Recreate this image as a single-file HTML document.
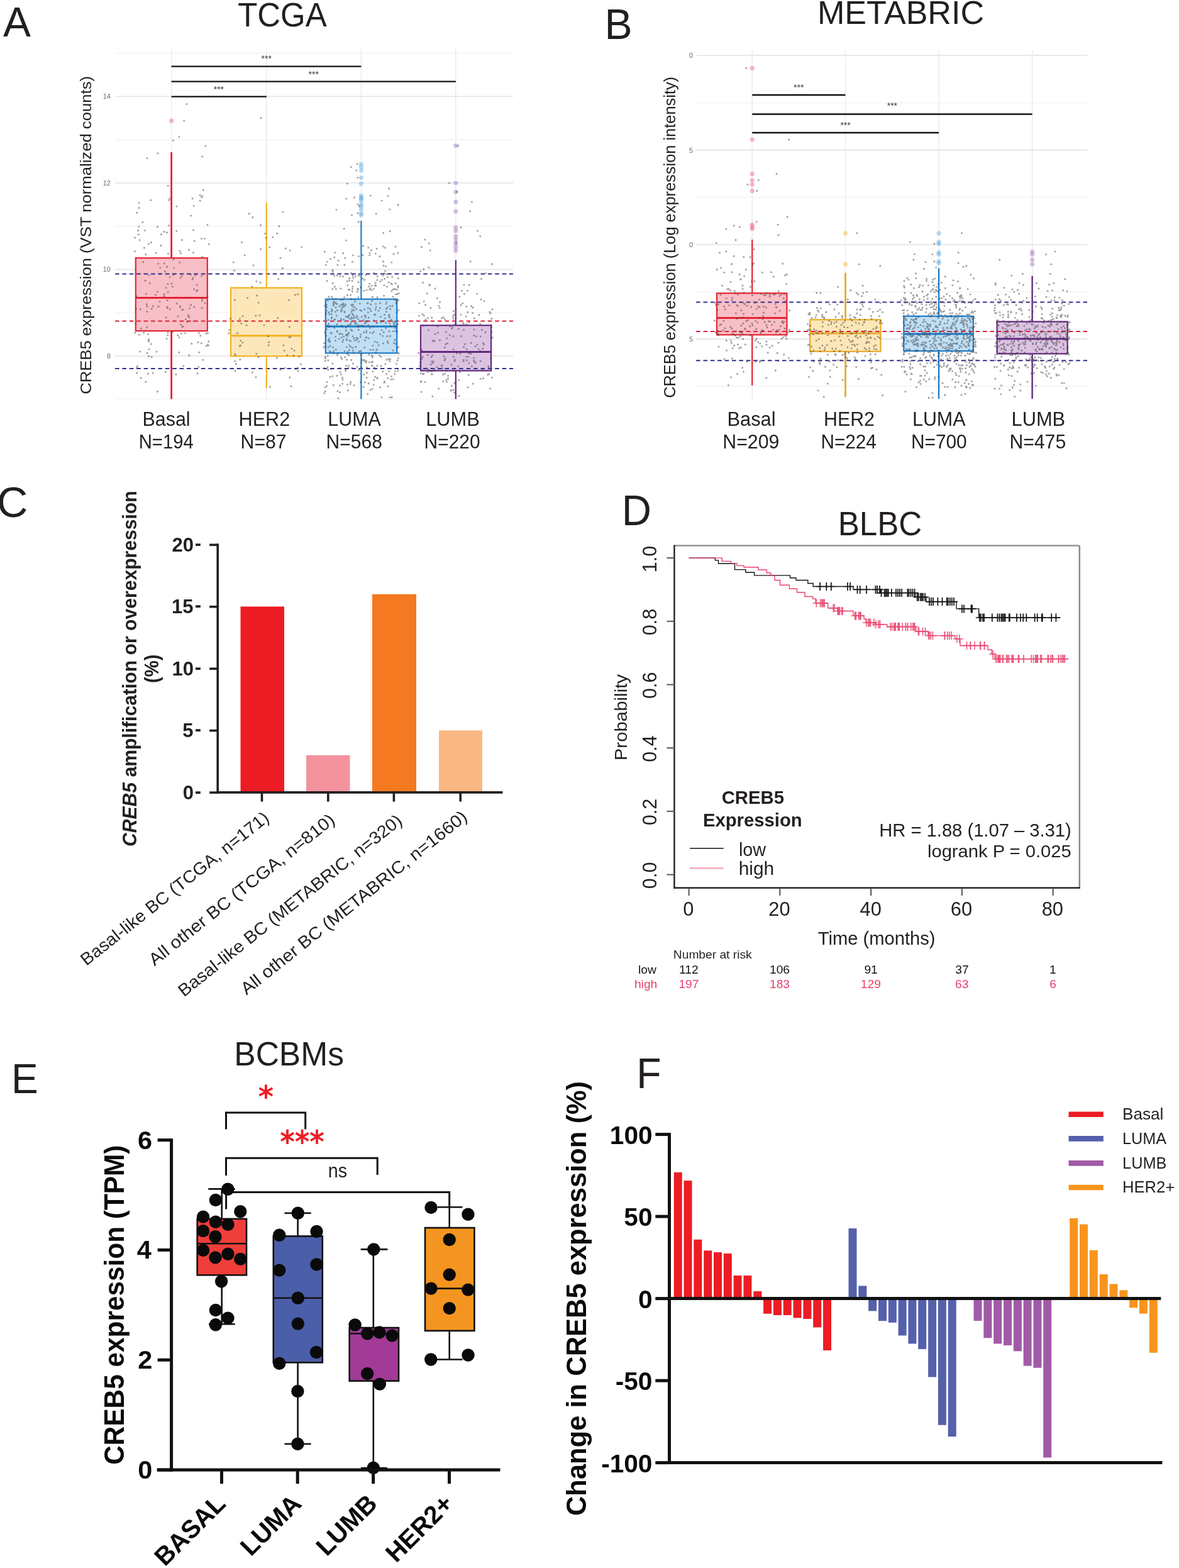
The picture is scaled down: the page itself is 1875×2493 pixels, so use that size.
<!DOCTYPE html>
<html><head><meta charset="utf-8"><title>CREB5 figure</title>
<style>html,body{margin:0;padding:0;background:#fff;}svg{display:block;}</style></head>
<body><svg width="1875" height="2493" viewBox="0 0 1875 2493" font-family='"Liberation Sans", Arial, Helvetica, sans-serif'>
<rect width="1875" height="2493" fill="#fff"/>
<line x1="183" y1="634.5" x2="816" y2="634.5" stroke="#f1f1f1" stroke-width="1.2" />
<line x1="183" y1="497.1" x2="816" y2="497.1" stroke="#f1f1f1" stroke-width="1.2" />
<line x1="183" y1="359.6" x2="816" y2="359.6" stroke="#f1f1f1" stroke-width="1.2" />
<line x1="183" y1="222.1" x2="816" y2="222.1" stroke="#f1f1f1" stroke-width="1.2" />
<line x1="183" y1="84.6" x2="816" y2="84.6" stroke="#f1f1f1" stroke-width="1.2" />
<line x1="183" y1="565.8" x2="816" y2="565.8" stroke="#e6e6e6" stroke-width="1.8" />
<line x1="183" y1="428.3" x2="816" y2="428.3" stroke="#e6e6e6" stroke-width="1.8" />
<line x1="183" y1="290.8" x2="816" y2="290.8" stroke="#e6e6e6" stroke-width="1.8" />
<line x1="183" y1="153.3" x2="816" y2="153.3" stroke="#e6e6e6" stroke-width="1.8" />
<line x1="272.6" y1="77" x2="272.6" y2="634.5" stroke="#e9e9ee" stroke-width="1.3" />
<line x1="423.8" y1="77" x2="423.8" y2="634.5" stroke="#e9e9ee" stroke-width="1.3" />
<line x1="574.4" y1="77" x2="574.4" y2="634.5" stroke="#e9e9ee" stroke-width="1.3" />
<line x1="724.8" y1="77" x2="724.8" y2="634.5" stroke="#e9e9ee" stroke-width="1.3" />
<text x="176" y="569.8" font-size="11" fill="#6d6d6d" text-anchor="end" >8</text>
<text x="176" y="432.3" font-size="11" fill="#6d6d6d" text-anchor="end" >10</text>
<text x="176" y="294.8" font-size="11" fill="#6d6d6d" text-anchor="end" >12</text>
<text x="176" y="157.3" font-size="11" fill="#6d6d6d" text-anchor="end" >14</text>
<rect x="215.8" y="410.2" width="114" height="115.9" fill="#f8bfc6" fill-opacity="1"/>
<rect x="367" y="457.6" width="113" height="108.7" fill="#fde7b8" fill-opacity="1"/>
<rect x="517.8" y="475.6" width="113.4" height="85.8" fill="#bfdff6" fill-opacity="1"/>
<rect x="669" y="517.3" width="112" height="72.1" fill="#dcc3e2" fill-opacity="1"/>
<line x1="183" y1="435.6" x2="816" y2="435.6" stroke="#2e3192" stroke-width="2" stroke-dasharray="6.6 4.8"/>
<line x1="183" y1="586" x2="816" y2="586" stroke="#2e3192" stroke-width="2" stroke-dasharray="6.6 4.8"/>
<line x1="183" y1="510.4" x2="816" y2="510.4" stroke="#e0203a" stroke-width="2" stroke-dasharray="6.6 4.8"/>
<line x1="272.6" y1="242" x2="272.6" y2="410.2" stroke="#e52431" stroke-width="2.8" />
<line x1="272.6" y1="526.1" x2="272.6" y2="634.5" stroke="#e52431" stroke-width="2.8" />
<line x1="423.8" y1="322" x2="423.8" y2="457.6" stroke="#f4b11d" stroke-width="2.2" />
<line x1="423.8" y1="566.3" x2="423.8" y2="617" stroke="#f4b11d" stroke-width="2.2" />
<line x1="574.4" y1="351" x2="574.4" y2="475.6" stroke="#1c7cc9" stroke-width="2.2" />
<line x1="574.4" y1="561.4" x2="574.4" y2="634.5" stroke="#1c7cc9" stroke-width="2.2" />
<line x1="724.8" y1="413.7" x2="724.8" y2="517.3" stroke="#62297f" stroke-width="2.2" />
<line x1="724.8" y1="589.4" x2="724.8" y2="634.5" stroke="#62297f" stroke-width="2.2" />
<rect x="215.8" y="410.2" width="114" height="115.9" fill="none" stroke="#e52431" stroke-width="2.2"/>
<line x1="215.8" y1="473.6" x2="329.8" y2="473.6" stroke="#e52431" stroke-width="3" />
<rect x="367" y="457.6" width="113" height="108.7" fill="none" stroke="#f4b11d" stroke-width="2.2"/>
<line x1="367" y1="533.7" x2="480" y2="533.7" stroke="#f4b11d" stroke-width="3" />
<rect x="517.8" y="475.6" width="113.4" height="85.8" fill="none" stroke="#1c7cc9" stroke-width="2.2"/>
<line x1="517.8" y1="519" x2="631.2" y2="519" stroke="#1c7cc9" stroke-width="3" />
<rect x="669" y="517.3" width="112" height="72.1" fill="none" stroke="#62297f" stroke-width="2.2"/>
<line x1="669" y1="559.4" x2="781" y2="559.4" stroke="#62297f" stroke-width="3" />
<circle cx="272.6" cy="192.2" r="3.6" fill="#f0607a" fill-opacity="0.45"/>
<circle cx="574.4" cy="261" r="3.6" fill="#5aaee8" fill-opacity="0.45"/>
<circle cx="574.4" cy="265.5" r="3.6" fill="#5aaee8" fill-opacity="0.45"/>
<circle cx="574.4" cy="271" r="3.6" fill="#5aaee8" fill-opacity="0.45"/>
<circle cx="574.4" cy="282.5" r="3.6" fill="#5aaee8" fill-opacity="0.45"/>
<circle cx="574.4" cy="292" r="3.6" fill="#5aaee8" fill-opacity="0.45"/>
<circle cx="574.4" cy="311" r="3.6" fill="#5aaee8" fill-opacity="0.45"/>
<circle cx="574.4" cy="314" r="3.6" fill="#5aaee8" fill-opacity="0.45"/>
<circle cx="574.4" cy="316" r="3.6" fill="#5aaee8" fill-opacity="0.45"/>
<circle cx="574.4" cy="319" r="3.6" fill="#5aaee8" fill-opacity="0.45"/>
<circle cx="574.4" cy="325" r="3.6" fill="#5aaee8" fill-opacity="0.45"/>
<circle cx="574.4" cy="328" r="3.6" fill="#5aaee8" fill-opacity="0.45"/>
<circle cx="574.4" cy="333" r="3.6" fill="#5aaee8" fill-opacity="0.45"/>
<circle cx="574.4" cy="339" r="3.6" fill="#5aaee8" fill-opacity="0.45"/>
<circle cx="574.4" cy="342" r="3.6" fill="#5aaee8" fill-opacity="0.45"/>
<circle cx="724.8" cy="231.6" r="3.6" fill="#a070b8" fill-opacity="0.45"/>
<circle cx="724.8" cy="291" r="3.6" fill="#a070b8" fill-opacity="0.45"/>
<circle cx="724.8" cy="305" r="3.6" fill="#a070b8" fill-opacity="0.45"/>
<circle cx="724.8" cy="321" r="3.6" fill="#a070b8" fill-opacity="0.45"/>
<circle cx="724.8" cy="336" r="3.6" fill="#a070b8" fill-opacity="0.45"/>
<circle cx="724.8" cy="361.6" r="3.6" fill="#a070b8" fill-opacity="0.45"/>
<circle cx="724.8" cy="367" r="3.6" fill="#a070b8" fill-opacity="0.45"/>
<circle cx="724.8" cy="375.7" r="3.6" fill="#a070b8" fill-opacity="0.45"/>
<circle cx="724.8" cy="381" r="3.6" fill="#a070b8" fill-opacity="0.45"/>
<circle cx="724.8" cy="387" r="3.6" fill="#a070b8" fill-opacity="0.45"/>
<circle cx="724.8" cy="392.6" r="3.6" fill="#a070b8" fill-opacity="0.45"/>
<circle cx="724.8" cy="398.3" r="3.6" fill="#a070b8" fill-opacity="0.45"/>
<path d="M267.2 357.2h2.6v2.6h-2.6zM281.8 501.7h2.6v2.6h-2.6zM306.5 509.5h2.6v2.6h-2.6zM247.7 557.8h2.6v2.6h-2.6zM216.3 591.7h2.6v2.6h-2.6zM327.1 548.8h2.6v2.6h-2.6zM213.1 398.5h2.6v2.6h-2.6zM218.4 365.3h2.6v2.6h-2.6zM264.2 422.8h2.6v2.6h-2.6zM273.6 526.2h2.6v2.6h-2.6zM266.2 401.9h2.6v2.6h-2.6zM331 386.9h2.6v2.6h-2.6zM249.1 621.3h2.6v2.6h-2.6zM246 467.4h2.6v2.6h-2.6zM312.9 592.3h2.6v2.6h-2.6zM326.3 529h2.6v2.6h-2.6zM320.5 473.8h2.6v2.6h-2.6zM328.9 469.8h2.6v2.6h-2.6zM304.7 443h2.6v2.6h-2.6zM221.8 490.5h2.6v2.6h-2.6zM225.5 352.1h2.6v2.6h-2.6zM232.6 494.3h2.6v2.6h-2.6zM265 488.5h2.6v2.6h-2.6zM288.5 518.3h2.6v2.6h-2.6zM261.8 589.9h2.6v2.6h-2.6zM307.7 486.6h2.6v2.6h-2.6zM317.5 532.4h2.6v2.6h-2.6zM288.3 491.3h2.6v2.6h-2.6zM330 547.9h2.6v2.6h-2.6zM250.8 486.1h2.6v2.6h-2.6zM220.1 530.9h2.6v2.6h-2.6zM283.5 559.1h2.6v2.6h-2.6zM265.7 527.5h2.6v2.6h-2.6zM315.3 558.9h2.6v2.6h-2.6zM229.8 444.9h2.6v2.6h-2.6zM234.1 592.8h2.6v2.6h-2.6zM324.1 377.9h2.6v2.6h-2.6zM283.7 535.1h2.6v2.6h-2.6zM239.9 489.7h2.6v2.6h-2.6zM242.1 485.6h2.6v2.6h-2.6zM232.4 519.2h2.6v2.6h-2.6zM219.6 359h2.6v2.6h-2.6zM285 485.8h2.6v2.6h-2.6zM321.4 571h2.6v2.6h-2.6zM264.8 476.4h2.6v2.6h-2.6zM232.5 485.9h2.6v2.6h-2.6zM254.8 389.1h2.6v2.6h-2.6zM329 546.8h2.6v2.6h-2.6zM228.1 392.8h2.6v2.6h-2.6zM320.5 247.7h2.6v2.6h-2.6zM269.2 490.4h2.6v2.6h-2.6zM249.6 242.5h2.6v2.6h-2.6zM299.7 503.1h2.6v2.6h-2.6zM299.8 472.1h2.6v2.6h-2.6zM253.5 424.4h2.6v2.6h-2.6zM319.4 312.4h2.6v2.6h-2.6zM314.9 528.1h2.6v2.6h-2.6zM286.3 401.6h2.6v2.6h-2.6zM220.9 380.5h2.6v2.6h-2.6zM330.5 541.6h2.6v2.6h-2.6zM299.5 563.8h2.6v2.6h-2.6zM264.2 368.3h2.6v2.6h-2.6zM214.9 489.5h2.6v2.6h-2.6zM269 438.9h2.6v2.6h-2.6zM285 487.2h2.6v2.6h-2.6zM242 591.9h2.6v2.6h-2.6zM235.6 538h2.6v2.6h-2.6zM320 477h2.6v2.6h-2.6zM250.5 417.9h2.6v2.6h-2.6zM235.1 386.6h2.6v2.6h-2.6zM316.9 317.9h2.6v2.6h-2.6zM281.3 531.6h2.6v2.6h-2.6zM311.8 451.7h2.6v2.6h-2.6zM296.6 510.8h2.6v2.6h-2.6zM265.4 531.9h2.6v2.6h-2.6zM237 448.9h2.6v2.6h-2.6zM249.1 359.3h2.6v2.6h-2.6zM329.1 528.4h2.6v2.6h-2.6zM216.3 583.3h2.6v2.6h-2.6zM279.8 481.3h2.6v2.6h-2.6zM265.9 294h2.6v2.6h-2.6zM239.8 566.3h2.6v2.6h-2.6zM264.9 487.6h2.6v2.6h-2.6zM289.9 491h2.6v2.6h-2.6zM235.2 541.6h2.6v2.6h-2.6zM232.7 250.5h2.6v2.6h-2.6zM232.8 560.1h2.6v2.6h-2.6zM252.8 478.2h2.6v2.6h-2.6zM302 435.3h2.6v2.6h-2.6zM306.3 364.5h2.6v2.6h-2.6zM298 499.9h2.6v2.6h-2.6zM265.7 450h2.6v2.6h-2.6zM279.6 327h2.6v2.6h-2.6zM306.9 326h2.6v2.6h-2.6zM235.9 553.9h2.6v2.6h-2.6zM309.5 436.3h2.6v2.6h-2.6zM319.3 378.2h2.6v2.6h-2.6zM328.6 356.2h2.6v2.6h-2.6zM320.5 310.5h2.6v2.6h-2.6zM253.1 434h2.6v2.6h-2.6zM303.5 545.1h2.6v2.6h-2.6zM214.7 514h2.6v2.6h-2.6zM232 482.6h2.6v2.6h-2.6zM305.8 440.4h2.6v2.6h-2.6zM298.1 500.3h2.6v2.6h-2.6zM294 506.4h2.6v2.6h-2.6zM221.6 557.7h2.6v2.6h-2.6zM274.5 435.7h2.6v2.6h-2.6zM274 434.4h2.6v2.6h-2.6zM278.5 594.1h2.6v2.6h-2.6zM319.4 437.5h2.6v2.6h-2.6zM313.4 542.9h2.6v2.6h-2.6zM235.4 565.3h2.6v2.6h-2.6zM271.7 449.7h2.6v2.6h-2.6zM273.2 454.7h2.6v2.6h-2.6zM307.4 458.6h2.6v2.6h-2.6zM219.2 371.5h2.6v2.6h-2.6zM261 430.3h2.6v2.6h-2.6zM226.5 415.3h2.6v2.6h-2.6zM268.5 314.2h2.6v2.6h-2.6zM234.3 530.2h2.6v2.6h-2.6zM304.8 314.3h2.6v2.6h-2.6zM238.6 316.9h2.6v2.6h-2.6zM285.7 440.4h2.6v2.6h-2.6zM299 395.8h2.6v2.6h-2.6zM235 539h2.6v2.6h-2.6zM263.7 537.2h2.6v2.6h-2.6zM230.5 403.3h2.6v2.6h-2.6zM287.1 528.9h2.6v2.6h-2.6zM284.7 397.9h2.6v2.6h-2.6zM239.2 384.1h2.6v2.6h-2.6zM249.2 462.4h2.6v2.6h-2.6zM322 301.1h2.6v2.6h-2.6zM227.4 527.7h2.6v2.6h-2.6zM311.2 461.6h2.6v2.6h-2.6zM306.1 400.2h2.6v2.6h-2.6zM213.4 527.8h2.6v2.6h-2.6zM293.2 528.5h2.6v2.6h-2.6zM302.3 341.7h2.6v2.6h-2.6zM219.8 329.3h2.6v2.6h-2.6zM215.8 469.8h2.6v2.6h-2.6zM228.9 365.2h2.6v2.6h-2.6zM235.8 436.2h2.6v2.6h-2.6zM222.7 599.6h2.6v2.6h-2.6zM325.5 230.9h2.6v2.6h-2.6zM267.3 316.9h2.6v2.6h-2.6zM262.9 503.6h2.6v2.6h-2.6zM312.6 459.9h2.6v2.6h-2.6zM265.8 463.2h2.6v2.6h-2.6zM231.1 465.9h2.6v2.6h-2.6zM213.2 376.7h2.6v2.6h-2.6zM314.6 581.9h2.6v2.6h-2.6zM259.8 367.1h2.6v2.6h-2.6zM307.9 382h2.6v2.6h-2.6zM320.7 407.1h2.6v2.6h-2.6zM260 466.6h2.6v2.6h-2.6zM316.9 309.3h2.6v2.6h-2.6zM260 417.7h2.6v2.6h-2.6zM219.8 321.4h2.6v2.6h-2.6zM287.9 380.3h2.6v2.6h-2.6zM239.2 545.7h2.6v2.6h-2.6zM290.5 580.7h2.6v2.6h-2.6zM275.3 424.9h2.6v2.6h-2.6zM295.5 164.2h2.6v2.6h-2.6zM300 488.9h2.6v2.6h-2.6zM259.5 469.8h2.6v2.6h-2.6zM223.1 521.1h2.6v2.6h-2.6zM320 488.3h2.6v2.6h-2.6zM279.5 365.9h2.6v2.6h-2.6zM287.9 437.7h2.6v2.6h-2.6zM302.4 483.6h2.6v2.6h-2.6zM230.5 605.8h2.6v2.6h-2.6zM284.6 416h2.6v2.6h-2.6zM324.7 480.7h2.6v2.6h-2.6zM255.2 371.3h2.6v2.6h-2.6zM289.9 517.8h2.6v2.6h-2.6zM246.8 401h2.6v2.6h-2.6zM216.4 336.9h2.6v2.6h-2.6zM319 544.6h2.6v2.6h-2.6zM217.3 580.9h2.6v2.6h-2.6zM262.8 456.4h2.6v2.6h-2.6zM274.1 221.9h2.6v2.6h-2.6zM298 501.7h2.6v2.6h-2.6zM283.7 216.5h2.6v2.6h-2.6zM286.2 515h2.6v2.6h-2.6zM274.7 411.3h2.6v2.6h-2.6zM264.4 486.7h2.6v2.6h-2.6zM291.4 190.9h2.6v2.6h-2.6zM412.8 447.8h2.6v2.6h-2.6zM426.2 542.8h2.6v2.6h-2.6zM376.2 528.3h2.6v2.6h-2.6zM405.6 598.5h2.6v2.6h-2.6zM444.7 409h2.6v2.6h-2.6zM452.9 393.8h2.6v2.6h-2.6zM392.4 472.5h2.6v2.6h-2.6zM395 338.6h2.6v2.6h-2.6zM427.5 391.8h2.6v2.6h-2.6zM372.9 563h2.6v2.6h-2.6zM407.3 468.6h2.6v2.6h-2.6zM387.8 404.7h2.6v2.6h-2.6zM371.4 428.8h2.6v2.6h-2.6zM459.6 598.8h2.6v2.6h-2.6zM413.4 394.8h2.6v2.6h-2.6zM459.7 397h2.6v2.6h-2.6zM401.5 420.7h2.6v2.6h-2.6zM452 584h2.6v2.6h-2.6zM374.1 577.3h2.6v2.6h-2.6zM371.9 475.5h2.6v2.6h-2.6zM444.7 586.4h2.6v2.6h-2.6zM455.6 563.4h2.6v2.6h-2.6zM372.3 562.1h2.6v2.6h-2.6zM449.5 547.8h2.6v2.6h-2.6zM405.4 500.7h2.6v2.6h-2.6zM406.5 446h2.6v2.6h-2.6zM472.7 588.6h2.6v2.6h-2.6zM472.1 583.5h2.6v2.6h-2.6zM400.6 344.3h2.6v2.6h-2.6zM474.7 565.5h2.6v2.6h-2.6zM406.4 561.2h2.6v2.6h-2.6zM410 480h2.6v2.6h-2.6zM458.1 475.9h2.6v2.6h-2.6zM462.9 553.1h2.6v2.6h-2.6zM468.2 467.5h2.6v2.6h-2.6zM365.2 505.4h2.6v2.6h-2.6zM478.5 391.7h2.6v2.6h-2.6zM459 518.5h2.6v2.6h-2.6zM372.6 588.3h2.6v2.6h-2.6zM450.9 556.2h2.6v2.6h-2.6zM379.8 548.8h2.6v2.6h-2.6zM440.4 504.3h2.6v2.6h-2.6zM425.1 533.4h2.6v2.6h-2.6zM409.8 566.5h2.6v2.6h-2.6zM421.7 377h2.6v2.6h-2.6zM411.8 500.2h2.6v2.6h-2.6zM442.5 358.3h2.6v2.6h-2.6zM469.1 585.4h2.6v2.6h-2.6zM439.3 369.8h2.6v2.6h-2.6zM413.1 356.8h2.6v2.6h-2.6zM380 505.9h2.6v2.6h-2.6zM382.6 513.3h2.6v2.6h-2.6zM413.5 186.6h2.6v2.6h-2.6zM399.5 454.5h2.6v2.6h-2.6zM370 415.7h2.6v2.6h-2.6zM432.6 376h2.6v2.6h-2.6zM384.6 543.5h2.6v2.6h-2.6zM390.7 515.8h2.6v2.6h-2.6zM384.7 501.4h2.6v2.6h-2.6zM383.2 384h2.6v2.6h-2.6zM460.6 534.4h2.6v2.6h-2.6zM393.8 435h2.6v2.6h-2.6zM428.2 613.8h2.6v2.6h-2.6zM420.4 369.9h2.6v2.6h-2.6zM458.7 535.2h2.6v2.6h-2.6zM425.8 547.6h2.6v2.6h-2.6zM441.4 442.5h2.6v2.6h-2.6zM363.8 523.4h2.6v2.6h-2.6zM448.1 425.3h2.6v2.6h-2.6zM381.4 540.4h2.6v2.6h-2.6zM466.8 555.9h2.6v2.6h-2.6zM438.9 567.9h2.6v2.6h-2.6zM380.6 570.4h2.6v2.6h-2.6zM362.7 528.6h2.6v2.6h-2.6zM372.4 573h2.6v2.6h-2.6zM448.5 335.7h2.6v2.6h-2.6zM477.2 577.7h2.6v2.6h-2.6zM465.4 564.1h2.6v2.6h-2.6zM472.5 466.6h2.6v2.6h-2.6zM461.7 612.9h2.6v2.6h-2.6zM381.4 548h2.6v2.6h-2.6zM399.9 590.9h2.6v2.6h-2.6zM418.6 515.7h2.6v2.6h-2.6zM556.3 540.9h2.6v2.6h-2.6zM568.5 506h2.6v2.6h-2.6zM612.7 489.6h2.6v2.6h-2.6zM598.3 511.9h2.6v2.6h-2.6zM580.8 509.3h2.6v2.6h-2.6zM609 508.7h2.6v2.6h-2.6zM587 520.1h2.6v2.6h-2.6zM548.9 502h2.6v2.6h-2.6zM560.2 576.8h2.6v2.6h-2.6zM600.9 492.9h2.6v2.6h-2.6zM626.5 474.8h2.6v2.6h-2.6zM612.3 422.4h2.6v2.6h-2.6zM530 478h2.6v2.6h-2.6zM534.7 596.1h2.6v2.6h-2.6zM613.5 570.6h2.6v2.6h-2.6zM532 494.4h2.6v2.6h-2.6zM561.9 502.3h2.6v2.6h-2.6zM590.8 580.1h2.6v2.6h-2.6zM552.9 530h2.6v2.6h-2.6zM515 399h2.6v2.6h-2.6zM607.9 436.7h2.6v2.6h-2.6zM586.1 574.7h2.6v2.6h-2.6zM591.2 573.7h2.6v2.6h-2.6zM558.4 524.3h2.6v2.6h-2.6zM586.5 404.5h2.6v2.6h-2.6zM605.1 511h2.6v2.6h-2.6zM573.1 582.7h2.6v2.6h-2.6zM598.7 471.3h2.6v2.6h-2.6zM613.4 593.2h2.6v2.6h-2.6zM626.5 511.3h2.6v2.6h-2.6zM542.5 487.9h2.6v2.6h-2.6zM596.8 487.1h2.6v2.6h-2.6zM568.7 447.1h2.6v2.6h-2.6zM578.3 551.2h2.6v2.6h-2.6zM580.3 512h2.6v2.6h-2.6zM611.2 505h2.6v2.6h-2.6zM620.7 601.9h2.6v2.6h-2.6zM581.9 599.4h2.6v2.6h-2.6zM522.3 537.3h2.6v2.6h-2.6zM631.5 400.7h2.6v2.6h-2.6zM593.6 603.2h2.6v2.6h-2.6zM558.9 482.7h2.6v2.6h-2.6zM569.3 406.3h2.6v2.6h-2.6zM559.5 454.3h2.6v2.6h-2.6zM544.7 481.7h2.6v2.6h-2.6zM553 500.9h2.6v2.6h-2.6zM530.5 506.5h2.6v2.6h-2.6zM585.1 503.8h2.6v2.6h-2.6zM595.8 452.6h2.6v2.6h-2.6zM603.3 529.9h2.6v2.6h-2.6zM615.7 310.5h2.6v2.6h-2.6zM565.2 535.8h2.6v2.6h-2.6zM576.1 389.8h2.6v2.6h-2.6zM621.6 461.4h2.6v2.6h-2.6zM621.1 508.4h2.6v2.6h-2.6zM584.8 536.7h2.6v2.6h-2.6zM521.5 518.3h2.6v2.6h-2.6zM566.7 462.8h2.6v2.6h-2.6zM596.5 453h2.6v2.6h-2.6zM541.8 516.6h2.6v2.6h-2.6zM521.3 495.3h2.6v2.6h-2.6zM629.1 576.9h2.6v2.6h-2.6zM609.7 452.5h2.6v2.6h-2.6zM602.7 406.3h2.6v2.6h-2.6zM608.2 390.7h2.6v2.6h-2.6zM577.6 461h2.6v2.6h-2.6zM549 519.7h2.6v2.6h-2.6zM520.6 517h2.6v2.6h-2.6zM555.9 609.1h2.6v2.6h-2.6zM518.6 445.3h2.6v2.6h-2.6zM625.2 543.8h2.6v2.6h-2.6zM548.5 588.1h2.6v2.6h-2.6zM620.7 507.3h2.6v2.6h-2.6zM569.8 558h2.6v2.6h-2.6zM618.7 630.7h2.6v2.6h-2.6zM536.1 559.9h2.6v2.6h-2.6zM519.1 516.5h2.6v2.6h-2.6zM621.1 597.2h2.6v2.6h-2.6zM598.7 580.2h2.6v2.6h-2.6zM566.5 581.9h2.6v2.6h-2.6zM539.9 590.4h2.6v2.6h-2.6zM534.8 482.1h2.6v2.6h-2.6zM592.9 610.4h2.6v2.6h-2.6zM619.2 533h2.6v2.6h-2.6zM540.6 457.6h2.6v2.6h-2.6zM546.3 471.4h2.6v2.6h-2.6zM576.8 613.9h2.6v2.6h-2.6zM543.2 599.3h2.6v2.6h-2.6zM523.6 541.6h2.6v2.6h-2.6zM546.6 494h2.6v2.6h-2.6zM535.5 620.7h2.6v2.6h-2.6zM603.2 480.6h2.6v2.6h-2.6zM624.6 402.6h2.6v2.6h-2.6zM590.5 477.2h2.6v2.6h-2.6zM592.1 517.7h2.6v2.6h-2.6zM614.5 533.3h2.6v2.6h-2.6zM575.6 441.8h2.6v2.6h-2.6zM532.9 554.8h2.6v2.6h-2.6zM541.3 505.8h2.6v2.6h-2.6zM608 414.6h2.6v2.6h-2.6zM571.8 557.3h2.6v2.6h-2.6zM517.3 532.6h2.6v2.6h-2.6zM598.9 599.2h2.6v2.6h-2.6zM531.3 400.4h2.6v2.6h-2.6zM565.3 490.3h2.6v2.6h-2.6zM521.8 470.8h2.6v2.6h-2.6zM581.4 535.3h2.6v2.6h-2.6zM530.6 407.9h2.6v2.6h-2.6zM518.2 487.1h2.6v2.6h-2.6zM544.9 482.4h2.6v2.6h-2.6zM523.7 598.2h2.6v2.6h-2.6zM532.3 534.2h2.6v2.6h-2.6zM612.8 482h2.6v2.6h-2.6zM556.8 522.8h2.6v2.6h-2.6zM629.6 495.4h2.6v2.6h-2.6zM631.4 588.1h2.6v2.6h-2.6zM567.7 536.8h2.6v2.6h-2.6zM619.9 517.1h2.6v2.6h-2.6zM560.3 499.5h2.6v2.6h-2.6zM517.2 497.6h2.6v2.6h-2.6zM604.7 580.8h2.6v2.6h-2.6zM579.3 513.1h2.6v2.6h-2.6zM568.5 471.4h2.6v2.6h-2.6zM630.8 572.2h2.6v2.6h-2.6zM517.9 492.5h2.6v2.6h-2.6zM554.3 441.3h2.6v2.6h-2.6zM616.8 569.8h2.6v2.6h-2.6zM560.3 404.7h2.6v2.6h-2.6zM558.8 445.3h2.6v2.6h-2.6zM535.1 526.3h2.6v2.6h-2.6zM532.8 473.7h2.6v2.6h-2.6zM550.1 530.2h2.6v2.6h-2.6zM632.3 559.5h2.6v2.6h-2.6zM559.1 462.5h2.6v2.6h-2.6zM596.1 402h2.6v2.6h-2.6zM544.6 401.3h2.6v2.6h-2.6zM623.9 555.9h2.6v2.6h-2.6zM531.5 506.7h2.6v2.6h-2.6zM556.3 468h2.6v2.6h-2.6zM515.5 527.6h2.6v2.6h-2.6zM559.2 415h2.6v2.6h-2.6zM605.6 630.4h2.6v2.6h-2.6zM519.7 582.6h2.6v2.6h-2.6zM584.5 392.5h2.6v2.6h-2.6zM564 438.2h2.6v2.6h-2.6zM544.3 484.2h2.6v2.6h-2.6zM593 508.2h2.6v2.6h-2.6zM598.6 543.3h2.6v2.6h-2.6zM559.5 551.7h2.6v2.6h-2.6zM554.5 547.7h2.6v2.6h-2.6zM518 483.3h2.6v2.6h-2.6zM610.2 605.3h2.6v2.6h-2.6zM548.9 531.3h2.6v2.6h-2.6zM595.8 448.6h2.6v2.6h-2.6zM627.7 391h2.6v2.6h-2.6zM523.9 548.8h2.6v2.6h-2.6zM560.2 483.1h2.6v2.6h-2.6zM572.8 575.2h2.6v2.6h-2.6zM532.1 540.5h2.6v2.6h-2.6zM592.9 457.9h2.6v2.6h-2.6zM524.3 558.8h2.6v2.6h-2.6zM583 480.9h2.6v2.6h-2.6zM579.5 572.9h2.6v2.6h-2.6zM556.8 513.4h2.6v2.6h-2.6zM561.6 504.5h2.6v2.6h-2.6zM569.4 587h2.6v2.6h-2.6zM543.5 542.4h2.6v2.6h-2.6zM581 575.1h2.6v2.6h-2.6zM593.3 526.2h2.6v2.6h-2.6zM627.7 545.4h2.6v2.6h-2.6zM582.2 582.8h2.6v2.6h-2.6zM587.6 618.7h2.6v2.6h-2.6zM563 478.5h2.6v2.6h-2.6zM558.9 497.9h2.6v2.6h-2.6zM550.1 550.7h2.6v2.6h-2.6zM630.3 525.8h2.6v2.6h-2.6zM594.7 541.9h2.6v2.6h-2.6zM513.2 550.9h2.6v2.6h-2.6zM572.3 455.7h2.6v2.6h-2.6zM578.9 500.2h2.6v2.6h-2.6zM629.4 459.1h2.6v2.6h-2.6zM554.7 459.6h2.6v2.6h-2.6zM596.5 558.9h2.6v2.6h-2.6zM628.8 481.2h2.6v2.6h-2.6zM572 534.4h2.6v2.6h-2.6zM557.4 483.8h2.6v2.6h-2.6zM541.5 493.9h2.6v2.6h-2.6zM552.1 619.6h2.6v2.6h-2.6zM520.7 550.8h2.6v2.6h-2.6zM525.4 585.5h2.6v2.6h-2.6zM605.8 508.9h2.6v2.6h-2.6zM532.6 487.5h2.6v2.6h-2.6zM543.6 602.4h2.6v2.6h-2.6zM608.7 420.9h2.6v2.6h-2.6zM599 438.1h2.6v2.6h-2.6zM553.2 580.2h2.6v2.6h-2.6zM581.2 524.7h2.6v2.6h-2.6zM597.9 394.2h2.6v2.6h-2.6zM528.1 430.8h2.6v2.6h-2.6zM593.4 433h2.6v2.6h-2.6zM626 515.7h2.6v2.6h-2.6zM529.1 557.6h2.6v2.6h-2.6zM560.7 492.1h2.6v2.6h-2.6zM631.8 455.7h2.6v2.6h-2.6zM518.2 612.4h2.6v2.6h-2.6zM600.8 547.6h2.6v2.6h-2.6zM516.3 549.5h2.6v2.6h-2.6zM571.1 516.4h2.6v2.6h-2.6zM613.7 479h2.6v2.6h-2.6zM560.1 556.3h2.6v2.6h-2.6zM559.8 436.8h2.6v2.6h-2.6zM578.6 443.8h2.6v2.6h-2.6zM526 528.7h2.6v2.6h-2.6zM543.3 483.2h2.6v2.6h-2.6zM515.4 485.2h2.6v2.6h-2.6zM530.3 520h2.6v2.6h-2.6zM571 481.4h2.6v2.6h-2.6zM544.3 481.2h2.6v2.6h-2.6zM550.2 539.5h2.6v2.6h-2.6zM535 525h2.6v2.6h-2.6zM617.2 298.6h2.6v2.6h-2.6zM562.8 540.1h2.6v2.6h-2.6zM579.2 539.8h2.6v2.6h-2.6zM587.9 457.2h2.6v2.6h-2.6zM632.4 491.9h2.6v2.6h-2.6zM516.3 568.4h2.6v2.6h-2.6zM527.4 428.3h2.6v2.6h-2.6zM550.3 570.6h2.6v2.6h-2.6zM514.4 544.5h2.6v2.6h-2.6zM610.3 499.2h2.6v2.6h-2.6zM612.4 511.8h2.6v2.6h-2.6zM631.4 453h2.6v2.6h-2.6zM543.2 608.9h2.6v2.6h-2.6zM540.4 529.3h2.6v2.6h-2.6zM557.4 510.2h2.6v2.6h-2.6zM589.7 452.9h2.6v2.6h-2.6zM546.6 419.8h2.6v2.6h-2.6zM553.3 563.5h2.6v2.6h-2.6zM538.5 485.9h2.6v2.6h-2.6zM534.4 514.2h2.6v2.6h-2.6zM530.3 436.9h2.6v2.6h-2.6zM561.5 492.2h2.6v2.6h-2.6zM577.6 571.6h2.6v2.6h-2.6zM551.6 558.3h2.6v2.6h-2.6zM526.1 504.8h2.6v2.6h-2.6zM539.5 584.2h2.6v2.6h-2.6zM597.8 512.3h2.6v2.6h-2.6zM626.8 539.7h2.6v2.6h-2.6zM535.1 562.9h2.6v2.6h-2.6zM589.3 396.6h2.6v2.6h-2.6zM619.6 490.2h2.6v2.6h-2.6zM588.5 482.8h2.6v2.6h-2.6zM613.6 434.4h2.6v2.6h-2.6zM567.5 515.2h2.6v2.6h-2.6zM540.7 483.7h2.6v2.6h-2.6zM581.8 459.9h2.6v2.6h-2.6zM566.7 501.3h2.6v2.6h-2.6zM584.4 516.1h2.6v2.6h-2.6zM632.2 550.5h2.6v2.6h-2.6zM550.7 502.3h2.6v2.6h-2.6zM617.2 501.6h2.6v2.6h-2.6zM631.9 324.3h2.6v2.6h-2.6zM591 470.8h2.6v2.6h-2.6zM612.6 520.3h2.6v2.6h-2.6zM520.9 539.9h2.6v2.6h-2.6zM598.5 444.1h2.6v2.6h-2.6zM577.5 517.2h2.6v2.6h-2.6zM536.6 631.8h2.6v2.6h-2.6zM579.7 500.6h2.6v2.6h-2.6zM572 606.5h2.6v2.6h-2.6zM605.6 523.5h2.6v2.6h-2.6zM621.8 630.3h2.6v2.6h-2.6zM525.1 528.1h2.6v2.6h-2.6zM616.9 447.7h2.6v2.6h-2.6zM559.7 533.5h2.6v2.6h-2.6zM587.1 489.9h2.6v2.6h-2.6zM537.9 537.5h2.6v2.6h-2.6zM618.3 503.3h2.6v2.6h-2.6zM564.8 511.7h2.6v2.6h-2.6zM550.9 446h2.6v2.6h-2.6zM596.5 482h2.6v2.6h-2.6zM528.5 479.9h2.6v2.6h-2.6zM527 492.7h2.6v2.6h-2.6zM586.3 450h2.6v2.6h-2.6zM596.1 491.1h2.6v2.6h-2.6zM556.3 550.1h2.6v2.6h-2.6zM588.8 493.3h2.6v2.6h-2.6zM611.5 577.5h2.6v2.6h-2.6zM626.1 457.9h2.6v2.6h-2.6zM597.5 555.3h2.6v2.6h-2.6zM617.8 525.5h2.6v2.6h-2.6zM615.6 600.1h2.6v2.6h-2.6zM559.6 486.2h2.6v2.6h-2.6zM585.3 454.2h2.6v2.6h-2.6zM546.9 495.5h2.6v2.6h-2.6zM627.6 525h2.6v2.6h-2.6zM542.5 491.3h2.6v2.6h-2.6zM529 611.1h2.6v2.6h-2.6zM554.1 555.6h2.6v2.6h-2.6zM615.1 487.8h2.6v2.6h-2.6zM620.7 449.6h2.6v2.6h-2.6zM556.7 474.1h2.6v2.6h-2.6zM554.4 445h2.6v2.6h-2.6zM627.1 589.2h2.6v2.6h-2.6zM556.5 605.8h2.6v2.6h-2.6zM551 530.6h2.6v2.6h-2.6zM630.3 475.8h2.6v2.6h-2.6zM560.5 440.6h2.6v2.6h-2.6zM632.8 560.9h2.6v2.6h-2.6zM568.6 435.6h2.6v2.6h-2.6zM631.9 441.2h2.6v2.6h-2.6zM557.5 571.1h2.6v2.6h-2.6zM523.1 556.9h2.6v2.6h-2.6zM591 567h2.6v2.6h-2.6zM610.4 441.9h2.6v2.6h-2.6zM606.2 443.7h2.6v2.6h-2.6zM626.4 593.4h2.6v2.6h-2.6zM516 566h2.6v2.6h-2.6zM526.4 470.4h2.6v2.6h-2.6zM549.3 580.4h2.6v2.6h-2.6zM528.7 484.5h2.6v2.6h-2.6zM574.6 516.2h2.6v2.6h-2.6zM562.8 487.3h2.6v2.6h-2.6zM539.2 622.5h2.6v2.6h-2.6zM615.2 439.2h2.6v2.6h-2.6zM615.1 541.7h2.6v2.6h-2.6zM561.9 611.5h2.6v2.6h-2.6zM514.4 623.9h2.6v2.6h-2.6zM611.3 392.6h2.6v2.6h-2.6zM576.8 507.8h2.6v2.6h-2.6zM549.2 381h2.6v2.6h-2.6zM518.6 605.9h2.6v2.6h-2.6zM522.5 498.2h2.6v2.6h-2.6zM552.6 515.6h2.6v2.6h-2.6zM591.6 548.2h2.6v2.6h-2.6zM621.6 416h2.6v2.6h-2.6zM544.1 474.9h2.6v2.6h-2.6zM564.6 550.3h2.6v2.6h-2.6zM567.2 457.7h2.6v2.6h-2.6zM520.5 586.6h2.6v2.6h-2.6zM539.8 437.9h2.6v2.6h-2.6zM557.7 503.6h2.6v2.6h-2.6zM603 488.6h2.6v2.6h-2.6zM514.2 584.2h2.6v2.6h-2.6zM628.4 517.9h2.6v2.6h-2.6zM584.9 608.3h2.6v2.6h-2.6zM583.8 480.7h2.6v2.6h-2.6zM572.8 556.7h2.6v2.6h-2.6zM524.2 410.5h2.6v2.6h-2.6zM545.5 506.8h2.6v2.6h-2.6zM561.4 536.4h2.6v2.6h-2.6zM594.7 452.7h2.6v2.6h-2.6zM551.2 610.2h2.6v2.6h-2.6zM519.9 564.5h2.6v2.6h-2.6zM518.9 414.9h2.6v2.6h-2.6zM589.7 459.9h2.6v2.6h-2.6zM603.4 614.6h2.6v2.6h-2.6zM563.3 511.7h2.6v2.6h-2.6zM631.1 514.4h2.6v2.6h-2.6zM566 539.2h2.6v2.6h-2.6zM558.4 505h2.6v2.6h-2.6zM551.5 452.4h2.6v2.6h-2.6zM521.7 539.5h2.6v2.6h-2.6zM578.9 606.6h2.6v2.6h-2.6zM527.3 597h2.6v2.6h-2.6zM623.8 458.9h2.6v2.6h-2.6zM527.9 449.1h2.6v2.6h-2.6zM569.8 557.4h2.6v2.6h-2.6zM594 583.3h2.6v2.6h-2.6zM572.3 530.8h2.6v2.6h-2.6zM525.7 494.1h2.6v2.6h-2.6zM533.1 458.5h2.6v2.6h-2.6zM532.8 480.6h2.6v2.6h-2.6zM584.1 495.5h2.6v2.6h-2.6zM614.2 454.4h2.6v2.6h-2.6zM583.2 509.7h2.6v2.6h-2.6zM596.8 338.4h2.6v2.6h-2.6zM544.5 539.3h2.6v2.6h-2.6zM520.8 507.4h2.6v2.6h-2.6zM558.4 434.2h2.6v2.6h-2.6zM580.2 503.4h2.6v2.6h-2.6zM622.3 450.7h2.6v2.6h-2.6zM603.5 446.2h2.6v2.6h-2.6zM549.9 537.6h2.6v2.6h-2.6zM581.3 527.4h2.6v2.6h-2.6zM553.1 503.6h2.6v2.6h-2.6zM609.8 607.2h2.6v2.6h-2.6zM577.3 527.1h2.6v2.6h-2.6zM527.6 473.6h2.6v2.6h-2.6zM624 525.5h2.6v2.6h-2.6zM556.8 433h2.6v2.6h-2.6zM616 613.1h2.6v2.6h-2.6zM544.9 486.7h2.6v2.6h-2.6zM543.5 517.8h2.6v2.6h-2.6zM543.4 530.4h2.6v2.6h-2.6zM547.3 566.7h2.6v2.6h-2.6zM574.2 571h2.6v2.6h-2.6zM615.7 543.8h2.6v2.6h-2.6zM578.4 490.6h2.6v2.6h-2.6zM623.4 509.7h2.6v2.6h-2.6zM544.3 438.5h2.6v2.6h-2.6zM541.1 567.1h2.6v2.6h-2.6zM626.3 458.5h2.6v2.6h-2.6zM581 535.4h2.6v2.6h-2.6zM526.3 490.5h2.6v2.6h-2.6zM592 554.9h2.6v2.6h-2.6zM527.5 576.7h2.6v2.6h-2.6zM520.5 571.6h2.6v2.6h-2.6zM521.2 513.8h2.6v2.6h-2.6zM595.3 598.1h2.6v2.6h-2.6zM607.3 532.9h2.6v2.6h-2.6zM535.2 492.1h2.6v2.6h-2.6zM555.6 514.3h2.6v2.6h-2.6zM563.2 475h2.6v2.6h-2.6zM522.5 518h2.6v2.6h-2.6zM580.5 435.8h2.6v2.6h-2.6zM549.1 524.3h2.6v2.6h-2.6zM630.2 466.4h2.6v2.6h-2.6zM624.1 601.7h2.6v2.6h-2.6zM584 488.5h2.6v2.6h-2.6zM586.6 401h2.6v2.6h-2.6zM575.4 404.3h2.6v2.6h-2.6zM516.9 420h2.6v2.6h-2.6zM516 614.5h2.6v2.6h-2.6zM595.7 584.9h2.6v2.6h-2.6zM610 433.6h2.6v2.6h-2.6zM608.4 369h2.6v2.6h-2.6zM554.7 498.9h2.6v2.6h-2.6zM583.4 625h2.6v2.6h-2.6zM553.3 527.8h2.6v2.6h-2.6zM618.9 485.5h2.6v2.6h-2.6zM531.1 454.6h2.6v2.6h-2.6zM553 516.1h2.6v2.6h-2.6zM591.6 589.5h2.6v2.6h-2.6zM618.3 512.7h2.6v2.6h-2.6zM541 594h2.6v2.6h-2.6zM594 499.4h2.6v2.6h-2.6zM577.9 571h2.6v2.6h-2.6zM539.2 611.7h2.6v2.6h-2.6zM631.9 568.3h2.6v2.6h-2.6zM632 476.1h2.6v2.6h-2.6zM529.4 560.5h2.6v2.6h-2.6zM608 544.7h2.6v2.6h-2.6zM547.5 408.8h2.6v2.6h-2.6zM611.3 429.5h2.6v2.6h-2.6zM558.7 491.2h2.6v2.6h-2.6zM618.5 573.2h2.6v2.6h-2.6zM530.1 481.1h2.6v2.6h-2.6zM529.4 483.4h2.6v2.6h-2.6zM619 366.3h2.6v2.6h-2.6zM557.8 494.6h2.6v2.6h-2.6zM545.9 362.3h2.6v2.6h-2.6zM554.8 540.2h2.6v2.6h-2.6zM535 436.7h2.6v2.6h-2.6zM581.2 572.8h2.6v2.6h-2.6zM576.3 571.3h2.6v2.6h-2.6zM522.3 542.2h2.6v2.6h-2.6zM604.4 509h2.6v2.6h-2.6zM552.8 583.8h2.6v2.6h-2.6zM548.4 482.8h2.6v2.6h-2.6zM585.5 562.5h2.6v2.6h-2.6zM568.9 351.3h2.6v2.6h-2.6zM516 572.6h2.6v2.6h-2.6zM533.9 500.7h2.6v2.6h-2.6zM538.5 529.7h2.6v2.6h-2.6zM573 561.6h2.6v2.6h-2.6zM568.9 523.1h2.6v2.6h-2.6zM518.1 522.2h2.6v2.6h-2.6zM587.4 527.7h2.6v2.6h-2.6zM551.2 468.1h2.6v2.6h-2.6zM619.2 569.8h2.6v2.6h-2.6zM568.3 459.3h2.6v2.6h-2.6zM622.7 485.1h2.6v2.6h-2.6zM618.9 533.1h2.6v2.6h-2.6zM533.6 332.2h2.6v2.6h-2.6zM541.3 507.4h2.6v2.6h-2.6zM547.2 485.1h2.6v2.6h-2.6zM595.6 498.8h2.6v2.6h-2.6zM623.8 470.5h2.6v2.6h-2.6zM558.6 583.7h2.6v2.6h-2.6zM582 591.3h2.6v2.6h-2.6zM568.6 518.5h2.6v2.6h-2.6zM590.1 580h2.6v2.6h-2.6zM546.7 557.2h2.6v2.6h-2.6zM541.2 492.4h2.6v2.6h-2.6zM608.9 527h2.6v2.6h-2.6zM564.2 513.6h2.6v2.6h-2.6zM548 586.5h2.6v2.6h-2.6zM573.5 492.8h2.6v2.6h-2.6zM613.2 494.3h2.6v2.6h-2.6zM630.5 552.5h2.6v2.6h-2.6zM598.5 600.6h2.6v2.6h-2.6zM609.3 469h2.6v2.6h-2.6zM542.4 569.3h2.6v2.6h-2.6zM515.8 620.9h2.6v2.6h-2.6zM586.4 458.9h2.6v2.6h-2.6zM625 513.3h2.6v2.6h-2.6zM526.2 503.2h2.6v2.6h-2.6zM617.7 499.2h2.6v2.6h-2.6zM604.1 502.4h2.6v2.6h-2.6zM587.8 555.1h2.6v2.6h-2.6zM617.2 589.2h2.6v2.6h-2.6zM607.3 589.4h2.6v2.6h-2.6zM589.8 574.9h2.6v2.6h-2.6zM559.2 458.1h2.6v2.6h-2.6zM608.6 509.3h2.6v2.6h-2.6zM591.5 528.5h2.6v2.6h-2.6zM551 533h2.6v2.6h-2.6zM535.6 419.9h2.6v2.6h-2.6zM552.8 459h2.6v2.6h-2.6zM622.5 439.2h2.6v2.6h-2.6zM628.6 477.7h2.6v2.6h-2.6zM571.6 491.7h2.6v2.6h-2.6zM577.4 594.2h2.6v2.6h-2.6zM537 412.9h2.6v2.6h-2.6zM542.1 535.2h2.6v2.6h-2.6zM555.7 506.2h2.6v2.6h-2.6zM627 538.9h2.6v2.6h-2.6zM541.3 475.1h2.6v2.6h-2.6zM628.2 466.5h2.6v2.6h-2.6zM604.6 565.9h2.6v2.6h-2.6zM590 564.1h2.6v2.6h-2.6zM632.8 465.3h2.6v2.6h-2.6zM519.9 476.6h2.6v2.6h-2.6zM579.3 510.5h2.6v2.6h-2.6zM551.4 503.2h2.6v2.6h-2.6zM590.8 616.9h2.6v2.6h-2.6zM525.9 498.3h2.6v2.6h-2.6zM627.7 449.3h2.6v2.6h-2.6zM545.4 534h2.6v2.6h-2.6zM565.6 503.6h2.6v2.6h-2.6zM602.4 563.7h2.6v2.6h-2.6zM591.1 565.3h2.6v2.6h-2.6zM528.5 551.1h2.6v2.6h-2.6zM569.9 436.9h2.6v2.6h-2.6zM569.3 542h2.6v2.6h-2.6zM627.5 520.3h2.6v2.6h-2.6zM551 561.1h2.6v2.6h-2.6zM527.5 458.2h2.6v2.6h-2.6zM574.2 502.5h2.6v2.6h-2.6zM561 559.6h2.6v2.6h-2.6zM598.1 554.5h2.6v2.6h-2.6zM566.9 259.7h2.6v2.6h-2.6zM557 264.2h2.6v2.6h-2.6zM565.5 269.7h2.6v2.6h-2.6zM567.5 281.2h2.6v2.6h-2.6zM551 290.7h2.6v2.6h-2.6zM588 309.7h2.6v2.6h-2.6zM562.4 312.7h2.6v2.6h-2.6zM549.5 314.7h2.6v2.6h-2.6zM605.8 317.7h2.6v2.6h-2.6zM567.7 323.7h2.6v2.6h-2.6zM569.9 326.7h2.6v2.6h-2.6zM618.6 331.7h2.6v2.6h-2.6zM567.7 337.7h2.6v2.6h-2.6zM558.2 340.7h2.6v2.6h-2.6zM780.7 526.7h2.6v2.6h-2.6zM752.4 568.1h2.6v2.6h-2.6zM750.4 496.4h2.6v2.6h-2.6zM715.7 619.8h2.6v2.6h-2.6zM690.6 529.8h2.6v2.6h-2.6zM704.5 565.2h2.6v2.6h-2.6zM665.5 481h2.6v2.6h-2.6zM737.1 466.1h2.6v2.6h-2.6zM711.3 596.2h2.6v2.6h-2.6zM670.7 587.5h2.6v2.6h-2.6zM762.1 556.5h2.6v2.6h-2.6zM749 581.2h2.6v2.6h-2.6zM753.1 505h2.6v2.6h-2.6zM730.9 516.3h2.6v2.6h-2.6zM781.9 535.5h2.6v2.6h-2.6zM750.7 608.8h2.6v2.6h-2.6zM696.4 616.7h2.6v2.6h-2.6zM683.5 488.3h2.6v2.6h-2.6zM770.7 526.8h2.6v2.6h-2.6zM713.9 531.4h2.6v2.6h-2.6zM736.2 514h2.6v2.6h-2.6zM731.8 483.8h2.6v2.6h-2.6zM705.8 571.6h2.6v2.6h-2.6zM746.5 559.1h2.6v2.6h-2.6zM762.9 533.4h2.6v2.6h-2.6zM728 521.7h2.6v2.6h-2.6zM742.4 495.1h2.6v2.6h-2.6zM775.5 580.9h2.6v2.6h-2.6zM684.9 589h2.6v2.6h-2.6zM752.2 572h2.6v2.6h-2.6zM722.2 570.8h2.6v2.6h-2.6zM766.6 553.1h2.6v2.6h-2.6zM747.9 544.1h2.6v2.6h-2.6zM689.7 540.4h2.6v2.6h-2.6zM701.1 504.4h2.6v2.6h-2.6zM736.6 451.5h2.6v2.6h-2.6zM690.3 587.2h2.6v2.6h-2.6zM779.2 568.6h2.6v2.6h-2.6zM716.3 619h2.6v2.6h-2.6zM744.7 451.8h2.6v2.6h-2.6zM706.1 593.1h2.6v2.6h-2.6zM768.2 546.3h2.6v2.6h-2.6zM707.2 516.2h2.6v2.6h-2.6zM671 566h2.6v2.6h-2.6zM728.7 628.3h2.6v2.6h-2.6zM781.7 490.4h2.6v2.6h-2.6zM767 544.2h2.6v2.6h-2.6zM684.7 566.3h2.6v2.6h-2.6zM743.5 566h2.6v2.6h-2.6zM698.2 539.6h2.6v2.6h-2.6zM706.2 506.2h2.6v2.6h-2.6zM694.8 528h2.6v2.6h-2.6zM734.5 480.9h2.6v2.6h-2.6zM719.8 554.5h2.6v2.6h-2.6zM700.9 579.7h2.6v2.6h-2.6zM742.6 614.6h2.6v2.6h-2.6zM723.6 490h2.6v2.6h-2.6zM719.7 505.1h2.6v2.6h-2.6zM727.5 581h2.6v2.6h-2.6zM666.2 580.7h2.6v2.6h-2.6zM667.3 430.1h2.6v2.6h-2.6zM686.5 575.9h2.6v2.6h-2.6zM763.8 474.9h2.6v2.6h-2.6zM718.1 519.3h2.6v2.6h-2.6zM729.8 470.5h2.6v2.6h-2.6zM672.4 426.8h2.6v2.6h-2.6zM725.3 560.4h2.6v2.6h-2.6zM672.6 592.8h2.6v2.6h-2.6zM665.1 500.7h2.6v2.6h-2.6zM676.8 584.5h2.6v2.6h-2.6zM776.2 593.6h2.6v2.6h-2.6zM733.4 460.9h2.6v2.6h-2.6zM719.2 587.8h2.6v2.6h-2.6zM717.1 612.1h2.6v2.6h-2.6zM703.9 503.3h2.6v2.6h-2.6zM742.3 461h2.6v2.6h-2.6zM672.2 516.7h2.6v2.6h-2.6zM730.6 561.1h2.6v2.6h-2.6zM739.9 502h2.6v2.6h-2.6zM754.5 549.3h2.6v2.6h-2.6zM667.1 575.1h2.6v2.6h-2.6zM702.1 584.2h2.6v2.6h-2.6zM762.9 601.2h2.6v2.6h-2.6zM775.7 583.4h2.6v2.6h-2.6zM709.4 536.7h2.6v2.6h-2.6zM685.7 573.2h2.6v2.6h-2.6zM779.7 515.5h2.6v2.6h-2.6zM744.4 560.4h2.6v2.6h-2.6zM685.9 594h2.6v2.6h-2.6zM747.6 561.1h2.6v2.6h-2.6zM743.9 594.8h2.6v2.6h-2.6zM722.7 515.5h2.6v2.6h-2.6zM722.5 513.9h2.6v2.6h-2.6zM781.4 418.6h2.6v2.6h-2.6zM703.1 594.5h2.6v2.6h-2.6zM685.1 593.6h2.6v2.6h-2.6zM723.5 605.9h2.6v2.6h-2.6zM686.3 563.8h2.6v2.6h-2.6zM672.9 478h2.6v2.6h-2.6zM719.6 565.8h2.6v2.6h-2.6zM737.9 545.9h2.6v2.6h-2.6zM669.7 555.3h2.6v2.6h-2.6zM681.2 452.5h2.6v2.6h-2.6zM709.2 606h2.6v2.6h-2.6zM669.1 568.6h2.6v2.6h-2.6zM668 592.4h2.6v2.6h-2.6zM697.9 488.5h2.6v2.6h-2.6zM740.3 566h2.6v2.6h-2.6zM683.7 578.3h2.6v2.6h-2.6zM731.7 499h2.6v2.6h-2.6zM710.1 544.7h2.6v2.6h-2.6zM686.7 540.6h2.6v2.6h-2.6zM664.6 560.1h2.6v2.6h-2.6zM728.5 603.2h2.6v2.6h-2.6zM679.3 504.2h2.6v2.6h-2.6zM748.3 485.3h2.6v2.6h-2.6zM668.4 604.8h2.6v2.6h-2.6zM757.6 546.9h2.6v2.6h-2.6zM774.5 594.3h2.6v2.6h-2.6zM755.4 575.6h2.6v2.6h-2.6zM781.1 599h2.6v2.6h-2.6zM736.2 550.6h2.6v2.6h-2.6zM771.3 433.2h2.6v2.6h-2.6zM764.2 442.1h2.6v2.6h-2.6zM778.7 497h2.6v2.6h-2.6zM679.3 586.1h2.6v2.6h-2.6zM671 593.6h2.6v2.6h-2.6zM736.3 523.2h2.6v2.6h-2.6zM717.2 521.5h2.6v2.6h-2.6zM746.8 414.5h2.6v2.6h-2.6zM730.3 590.1h2.6v2.6h-2.6zM696.5 484.9h2.6v2.6h-2.6zM740 558.1h2.6v2.6h-2.6zM721.3 622.8h2.6v2.6h-2.6zM766.3 586.2h2.6v2.6h-2.6zM711.2 600.8h2.6v2.6h-2.6zM752.5 532.3h2.6v2.6h-2.6zM757.4 465.7h2.6v2.6h-2.6zM687.9 573.7h2.6v2.6h-2.6zM685.5 503.8h2.6v2.6h-2.6zM732.2 533.3h2.6v2.6h-2.6zM675.3 483.3h2.6v2.6h-2.6zM762.4 513.8h2.6v2.6h-2.6zM708.2 526.3h2.6v2.6h-2.6zM740.5 486.2h2.6v2.6h-2.6zM671.2 448.1h2.6v2.6h-2.6zM678.9 563.2h2.6v2.6h-2.6zM677.9 465.4h2.6v2.6h-2.6zM750.9 487.7h2.6v2.6h-2.6zM767.1 600.3h2.6v2.6h-2.6zM780.5 505.3h2.6v2.6h-2.6zM719.7 533.3h2.6v2.6h-2.6zM695.1 517.6h2.6v2.6h-2.6zM670.6 498.3h2.6v2.6h-2.6zM736.3 513.7h2.6v2.6h-2.6zM698.3 479.2h2.6v2.6h-2.6zM724.2 384.7h2.6v2.6h-2.6zM721.6 572.9h2.6v2.6h-2.6zM721.1 499.1h2.6v2.6h-2.6zM673 500.6h2.6v2.6h-2.6zM735.7 572.9h2.6v2.6h-2.6zM716.8 578.6h2.6v2.6h-2.6zM689.1 541.4h2.6v2.6h-2.6zM721.5 608h2.6v2.6h-2.6zM753.4 574.3h2.6v2.6h-2.6zM744.5 575.9h2.6v2.6h-2.6zM669.6 569h2.6v2.6h-2.6zM703.7 605.2h2.6v2.6h-2.6zM668 606h2.6v2.6h-2.6zM719.9 619h2.6v2.6h-2.6zM668.9 621.9h2.6v2.6h-2.6zM719.9 493.5h2.6v2.6h-2.6zM740.7 514.1h2.6v2.6h-2.6zM750.4 487.8h2.6v2.6h-2.6zM680.3 523.7h2.6v2.6h-2.6zM777.5 494.8h2.6v2.6h-2.6zM701.6 580.3h2.6v2.6h-2.6zM752.7 522.7h2.6v2.6h-2.6zM747.1 560.5h2.6v2.6h-2.6zM719.1 501.6h2.6v2.6h-2.6zM762.7 572.8h2.6v2.6h-2.6zM740.8 571.6h2.6v2.6h-2.6zM780.5 518.6h2.6v2.6h-2.6zM678.9 590.2h2.6v2.6h-2.6zM755.9 533.4h2.6v2.6h-2.6zM768.7 477.5h2.6v2.6h-2.6zM708.4 602.7h2.6v2.6h-2.6zM707.4 546h2.6v2.6h-2.6zM765.1 523.1h2.6v2.6h-2.6zM744.6 511.6h2.6v2.6h-2.6zM693.6 582.5h2.6v2.6h-2.6zM675.6 506.8h2.6v2.6h-2.6zM708.9 588.2h2.6v2.6h-2.6zM680.6 423.8h2.6v2.6h-2.6zM694.1 473h2.6v2.6h-2.6zM690.6 457.6h2.6v2.6h-2.6zM687.7 587.9h2.6v2.6h-2.6zM714.4 517.6h2.6v2.6h-2.6zM759.8 553.4h2.6v2.6h-2.6zM686.5 628.9h2.6v2.6h-2.6zM735.9 571.1h2.6v2.6h-2.6zM735.3 512.5h2.6v2.6h-2.6zM705.9 551.1h2.6v2.6h-2.6zM706.7 568.8h2.6v2.6h-2.6zM760.4 499.3h2.6v2.6h-2.6zM674.6 606h2.6v2.6h-2.6zM682.3 588.6h2.6v2.6h-2.6zM778.3 616.4h2.6v2.6h-2.6zM741 554h2.6v2.6h-2.6zM682.5 451.4h2.6v2.6h-2.6zM727.1 230.3h2.6v2.6h-2.6zM713.1 289.7h2.6v2.6h-2.6zM725.4 303.7h2.6v2.6h-2.6zM749.1 319.7h2.6v2.6h-2.6zM746.2 334.7h2.6v2.6h-2.6zM731.9 360.3h2.6v2.6h-2.6zM758.2 365.7h2.6v2.6h-2.6zM762.5 374.4h2.6v2.6h-2.6zM674.6 379.7h2.6v2.6h-2.6zM680.9 385.7h2.6v2.6h-2.6zM669.2 391.3h2.6v2.6h-2.6zM682.8 397h2.6v2.6h-2.6z" fill="#404040" fill-opacity="0.5"/>
<line x1="272.6" y1="105.6" x2="574.4" y2="105.6" stroke="#111" stroke-width="2.4" />
<text x="423.7" y="98.2" font-size="14" fill="#333" text-anchor="middle" >***</text>
<line x1="272.6" y1="129.6" x2="724.8" y2="129.6" stroke="#111" stroke-width="2.4" />
<text x="498.8" y="122.6" font-size="14" fill="#333" text-anchor="middle" >***</text>
<line x1="272.6" y1="153.6" x2="423.8" y2="153.6" stroke="#111" stroke-width="2.4" />
<text x="347.9" y="147.2" font-size="14" fill="#333" text-anchor="middle" >***</text>
<line x1="1107" y1="163.3" x2="1729" y2="163.3" stroke="#f1f1f1" stroke-width="1.2" />
<line x1="1107" y1="313.6" x2="1729" y2="313.6" stroke="#f1f1f1" stroke-width="1.2" />
<line x1="1107" y1="463.9" x2="1729" y2="463.9" stroke="#f1f1f1" stroke-width="1.2" />
<line x1="1107" y1="614.2" x2="1729" y2="614.2" stroke="#f1f1f1" stroke-width="1.2" />
<line x1="1107" y1="88.2" x2="1729" y2="88.2" stroke="#e6e6e6" stroke-width="1.8" />
<line x1="1107" y1="238.5" x2="1729" y2="238.5" stroke="#e6e6e6" stroke-width="1.8" />
<line x1="1107" y1="388.8" x2="1729" y2="388.8" stroke="#e6e6e6" stroke-width="1.8" />
<line x1="1107" y1="539" x2="1729" y2="539" stroke="#e6e6e6" stroke-width="1.8" />
<line x1="1196.2" y1="80" x2="1196.2" y2="634" stroke="#e9e9ee" stroke-width="1.3" />
<line x1="1344.5" y1="80" x2="1344.5" y2="634" stroke="#e9e9ee" stroke-width="1.3" />
<line x1="1493" y1="80" x2="1493" y2="634" stroke="#e9e9ee" stroke-width="1.3" />
<line x1="1641.6" y1="80" x2="1641.6" y2="634" stroke="#e9e9ee" stroke-width="1.3" />
<text x="1102" y="92.2" font-size="11" fill="#6d6d6d" text-anchor="end" >0</text>
<text x="1102" y="242.5" font-size="11" fill="#6d6d6d" text-anchor="end" >5</text>
<text x="1102" y="392.8" font-size="11" fill="#6d6d6d" text-anchor="end" >0</text>
<text x="1102" y="543" font-size="11" fill="#6d6d6d" text-anchor="end" >5</text>
<rect x="1140" y="466.2" width="111.4" height="66.1" fill="#f8bfc6" fill-opacity="1"/>
<rect x="1288.2" y="508.3" width="112.3" height="50.5" fill="#fde7b8" fill-opacity="1"/>
<rect x="1437.3" y="502.7" width="110.5" height="55.3" fill="#bfdff6" fill-opacity="1"/>
<rect x="1585.6" y="511.4" width="112" height="51" fill="#dcc3e2" fill-opacity="1"/>
<line x1="1107" y1="480.6" x2="1729" y2="480.6" stroke="#2e3192" stroke-width="2" stroke-dasharray="6.6 4.8"/>
<line x1="1107" y1="573.2" x2="1729" y2="573.2" stroke="#2e3192" stroke-width="2" stroke-dasharray="6.6 4.8"/>
<line x1="1107" y1="527" x2="1729" y2="527" stroke="#e0203a" stroke-width="2" stroke-dasharray="6.6 4.8"/>
<line x1="1196.2" y1="380.9" x2="1196.2" y2="466.2" stroke="#e52431" stroke-width="2.2" />
<line x1="1196.2" y1="532.3" x2="1196.2" y2="612.8" stroke="#e52431" stroke-width="2.2" />
<line x1="1344.5" y1="433.8" x2="1344.5" y2="508.3" stroke="#e9ab2a" stroke-width="2.8" />
<line x1="1344.5" y1="558.8" x2="1344.5" y2="631" stroke="#e9ab2a" stroke-width="2.8" />
<line x1="1493" y1="426.5" x2="1493" y2="502.7" stroke="#1c7cc9" stroke-width="2.4" />
<line x1="1493" y1="558" x2="1493" y2="634" stroke="#1c7cc9" stroke-width="2.4" />
<line x1="1641.6" y1="438.6" x2="1641.6" y2="511.4" stroke="#62297f" stroke-width="2.4" />
<line x1="1641.6" y1="562.4" x2="1641.6" y2="634" stroke="#62297f" stroke-width="2.4" />
<rect x="1140" y="466.2" width="111.4" height="66.1" fill="none" stroke="#e52431" stroke-width="2.2"/>
<line x1="1140" y1="505.4" x2="1251.4" y2="505.4" stroke="#e52431" stroke-width="3" />
<rect x="1288.2" y="508.3" width="112.3" height="50.5" fill="none" stroke="#e9ab2a" stroke-width="2.2"/>
<line x1="1288.2" y1="530" x2="1400.5" y2="530" stroke="#e9ab2a" stroke-width="3" />
<rect x="1437.3" y="502.7" width="110.5" height="55.3" fill="none" stroke="#1c7cc9" stroke-width="2.2"/>
<line x1="1437.3" y1="531" x2="1547.8" y2="531" stroke="#1c7cc9" stroke-width="3" />
<rect x="1585.6" y="511.4" width="112" height="51" fill="none" stroke="#62297f" stroke-width="2.2"/>
<line x1="1585.6" y1="538.8" x2="1697.6" y2="538.8" stroke="#62297f" stroke-width="3" />
<circle cx="1196.2" cy="108.4" r="3.6" fill="#f0607a" fill-opacity="0.45"/>
<circle cx="1196.2" cy="222" r="3.6" fill="#f0607a" fill-opacity="0.45"/>
<circle cx="1196.2" cy="276.4" r="3.6" fill="#f0607a" fill-opacity="0.45"/>
<circle cx="1196.2" cy="286.5" r="3.6" fill="#f0607a" fill-opacity="0.45"/>
<circle cx="1196.2" cy="293.3" r="3.6" fill="#f0607a" fill-opacity="0.45"/>
<circle cx="1196.2" cy="303.4" r="3.6" fill="#f0607a" fill-opacity="0.45"/>
<circle cx="1196.2" cy="357.3" r="3.6" fill="#f0607a" fill-opacity="0.45"/>
<circle cx="1196.2" cy="360.7" r="3.6" fill="#f0607a" fill-opacity="0.45"/>
<circle cx="1196.2" cy="364" r="3.6" fill="#f0607a" fill-opacity="0.45"/>
<circle cx="1344.5" cy="370.8" r="3.6" fill="#f4b11d" fill-opacity="0.45"/>
<circle cx="1344.5" cy="420.2" r="3.6" fill="#f4b11d" fill-opacity="0.45"/>
<circle cx="1493" cy="370.8" r="3.6" fill="#5aaee8" fill-opacity="0.45"/>
<circle cx="1493" cy="384.8" r="3.6" fill="#5aaee8" fill-opacity="0.45"/>
<circle cx="1493" cy="387.6" r="3.6" fill="#5aaee8" fill-opacity="0.45"/>
<circle cx="1493" cy="401.7" r="3.6" fill="#5aaee8" fill-opacity="0.45"/>
<circle cx="1493" cy="404.5" r="3.6" fill="#5aaee8" fill-opacity="0.45"/>
<circle cx="1493" cy="415.7" r="3.6" fill="#5aaee8" fill-opacity="0.45"/>
<circle cx="1493" cy="418.5" r="3.6" fill="#5aaee8" fill-opacity="0.45"/>
<circle cx="1641.6" cy="400" r="3.6" fill="#a070b8" fill-opacity="0.45"/>
<circle cx="1641.6" cy="404.5" r="3.6" fill="#a070b8" fill-opacity="0.45"/>
<circle cx="1641.6" cy="413" r="3.6" fill="#a070b8" fill-opacity="0.45"/>
<circle cx="1641.6" cy="420.2" r="3.6" fill="#a070b8" fill-opacity="0.45"/>
<path d="M1157 611.2h2.6v2.6h-2.6zM1213.1 495.8h2.6v2.6h-2.6zM1250 435.1h2.6v2.6h-2.6zM1207 573.1h2.6v2.6h-2.6zM1219.9 559.3h2.6v2.6h-2.6zM1240.7 467.5h2.6v2.6h-2.6zM1236.9 461.7h2.6v2.6h-2.6zM1247.5 477.4h2.6v2.6h-2.6zM1218.7 519.3h2.6v2.6h-2.6zM1165.9 357.6h2.6v2.6h-2.6zM1249.5 537.4h2.6v2.6h-2.6zM1152 490.6h2.6v2.6h-2.6zM1140.8 531h2.6v2.6h-2.6zM1138.8 427.3h2.6v2.6h-2.6zM1184 546.3h2.6v2.6h-2.6zM1244.9 472.8h2.6v2.6h-2.6zM1170.6 484.3h2.6v2.6h-2.6zM1200.1 540.2h2.6v2.6h-2.6zM1145.5 424.7h2.6v2.6h-2.6zM1177.6 528.3h2.6v2.6h-2.6zM1249.2 450.4h2.6v2.6h-2.6zM1183 520.9h2.6v2.6h-2.6zM1200.5 573.7h2.6v2.6h-2.6zM1174.3 552.4h2.6v2.6h-2.6zM1199.2 480.5h2.6v2.6h-2.6zM1212.5 524.4h2.6v2.6h-2.6zM1184.2 522.5h2.6v2.6h-2.6zM1245.4 562.6h2.6v2.6h-2.6zM1197.8 395h2.6v2.6h-2.6zM1253.9 523h2.6v2.6h-2.6zM1212.1 501.5h2.6v2.6h-2.6zM1229 438.4h2.6v2.6h-2.6zM1137.1 527.3h2.6v2.6h-2.6zM1211 432h2.6v2.6h-2.6zM1187 484.9h2.6v2.6h-2.6zM1139.9 524.7h2.6v2.6h-2.6zM1160.9 540.5h2.6v2.6h-2.6zM1238.8 493h2.6v2.6h-2.6zM1191.3 517.6h2.6v2.6h-2.6zM1176.2 533.2h2.6v2.6h-2.6zM1139.5 491.6h2.6v2.6h-2.6zM1236.8 372.4h2.6v2.6h-2.6zM1180.8 530.4h2.6v2.6h-2.6zM1221.1 509.6h2.6v2.6h-2.6zM1166.9 461.2h2.6v2.6h-2.6zM1214.8 510.8h2.6v2.6h-2.6zM1141.7 549.9h2.6v2.6h-2.6zM1207.3 574.1h2.6v2.6h-2.6zM1226.9 548.5h2.6v2.6h-2.6zM1253.2 526.2h2.6v2.6h-2.6zM1151.7 520.6h2.6v2.6h-2.6zM1238.6 469.3h2.6v2.6h-2.6zM1211.7 506.3h2.6v2.6h-2.6zM1231.2 496.9h2.6v2.6h-2.6zM1236.7 543.6h2.6v2.6h-2.6zM1157.5 458.3h2.6v2.6h-2.6zM1196.1 498.2h2.6v2.6h-2.6zM1233 527.2h2.6v2.6h-2.6zM1239.8 529.7h2.6v2.6h-2.6zM1181.3 497.9h2.6v2.6h-2.6zM1141 482.7h2.6v2.6h-2.6zM1163.2 472.3h2.6v2.6h-2.6zM1201.8 351.5h2.6v2.6h-2.6zM1206.7 487.1h2.6v2.6h-2.6zM1217.3 599.6h2.6v2.6h-2.6zM1233.9 487.2h2.6v2.6h-2.6zM1195.5 516.2h2.6v2.6h-2.6zM1244 512.7h2.6v2.6h-2.6zM1174.8 435.1h2.6v2.6h-2.6zM1247.9 533.3h2.6v2.6h-2.6zM1213.2 486h2.6v2.6h-2.6zM1168.7 380.3h2.6v2.6h-2.6zM1170.7 505.1h2.6v2.6h-2.6zM1147.3 452.9h2.6v2.6h-2.6zM1192.1 454.9h2.6v2.6h-2.6zM1177.4 516.2h2.6v2.6h-2.6zM1240.3 517.3h2.6v2.6h-2.6zM1179.9 458.2h2.6v2.6h-2.6zM1161 598.7h2.6v2.6h-2.6zM1163.6 528.7h2.6v2.6h-2.6zM1254.2 492.3h2.6v2.6h-2.6zM1148.5 524.3h2.6v2.6h-2.6zM1143.2 400.4h2.6v2.6h-2.6zM1180.6 512.8h2.6v2.6h-2.6zM1210.6 549.4h2.6v2.6h-2.6zM1217.2 464.8h2.6v2.6h-2.6zM1169.2 525.3h2.6v2.6h-2.6zM1153.4 398.6h2.6v2.6h-2.6zM1191.6 407.5h2.6v2.6h-2.6zM1210.4 524.1h2.6v2.6h-2.6zM1171.3 593.1h2.6v2.6h-2.6zM1217.6 515.6h2.6v2.6h-2.6zM1201.8 537.1h2.6v2.6h-2.6zM1183.6 482.5h2.6v2.6h-2.6zM1166.3 548.3h2.6v2.6h-2.6zM1228.8 467.4h2.6v2.6h-2.6zM1203.6 511.6h2.6v2.6h-2.6zM1163.7 552.5h2.6v2.6h-2.6zM1179.6 452.8h2.6v2.6h-2.6zM1204.6 486h2.6v2.6h-2.6zM1223.3 509.9h2.6v2.6h-2.6zM1207.5 545h2.6v2.6h-2.6zM1216.6 468.2h2.6v2.6h-2.6zM1162.9 568.7h2.6v2.6h-2.6zM1166.2 530.4h2.6v2.6h-2.6zM1231.9 482h2.6v2.6h-2.6zM1154.2 556h2.6v2.6h-2.6zM1179.4 583.4h2.6v2.6h-2.6zM1195.1 468.4h2.6v2.6h-2.6zM1188.2 507.8h2.6v2.6h-2.6zM1162.3 418.5h2.6v2.6h-2.6zM1237.9 522.9h2.6v2.6h-2.6zM1234.1 523.5h2.6v2.6h-2.6zM1245.8 510.5h2.6v2.6h-2.6zM1222.8 467.2h2.6v2.6h-2.6zM1231.3 466.7h2.6v2.6h-2.6zM1202.1 489.8h2.6v2.6h-2.6zM1243.6 510.5h2.6v2.6h-2.6zM1217.7 546.8h2.6v2.6h-2.6zM1153.9 473h2.6v2.6h-2.6zM1181.1 589.7h2.6v2.6h-2.6zM1209.2 466h2.6v2.6h-2.6zM1208.5 528.3h2.6v2.6h-2.6zM1155.3 458.5h2.6v2.6h-2.6zM1232.9 487.3h2.6v2.6h-2.6zM1234.8 560.1h2.6v2.6h-2.6zM1166.1 405.9h2.6v2.6h-2.6zM1230.2 510.8h2.6v2.6h-2.6zM1222.8 470.3h2.6v2.6h-2.6zM1144.7 467.5h2.6v2.6h-2.6zM1181.8 463.7h2.6v2.6h-2.6zM1242.7 509.6h2.6v2.6h-2.6zM1136.2 480.2h2.6v2.6h-2.6zM1232 587.8h2.6v2.6h-2.6zM1137.9 384.9h2.6v2.6h-2.6zM1172.2 484.9h2.6v2.6h-2.6zM1176.9 551.2h2.6v2.6h-2.6zM1162.3 419h2.6v2.6h-2.6zM1213.8 468.1h2.6v2.6h-2.6zM1241.7 537.2h2.6v2.6h-2.6zM1176.3 442.9h2.6v2.6h-2.6zM1149.6 509h2.6v2.6h-2.6zM1177.5 492.3h2.6v2.6h-2.6zM1168 532.1h2.6v2.6h-2.6zM1244.1 534.9h2.6v2.6h-2.6zM1160.3 518.6h2.6v2.6h-2.6zM1246.7 521.1h2.6v2.6h-2.6zM1140.9 529.4h2.6v2.6h-2.6zM1185.1 427.3h2.6v2.6h-2.6zM1135.1 508.6h2.6v2.6h-2.6zM1193.3 486.8h2.6v2.6h-2.6zM1197.1 417.5h2.6v2.6h-2.6zM1173.4 535.5h2.6v2.6h-2.6zM1153.9 540.3h2.6v2.6h-2.6zM1201.6 550.9h2.6v2.6h-2.6zM1162.9 521h2.6v2.6h-2.6zM1217.7 541.6h2.6v2.6h-2.6zM1204.5 542.6h2.6v2.6h-2.6zM1180.2 537.8h2.6v2.6h-2.6zM1185.4 509.3h2.6v2.6h-2.6zM1194.7 513.2h2.6v2.6h-2.6zM1181.8 481.3h2.6v2.6h-2.6zM1170.3 504.9h2.6v2.6h-2.6zM1236.8 572.3h2.6v2.6h-2.6zM1178.5 526.9h2.6v2.6h-2.6zM1167.6 464.6h2.6v2.6h-2.6zM1143.6 515.6h2.6v2.6h-2.6zM1250.8 343.5h2.6v2.6h-2.6zM1226.2 515.4h2.6v2.6h-2.6zM1194 446.4h2.6v2.6h-2.6zM1186.6 573.6h2.6v2.6h-2.6zM1179.9 503.4h2.6v2.6h-2.6zM1228.4 523h2.6v2.6h-2.6zM1177.3 442.9h2.6v2.6h-2.6zM1247.3 436.6h2.6v2.6h-2.6zM1200.4 508.9h2.6v2.6h-2.6zM1206.5 475h2.6v2.6h-2.6zM1182.4 438h2.6v2.6h-2.6zM1243.4 417.8h2.6v2.6h-2.6zM1249.5 537h2.6v2.6h-2.6zM1137.1 483.8h2.6v2.6h-2.6zM1225.1 431.4h2.6v2.6h-2.6zM1217 487.6h2.6v2.6h-2.6zM1181.5 407.4h2.6v2.6h-2.6zM1141 531.6h2.6v2.6h-2.6zM1160.1 460.6h2.6v2.6h-2.6zM1145.6 514.6h2.6v2.6h-2.6zM1222.9 551.4h2.6v2.6h-2.6zM1150.6 569.4h2.6v2.6h-2.6zM1150.4 486.2h2.6v2.6h-2.6zM1172.2 546.4h2.6v2.6h-2.6zM1174.8 526.2h2.6v2.6h-2.6zM1253 568h2.6v2.6h-2.6zM1158.4 484.2h2.6v2.6h-2.6zM1162.5 431.6h2.6v2.6h-2.6zM1169 496.8h2.6v2.6h-2.6zM1201.4 521.6h2.6v2.6h-2.6zM1162 544h2.6v2.6h-2.6zM1172.2 467h2.6v2.6h-2.6zM1170.2 535.3h2.6v2.6h-2.6zM1245.8 466.4h2.6v2.6h-2.6zM1150.5 432h2.6v2.6h-2.6zM1198.5 445.8h2.6v2.6h-2.6zM1192 531.8h2.6v2.6h-2.6zM1160.6 446.9h2.6v2.6h-2.6zM1195.3 419.8h2.6v2.6h-2.6zM1206.5 504.1h2.6v2.6h-2.6zM1162.7 476h2.6v2.6h-2.6zM1242.5 511.1h2.6v2.6h-2.6zM1185.2 107.1h2.6v2.6h-2.6zM1253.3 220.7h2.6v2.6h-2.6zM1233.8 275.1h2.6v2.6h-2.6zM1205 285.2h2.6v2.6h-2.6zM1187.7 292h2.6v2.6h-2.6zM1202.4 302.1h2.6v2.6h-2.6zM1235.7 356h2.6v2.6h-2.6zM1175 359.4h2.6v2.6h-2.6zM1153.6 362.7h2.6v2.6h-2.6zM1358.9 533.6h2.6v2.6h-2.6zM1351.3 505.3h2.6v2.6h-2.6zM1343 558.7h2.6v2.6h-2.6zM1359.7 511.6h2.6v2.6h-2.6zM1369.1 478.9h2.6v2.6h-2.6zM1376.3 554.4h2.6v2.6h-2.6zM1392.7 586.1h2.6v2.6h-2.6zM1288.7 557.7h2.6v2.6h-2.6zM1296 525.4h2.6v2.6h-2.6zM1303.8 488.9h2.6v2.6h-2.6zM1310 555.1h2.6v2.6h-2.6zM1336.8 477.8h2.6v2.6h-2.6zM1347 533h2.6v2.6h-2.6zM1303 557h2.6v2.6h-2.6zM1297.4 464.3h2.6v2.6h-2.6zM1341.2 518.4h2.6v2.6h-2.6zM1286.9 498.1h2.6v2.6h-2.6zM1295.6 503.5h2.6v2.6h-2.6zM1365.7 507h2.6v2.6h-2.6zM1401.5 512.9h2.6v2.6h-2.6zM1383.1 569.2h2.6v2.6h-2.6zM1318 573.5h2.6v2.6h-2.6zM1390.5 474.9h2.6v2.6h-2.6zM1374.7 564.9h2.6v2.6h-2.6zM1359.2 504.1h2.6v2.6h-2.6zM1360.6 532.2h2.6v2.6h-2.6zM1346.8 519.5h2.6v2.6h-2.6zM1325.1 556.8h2.6v2.6h-2.6zM1354 546.5h2.6v2.6h-2.6zM1387.5 521.9h2.6v2.6h-2.6zM1304.4 571.9h2.6v2.6h-2.6zM1346.9 475h2.6v2.6h-2.6zM1360.7 527.6h2.6v2.6h-2.6zM1402.2 495h2.6v2.6h-2.6zM1369.2 469.6h2.6v2.6h-2.6zM1392.5 508.8h2.6v2.6h-2.6zM1346.6 551.1h2.6v2.6h-2.6zM1374.1 506.9h2.6v2.6h-2.6zM1352.1 529.1h2.6v2.6h-2.6zM1326.8 562.1h2.6v2.6h-2.6zM1297.3 528h2.6v2.6h-2.6zM1339.4 512h2.6v2.6h-2.6zM1372.8 511.3h2.6v2.6h-2.6zM1376.1 544.3h2.6v2.6h-2.6zM1283.3 514.2h2.6v2.6h-2.6zM1291.3 588.3h2.6v2.6h-2.6zM1331.5 571.6h2.6v2.6h-2.6zM1384.3 584.3h2.6v2.6h-2.6zM1392.5 554.1h2.6v2.6h-2.6zM1394.9 534.2h2.6v2.6h-2.6zM1373.3 510.4h2.6v2.6h-2.6zM1343.1 566.3h2.6v2.6h-2.6zM1299.2 492.4h2.6v2.6h-2.6zM1285.4 598h2.6v2.6h-2.6zM1318.2 482.6h2.6v2.6h-2.6zM1288.8 561.2h2.6v2.6h-2.6zM1307.1 502.6h2.6v2.6h-2.6zM1312.4 495.2h2.6v2.6h-2.6zM1289.4 549.8h2.6v2.6h-2.6zM1320.6 541.1h2.6v2.6h-2.6zM1391.3 547.5h2.6v2.6h-2.6zM1336.3 571.4h2.6v2.6h-2.6zM1364.1 601.1h2.6v2.6h-2.6zM1309.6 503.6h2.6v2.6h-2.6zM1285.9 530.7h2.6v2.6h-2.6zM1306 502.7h2.6v2.6h-2.6zM1318.9 597.9h2.6v2.6h-2.6zM1378.3 543h2.6v2.6h-2.6zM1379.9 529.3h2.6v2.6h-2.6zM1368.1 490.2h2.6v2.6h-2.6zM1398.5 421.3h2.6v2.6h-2.6zM1398.9 480.4h2.6v2.6h-2.6zM1322.5 552.8h2.6v2.6h-2.6zM1312.8 494.7h2.6v2.6h-2.6zM1369.8 482.4h2.6v2.6h-2.6zM1355 540.4h2.6v2.6h-2.6zM1357.4 546.7h2.6v2.6h-2.6zM1383 562.1h2.6v2.6h-2.6zM1292.7 573.3h2.6v2.6h-2.6zM1364.6 513h2.6v2.6h-2.6zM1284.3 522.9h2.6v2.6h-2.6zM1342.4 509.2h2.6v2.6h-2.6zM1374.8 524.7h2.6v2.6h-2.6zM1306.9 517.9h2.6v2.6h-2.6zM1302.2 575.1h2.6v2.6h-2.6zM1377.6 541.4h2.6v2.6h-2.6zM1361.8 490.7h2.6v2.6h-2.6zM1400.3 594.7h2.6v2.6h-2.6zM1382.7 535.3h2.6v2.6h-2.6zM1324.2 578.5h2.6v2.6h-2.6zM1283.2 524.1h2.6v2.6h-2.6zM1327.6 502.6h2.6v2.6h-2.6zM1296.9 499.7h2.6v2.6h-2.6zM1309.3 504.9h2.6v2.6h-2.6zM1337.1 547h2.6v2.6h-2.6zM1300.9 537.7h2.6v2.6h-2.6zM1375.8 525.1h2.6v2.6h-2.6zM1338.8 603h2.6v2.6h-2.6zM1378.3 536.3h2.6v2.6h-2.6zM1292.7 556.1h2.6v2.6h-2.6zM1392.5 518.5h2.6v2.6h-2.6zM1338 501.1h2.6v2.6h-2.6zM1350.5 500.1h2.6v2.6h-2.6zM1358.2 548.7h2.6v2.6h-2.6zM1334.8 522.9h2.6v2.6h-2.6zM1311.1 581.8h2.6v2.6h-2.6zM1348.4 559.6h2.6v2.6h-2.6zM1362.7 535.8h2.6v2.6h-2.6zM1384.9 505.7h2.6v2.6h-2.6zM1363.1 524.3h2.6v2.6h-2.6zM1320.9 510.8h2.6v2.6h-2.6zM1345.2 581h2.6v2.6h-2.6zM1388.6 549.5h2.6v2.6h-2.6zM1360.3 582.3h2.6v2.6h-2.6zM1348.9 539h2.6v2.6h-2.6zM1381 556.4h2.6v2.6h-2.6zM1298 488.3h2.6v2.6h-2.6zM1336.6 515.4h2.6v2.6h-2.6zM1300.5 494.4h2.6v2.6h-2.6zM1376.2 531.9h2.6v2.6h-2.6zM1303.7 464.3h2.6v2.6h-2.6zM1353.4 516.2h2.6v2.6h-2.6zM1362.2 559.1h2.6v2.6h-2.6zM1352.7 552.7h2.6v2.6h-2.6zM1371.4 464.4h2.6v2.6h-2.6zM1302.2 552.1h2.6v2.6h-2.6zM1325.7 512.2h2.6v2.6h-2.6zM1345.9 568.6h2.6v2.6h-2.6zM1361.3 464.7h2.6v2.6h-2.6zM1398 511.9h2.6v2.6h-2.6zM1297 524.2h2.6v2.6h-2.6zM1328.9 518.1h2.6v2.6h-2.6zM1285.5 546.7h2.6v2.6h-2.6zM1331.2 454.8h2.6v2.6h-2.6zM1315.2 531.5h2.6v2.6h-2.6zM1393.1 518.9h2.6v2.6h-2.6zM1388.8 553.5h2.6v2.6h-2.6zM1330.2 482.9h2.6v2.6h-2.6zM1354.1 529h2.6v2.6h-2.6zM1351.1 542.1h2.6v2.6h-2.6zM1315.1 562.7h2.6v2.6h-2.6zM1386.9 494.7h2.6v2.6h-2.6zM1341.6 562h2.6v2.6h-2.6zM1359.1 569.8h2.6v2.6h-2.6zM1315.9 515.2h2.6v2.6h-2.6zM1320.3 513.9h2.6v2.6h-2.6zM1306.6 548.2h2.6v2.6h-2.6zM1333.5 533.6h2.6v2.6h-2.6zM1334.2 556.8h2.6v2.6h-2.6zM1394.6 493.5h2.6v2.6h-2.6zM1370.6 515.2h2.6v2.6h-2.6zM1286.5 497.5h2.6v2.6h-2.6zM1306.5 499.3h2.6v2.6h-2.6zM1341.4 518.9h2.6v2.6h-2.6zM1366.6 480.1h2.6v2.6h-2.6zM1334.9 527.6h2.6v2.6h-2.6zM1303.5 568.9h2.6v2.6h-2.6zM1329.6 582.6h2.6v2.6h-2.6zM1326.2 539.7h2.6v2.6h-2.6zM1372.4 527.8h2.6v2.6h-2.6zM1338.4 563h2.6v2.6h-2.6zM1362 554.4h2.6v2.6h-2.6zM1315 608.7h2.6v2.6h-2.6zM1366.8 499.7h2.6v2.6h-2.6zM1307 511h2.6v2.6h-2.6zM1327.9 562.8h2.6v2.6h-2.6zM1293.1 522.3h2.6v2.6h-2.6zM1353.7 508.6h2.6v2.6h-2.6zM1366.7 491.3h2.6v2.6h-2.6zM1384 501.2h2.6v2.6h-2.6zM1402.3 627.3h2.6v2.6h-2.6zM1338.6 529.1h2.6v2.6h-2.6zM1284 547.2h2.6v2.6h-2.6zM1367 534.1h2.6v2.6h-2.6zM1398.2 490.9h2.6v2.6h-2.6zM1284.6 498.6h2.6v2.6h-2.6zM1356.9 502.8h2.6v2.6h-2.6zM1287 516.5h2.6v2.6h-2.6zM1390.9 562.1h2.6v2.6h-2.6zM1286 496h2.6v2.6h-2.6zM1335.5 540.2h2.6v2.6h-2.6zM1373.8 552.3h2.6v2.6h-2.6zM1381 543.2h2.6v2.6h-2.6zM1383.8 536.1h2.6v2.6h-2.6zM1384.2 574.8h2.6v2.6h-2.6zM1381.3 489.8h2.6v2.6h-2.6zM1358.1 566.9h2.6v2.6h-2.6zM1397.1 501.5h2.6v2.6h-2.6zM1322.5 527.4h2.6v2.6h-2.6zM1351.5 460.3h2.6v2.6h-2.6zM1332.9 496.8h2.6v2.6h-2.6zM1314 547.5h2.6v2.6h-2.6zM1370.9 485.8h2.6v2.6h-2.6zM1328.2 552.9h2.6v2.6h-2.6zM1317.2 508.7h2.6v2.6h-2.6zM1363.2 466.9h2.6v2.6h-2.6zM1299.8 619.7h2.6v2.6h-2.6zM1291.8 530.3h2.6v2.6h-2.6zM1299.7 528.9h2.6v2.6h-2.6zM1362.1 546.4h2.6v2.6h-2.6zM1338.4 503.8h2.6v2.6h-2.6zM1354 541.4h2.6v2.6h-2.6zM1399.2 509.1h2.6v2.6h-2.6zM1318.5 587.7h2.6v2.6h-2.6zM1402 574h2.6v2.6h-2.6zM1306.4 528.9h2.6v2.6h-2.6zM1397.4 535.9h2.6v2.6h-2.6zM1381.2 552.4h2.6v2.6h-2.6zM1289.6 504.5h2.6v2.6h-2.6zM1391.7 521h2.6v2.6h-2.6zM1325.6 490.6h2.6v2.6h-2.6zM1308.9 629.6h2.6v2.6h-2.6zM1302.7 577.6h2.6v2.6h-2.6zM1296.8 540.3h2.6v2.6h-2.6zM1390.1 537.6h2.6v2.6h-2.6zM1310.6 551.4h2.6v2.6h-2.6zM1370.7 452.9h2.6v2.6h-2.6zM1386.3 583.5h2.6v2.6h-2.6zM1377.1 462.8h2.6v2.6h-2.6zM1329.1 510.3h2.6v2.6h-2.6zM1287.4 523.1h2.6v2.6h-2.6zM1287.2 583h2.6v2.6h-2.6zM1361.5 497.1h2.6v2.6h-2.6zM1361.4 369.5h2.6v2.6h-2.6zM1365.1 418.9h2.6v2.6h-2.6zM1515 477.5h2.6v2.6h-2.6zM1546 495.6h2.6v2.6h-2.6zM1437 455.9h2.6v2.6h-2.6zM1446.5 577.6h2.6v2.6h-2.6zM1491.6 545.7h2.6v2.6h-2.6zM1487.3 516.7h2.6v2.6h-2.6zM1506.4 508.1h2.6v2.6h-2.6zM1446.6 585.4h2.6v2.6h-2.6zM1464.6 546.1h2.6v2.6h-2.6zM1486.6 548.5h2.6v2.6h-2.6zM1540.6 582.1h2.6v2.6h-2.6zM1454.1 546h2.6v2.6h-2.6zM1441.9 492.4h2.6v2.6h-2.6zM1445.1 521.4h2.6v2.6h-2.6zM1451.7 546.6h2.6v2.6h-2.6zM1448.5 506.7h2.6v2.6h-2.6zM1454.9 486.3h2.6v2.6h-2.6zM1518.4 483.3h2.6v2.6h-2.6zM1532.8 607.7h2.6v2.6h-2.6zM1481.5 568.6h2.6v2.6h-2.6zM1479 461.8h2.6v2.6h-2.6zM1512.6 520.9h2.6v2.6h-2.6zM1443.6 526h2.6v2.6h-2.6zM1526.4 589.8h2.6v2.6h-2.6zM1504.4 466.3h2.6v2.6h-2.6zM1505.3 512.4h2.6v2.6h-2.6zM1500.7 527.9h2.6v2.6h-2.6zM1549 543.4h2.6v2.6h-2.6zM1475.9 522.1h2.6v2.6h-2.6zM1451.6 498.6h2.6v2.6h-2.6zM1458.8 518.8h2.6v2.6h-2.6zM1441.3 521.5h2.6v2.6h-2.6zM1433.5 483.9h2.6v2.6h-2.6zM1485.1 534.9h2.6v2.6h-2.6zM1463.6 523.7h2.6v2.6h-2.6zM1520 566.5h2.6v2.6h-2.6zM1504.6 529h2.6v2.6h-2.6zM1539.2 609.1h2.6v2.6h-2.6zM1438.4 504.8h2.6v2.6h-2.6zM1472 445.5h2.6v2.6h-2.6zM1533 523.3h2.6v2.6h-2.6zM1546.4 588.1h2.6v2.6h-2.6zM1463.7 534.1h2.6v2.6h-2.6zM1525.4 489.7h2.6v2.6h-2.6zM1502.6 474.8h2.6v2.6h-2.6zM1449.5 495.2h2.6v2.6h-2.6zM1457.9 491.1h2.6v2.6h-2.6zM1493.9 514.1h2.6v2.6h-2.6zM1489.8 519h2.6v2.6h-2.6zM1541.5 615.7h2.6v2.6h-2.6zM1540.3 562h2.6v2.6h-2.6zM1512.5 558.1h2.6v2.6h-2.6zM1541.8 466.7h2.6v2.6h-2.6zM1513 552.7h2.6v2.6h-2.6zM1481.7 569.2h2.6v2.6h-2.6zM1486.8 459.7h2.6v2.6h-2.6zM1507.7 550.7h2.6v2.6h-2.6zM1527 469.9h2.6v2.6h-2.6zM1487.3 491h2.6v2.6h-2.6zM1548.1 591.2h2.6v2.6h-2.6zM1490.7 504.2h2.6v2.6h-2.6zM1454.2 556.1h2.6v2.6h-2.6zM1540.8 505.3h2.6v2.6h-2.6zM1498.5 523.6h2.6v2.6h-2.6zM1525.1 457.1h2.6v2.6h-2.6zM1484.5 484.3h2.6v2.6h-2.6zM1435.7 541.7h2.6v2.6h-2.6zM1467.4 555.2h2.6v2.6h-2.6zM1506 520.5h2.6v2.6h-2.6zM1485.9 547h2.6v2.6h-2.6zM1448 566.7h2.6v2.6h-2.6zM1468.2 602.2h2.6v2.6h-2.6zM1495 537.8h2.6v2.6h-2.6zM1471.6 543.2h2.6v2.6h-2.6zM1481.9 631.1h2.6v2.6h-2.6zM1461.7 452.1h2.6v2.6h-2.6zM1439.5 545.3h2.6v2.6h-2.6zM1495.5 570.2h2.6v2.6h-2.6zM1436.6 581.8h2.6v2.6h-2.6zM1507.3 588.7h2.6v2.6h-2.6zM1530.5 524.1h2.6v2.6h-2.6zM1547.4 549.7h2.6v2.6h-2.6zM1541.1 507.6h2.6v2.6h-2.6zM1448.7 593.7h2.6v2.6h-2.6zM1434.1 548.1h2.6v2.6h-2.6zM1454.3 516h2.6v2.6h-2.6zM1511.9 526.8h2.6v2.6h-2.6zM1477 531.4h2.6v2.6h-2.6zM1501.4 552.7h2.6v2.6h-2.6zM1513.3 473h2.6v2.6h-2.6zM1443 498.8h2.6v2.6h-2.6zM1549.7 474.1h2.6v2.6h-2.6zM1529.1 505.2h2.6v2.6h-2.6zM1439.1 475.4h2.6v2.6h-2.6zM1513.5 514.3h2.6v2.6h-2.6zM1493.2 526h2.6v2.6h-2.6zM1483.6 452.3h2.6v2.6h-2.6zM1437.6 464.4h2.6v2.6h-2.6zM1526.8 563.9h2.6v2.6h-2.6zM1534.2 584.3h2.6v2.6h-2.6zM1456.2 556.6h2.6v2.6h-2.6zM1436 472.3h2.6v2.6h-2.6zM1445.6 582.6h2.6v2.6h-2.6zM1533.6 625h2.6v2.6h-2.6zM1532.9 506.9h2.6v2.6h-2.6zM1520.9 543.9h2.6v2.6h-2.6zM1444.6 561h2.6v2.6h-2.6zM1509.8 552.7h2.6v2.6h-2.6zM1540.9 534.6h2.6v2.6h-2.6zM1533.2 508.2h2.6v2.6h-2.6zM1511.6 500.6h2.6v2.6h-2.6zM1439.1 479.9h2.6v2.6h-2.6zM1457.3 469.1h2.6v2.6h-2.6zM1530.8 513.4h2.6v2.6h-2.6zM1515.7 516.2h2.6v2.6h-2.6zM1465.4 571.9h2.6v2.6h-2.6zM1459.5 502.7h2.6v2.6h-2.6zM1468 470.6h2.6v2.6h-2.6zM1539.4 570.3h2.6v2.6h-2.6zM1478.8 479.5h2.6v2.6h-2.6zM1470 567.7h2.6v2.6h-2.6zM1453.8 564.6h2.6v2.6h-2.6zM1540.2 548.8h2.6v2.6h-2.6zM1435.9 511.4h2.6v2.6h-2.6zM1518.8 554.2h2.6v2.6h-2.6zM1545.4 610.5h2.6v2.6h-2.6zM1518.8 510.6h2.6v2.6h-2.6zM1548.5 538.4h2.6v2.6h-2.6zM1451.6 507.4h2.6v2.6h-2.6zM1527.7 550h2.6v2.6h-2.6zM1459.1 545.9h2.6v2.6h-2.6zM1513.2 589h2.6v2.6h-2.6zM1487.9 460.6h2.6v2.6h-2.6zM1493.8 580.6h2.6v2.6h-2.6zM1457.2 544.9h2.6v2.6h-2.6zM1502.1 499.8h2.6v2.6h-2.6zM1445.8 512h2.6v2.6h-2.6zM1482.7 556.7h2.6v2.6h-2.6zM1438.6 621.5h2.6v2.6h-2.6zM1456.5 512.3h2.6v2.6h-2.6zM1438.1 516.1h2.6v2.6h-2.6zM1490.6 555.7h2.6v2.6h-2.6zM1525.3 584.1h2.6v2.6h-2.6zM1496.5 582.7h2.6v2.6h-2.6zM1546.6 567.7h2.6v2.6h-2.6zM1498.1 479.2h2.6v2.6h-2.6zM1525.9 586.5h2.6v2.6h-2.6zM1538.7 479.6h2.6v2.6h-2.6zM1485.5 598.4h2.6v2.6h-2.6zM1447 516.3h2.6v2.6h-2.6zM1468.2 546.7h2.6v2.6h-2.6zM1470.6 548.8h2.6v2.6h-2.6zM1478 551.7h2.6v2.6h-2.6zM1499.6 580.1h2.6v2.6h-2.6zM1452.4 471.7h2.6v2.6h-2.6zM1447.5 464.6h2.6v2.6h-2.6zM1509.8 548.1h2.6v2.6h-2.6zM1456.8 480.4h2.6v2.6h-2.6zM1466.8 526.8h2.6v2.6h-2.6zM1501.2 524h2.6v2.6h-2.6zM1438.2 590.7h2.6v2.6h-2.6zM1525.4 497.1h2.6v2.6h-2.6zM1479.2 555.9h2.6v2.6h-2.6zM1528.9 541.3h2.6v2.6h-2.6zM1465.8 462.3h2.6v2.6h-2.6zM1439.4 506.8h2.6v2.6h-2.6zM1519.4 487.6h2.6v2.6h-2.6zM1531.3 478.6h2.6v2.6h-2.6zM1491.1 559.9h2.6v2.6h-2.6zM1461.4 531.5h2.6v2.6h-2.6zM1469.6 531.1h2.6v2.6h-2.6zM1483.3 573.5h2.6v2.6h-2.6zM1451.4 508.3h2.6v2.6h-2.6zM1487.4 470.6h2.6v2.6h-2.6zM1456 504.3h2.6v2.6h-2.6zM1534.8 603h2.6v2.6h-2.6zM1435.8 496.4h2.6v2.6h-2.6zM1455.4 540.1h2.6v2.6h-2.6zM1436.3 453.5h2.6v2.6h-2.6zM1479.6 566.9h2.6v2.6h-2.6zM1527.4 579.8h2.6v2.6h-2.6zM1511.4 525.9h2.6v2.6h-2.6zM1550.3 542.1h2.6v2.6h-2.6zM1493 473.6h2.6v2.6h-2.6zM1474.8 515.9h2.6v2.6h-2.6zM1521.4 464.3h2.6v2.6h-2.6zM1506.3 531.8h2.6v2.6h-2.6zM1445 483h2.6v2.6h-2.6zM1457.9 555.5h2.6v2.6h-2.6zM1486.2 532.3h2.6v2.6h-2.6zM1524 552h2.6v2.6h-2.6zM1462.3 596.3h2.6v2.6h-2.6zM1534.5 591.1h2.6v2.6h-2.6zM1471.8 566.6h2.6v2.6h-2.6zM1466 530.1h2.6v2.6h-2.6zM1473.5 513.5h2.6v2.6h-2.6zM1472.8 591.8h2.6v2.6h-2.6zM1482.4 443.2h2.6v2.6h-2.6zM1505.5 502.7h2.6v2.6h-2.6zM1454.8 478h2.6v2.6h-2.6zM1498.8 520.2h2.6v2.6h-2.6zM1474.7 535h2.6v2.6h-2.6zM1490.3 574h2.6v2.6h-2.6zM1471.9 549.8h2.6v2.6h-2.6zM1442.7 515.1h2.6v2.6h-2.6zM1432.8 582h2.6v2.6h-2.6zM1527.3 559.6h2.6v2.6h-2.6zM1467.2 526.6h2.6v2.6h-2.6zM1493.8 459.5h2.6v2.6h-2.6zM1539 535.1h2.6v2.6h-2.6zM1519.7 498h2.6v2.6h-2.6zM1540.4 542.5h2.6v2.6h-2.6zM1474.7 529.6h2.6v2.6h-2.6zM1551.2 571.6h2.6v2.6h-2.6zM1471.5 604.9h2.6v2.6h-2.6zM1481.4 473.9h2.6v2.6h-2.6zM1470.6 530.4h2.6v2.6h-2.6zM1491.1 450h2.6v2.6h-2.6zM1527.7 626.6h2.6v2.6h-2.6zM1481.5 447.1h2.6v2.6h-2.6zM1473.6 519h2.6v2.6h-2.6zM1460.3 488.7h2.6v2.6h-2.6zM1542.1 533.1h2.6v2.6h-2.6zM1441.4 540.3h2.6v2.6h-2.6zM1465.1 490.9h2.6v2.6h-2.6zM1467.2 517.7h2.6v2.6h-2.6zM1478.6 575.5h2.6v2.6h-2.6zM1519.4 570.3h2.6v2.6h-2.6zM1436.7 445.4h2.6v2.6h-2.6zM1456.7 557.4h2.6v2.6h-2.6zM1511.4 502.1h2.6v2.6h-2.6zM1551.1 559.8h2.6v2.6h-2.6zM1538.8 547.5h2.6v2.6h-2.6zM1462.3 604.2h2.6v2.6h-2.6zM1436.5 492h2.6v2.6h-2.6zM1483.3 497.4h2.6v2.6h-2.6zM1489.7 519.3h2.6v2.6h-2.6zM1501.3 614h2.6v2.6h-2.6zM1513.4 601.9h2.6v2.6h-2.6zM1495.9 448.2h2.6v2.6h-2.6zM1492.1 560.2h2.6v2.6h-2.6zM1453.8 506.2h2.6v2.6h-2.6zM1447 601.9h2.6v2.6h-2.6zM1522 446.2h2.6v2.6h-2.6zM1507.9 531.1h2.6v2.6h-2.6zM1524.5 529.5h2.6v2.6h-2.6zM1535.7 550.5h2.6v2.6h-2.6zM1453.1 511.1h2.6v2.6h-2.6zM1534.1 564.1h2.6v2.6h-2.6zM1529.9 509.1h2.6v2.6h-2.6zM1545.4 506.5h2.6v2.6h-2.6zM1469.7 543.6h2.6v2.6h-2.6zM1468.1 559.3h2.6v2.6h-2.6zM1477.7 563.9h2.6v2.6h-2.6zM1510.4 561.4h2.6v2.6h-2.6zM1438.4 473.6h2.6v2.6h-2.6zM1539.9 554.8h2.6v2.6h-2.6zM1497.7 505.5h2.6v2.6h-2.6zM1504.1 543.9h2.6v2.6h-2.6zM1485.5 538.2h2.6v2.6h-2.6zM1517.7 526.7h2.6v2.6h-2.6zM1531.4 518.5h2.6v2.6h-2.6zM1546.6 476.3h2.6v2.6h-2.6zM1488.2 487.3h2.6v2.6h-2.6zM1450.5 521.7h2.6v2.6h-2.6zM1445.6 519.2h2.6v2.6h-2.6zM1434.6 535.8h2.6v2.6h-2.6zM1511 518.9h2.6v2.6h-2.6zM1472.3 529.1h2.6v2.6h-2.6zM1476.2 515.7h2.6v2.6h-2.6zM1434.1 571.1h2.6v2.6h-2.6zM1522.9 606.5h2.6v2.6h-2.6zM1482.4 486.6h2.6v2.6h-2.6zM1513.2 539.6h2.6v2.6h-2.6zM1549.8 546.6h2.6v2.6h-2.6zM1536.1 514.3h2.6v2.6h-2.6zM1504.3 581.9h2.6v2.6h-2.6zM1481.6 549.8h2.6v2.6h-2.6zM1468.2 507.3h2.6v2.6h-2.6zM1541.2 561h2.6v2.6h-2.6zM1521.2 507.6h2.6v2.6h-2.6zM1507.4 531.1h2.6v2.6h-2.6zM1501.9 438.3h2.6v2.6h-2.6zM1445.9 529.4h2.6v2.6h-2.6zM1454.1 537.7h2.6v2.6h-2.6zM1446.6 532.8h2.6v2.6h-2.6zM1504.5 554.3h2.6v2.6h-2.6zM1547.3 548.2h2.6v2.6h-2.6zM1434.2 549.2h2.6v2.6h-2.6zM1519.2 528.8h2.6v2.6h-2.6zM1549.7 581.6h2.6v2.6h-2.6zM1536.2 579.5h2.6v2.6h-2.6zM1475.1 558.8h2.6v2.6h-2.6zM1473.8 473.4h2.6v2.6h-2.6zM1476.4 601.6h2.6v2.6h-2.6zM1546.3 610.8h2.6v2.6h-2.6zM1438.2 589.5h2.6v2.6h-2.6zM1468.8 553.2h2.6v2.6h-2.6zM1538.8 545.2h2.6v2.6h-2.6zM1483.9 495.3h2.6v2.6h-2.6zM1443.5 541.8h2.6v2.6h-2.6zM1467.1 562.6h2.6v2.6h-2.6zM1525.8 473h2.6v2.6h-2.6zM1466.4 452.9h2.6v2.6h-2.6zM1484.9 570.9h2.6v2.6h-2.6zM1469.6 555.6h2.6v2.6h-2.6zM1446.3 517.9h2.6v2.6h-2.6zM1523.3 559.5h2.6v2.6h-2.6zM1479.1 487.5h2.6v2.6h-2.6zM1440 554.1h2.6v2.6h-2.6zM1547.8 503.7h2.6v2.6h-2.6zM1483.6 490.6h2.6v2.6h-2.6zM1482.8 522.3h2.6v2.6h-2.6zM1499.7 543.4h2.6v2.6h-2.6zM1433.6 573.9h2.6v2.6h-2.6zM1523 563.6h2.6v2.6h-2.6zM1456.7 547.7h2.6v2.6h-2.6zM1509.4 497h2.6v2.6h-2.6zM1442.3 520.4h2.6v2.6h-2.6zM1506.2 579.3h2.6v2.6h-2.6zM1495.3 548.1h2.6v2.6h-2.6zM1481.7 459.3h2.6v2.6h-2.6zM1477.8 528h2.6v2.6h-2.6zM1479.3 478.6h2.6v2.6h-2.6zM1482.5 537h2.6v2.6h-2.6zM1498.7 534.4h2.6v2.6h-2.6zM1499.7 470.1h2.6v2.6h-2.6zM1475.9 631.3h2.6v2.6h-2.6zM1442.5 499h2.6v2.6h-2.6zM1525.1 548.3h2.6v2.6h-2.6zM1537.7 458.4h2.6v2.6h-2.6zM1496.2 564h2.6v2.6h-2.6zM1468 476h2.6v2.6h-2.6zM1514.5 512.1h2.6v2.6h-2.6zM1537 532.8h2.6v2.6h-2.6zM1535.7 603.2h2.6v2.6h-2.6zM1451.2 468.3h2.6v2.6h-2.6zM1538.1 498.8h2.6v2.6h-2.6zM1443.3 554.4h2.6v2.6h-2.6zM1450.2 474h2.6v2.6h-2.6zM1478.3 514.6h2.6v2.6h-2.6zM1513.5 452.2h2.6v2.6h-2.6zM1478 517.7h2.6v2.6h-2.6zM1518.2 606.2h2.6v2.6h-2.6zM1529.1 584.7h2.6v2.6h-2.6zM1473.1 532.7h2.6v2.6h-2.6zM1466.4 543h2.6v2.6h-2.6zM1463.6 596.2h2.6v2.6h-2.6zM1511.9 517.3h2.6v2.6h-2.6zM1433 529.2h2.6v2.6h-2.6zM1467.3 581.4h2.6v2.6h-2.6zM1447.8 540.8h2.6v2.6h-2.6zM1516.3 573.8h2.6v2.6h-2.6zM1494.1 526.7h2.6v2.6h-2.6zM1510.4 545.1h2.6v2.6h-2.6zM1500.8 479.7h2.6v2.6h-2.6zM1482.4 458.4h2.6v2.6h-2.6zM1503.1 533.3h2.6v2.6h-2.6zM1448.7 483.8h2.6v2.6h-2.6zM1476.6 525.6h2.6v2.6h-2.6zM1528.3 501h2.6v2.6h-2.6zM1536.4 498.8h2.6v2.6h-2.6zM1466.4 510.9h2.6v2.6h-2.6zM1469.8 595.9h2.6v2.6h-2.6zM1451.5 411.6h2.6v2.6h-2.6zM1513.4 549.5h2.6v2.6h-2.6zM1527.5 470.3h2.6v2.6h-2.6zM1456.5 535h2.6v2.6h-2.6zM1478.3 496.4h2.6v2.6h-2.6zM1535.4 421.6h2.6v2.6h-2.6zM1540.6 539.3h2.6v2.6h-2.6zM1508.9 585.2h2.6v2.6h-2.6zM1475.1 452.4h2.6v2.6h-2.6zM1548.1 518.3h2.6v2.6h-2.6zM1485.9 509.9h2.6v2.6h-2.6zM1518.4 501.8h2.6v2.6h-2.6zM1538.2 504.4h2.6v2.6h-2.6zM1509.3 491.4h2.6v2.6h-2.6zM1540.8 522.9h2.6v2.6h-2.6zM1454.1 546.6h2.6v2.6h-2.6zM1484.4 582.3h2.6v2.6h-2.6zM1523.3 557.7h2.6v2.6h-2.6zM1526.9 522.4h2.6v2.6h-2.6zM1529.3 492.6h2.6v2.6h-2.6zM1516.6 544.7h2.6v2.6h-2.6zM1548 578.6h2.6v2.6h-2.6zM1518.5 591.7h2.6v2.6h-2.6zM1510.5 520.6h2.6v2.6h-2.6zM1515.3 506h2.6v2.6h-2.6zM1547.2 441.6h2.6v2.6h-2.6zM1529.8 477.2h2.6v2.6h-2.6zM1544.6 531.4h2.6v2.6h-2.6zM1523.7 596.7h2.6v2.6h-2.6zM1523.6 579.6h2.6v2.6h-2.6zM1440.8 593.9h2.6v2.6h-2.6zM1437.5 475.4h2.6v2.6h-2.6zM1490.5 565.1h2.6v2.6h-2.6zM1478.1 558.9h2.6v2.6h-2.6zM1503.9 581.6h2.6v2.6h-2.6zM1492.6 515h2.6v2.6h-2.6zM1502 533.4h2.6v2.6h-2.6zM1510.9 584.6h2.6v2.6h-2.6zM1505.9 531.3h2.6v2.6h-2.6zM1444.7 528h2.6v2.6h-2.6zM1468 530.6h2.6v2.6h-2.6zM1495.3 545.1h2.6v2.6h-2.6zM1509.2 567.7h2.6v2.6h-2.6zM1544.2 585.6h2.6v2.6h-2.6zM1466 526.8h2.6v2.6h-2.6zM1447.7 592.8h2.6v2.6h-2.6zM1449.8 532.1h2.6v2.6h-2.6zM1477.2 483h2.6v2.6h-2.6zM1495.4 499.4h2.6v2.6h-2.6zM1482.7 508.6h2.6v2.6h-2.6zM1537.4 560.6h2.6v2.6h-2.6zM1525.6 456.8h2.6v2.6h-2.6zM1470.7 415.3h2.6v2.6h-2.6zM1460.3 455.1h2.6v2.6h-2.6zM1527.8 524.3h2.6v2.6h-2.6zM1507 546.9h2.6v2.6h-2.6zM1484.5 541.6h2.6v2.6h-2.6zM1516.4 475.6h2.6v2.6h-2.6zM1481.5 623.7h2.6v2.6h-2.6zM1532.9 480h2.6v2.6h-2.6zM1519.8 537.9h2.6v2.6h-2.6zM1533.3 564.2h2.6v2.6h-2.6zM1443.6 443.5h2.6v2.6h-2.6zM1542 519.6h2.6v2.6h-2.6zM1458.7 539.3h2.6v2.6h-2.6zM1454.4 510.7h2.6v2.6h-2.6zM1498.8 502.1h2.6v2.6h-2.6zM1533.6 571.7h2.6v2.6h-2.6zM1518.7 519.8h2.6v2.6h-2.6zM1494.1 491.7h2.6v2.6h-2.6zM1462.7 515.6h2.6v2.6h-2.6zM1503.2 564.3h2.6v2.6h-2.6zM1519.8 577.4h2.6v2.6h-2.6zM1531.7 532.8h2.6v2.6h-2.6zM1550.5 513h2.6v2.6h-2.6zM1500.8 512.9h2.6v2.6h-2.6zM1438 557.9h2.6v2.6h-2.6zM1541.2 528.3h2.6v2.6h-2.6zM1536.6 516.4h2.6v2.6h-2.6zM1451.1 532.8h2.6v2.6h-2.6zM1549 493.4h2.6v2.6h-2.6zM1510.3 501.2h2.6v2.6h-2.6zM1540.4 536.7h2.6v2.6h-2.6zM1507.6 554.9h2.6v2.6h-2.6zM1528.1 477.8h2.6v2.6h-2.6zM1528.9 511.4h2.6v2.6h-2.6zM1495 545.2h2.6v2.6h-2.6zM1485.3 601.6h2.6v2.6h-2.6zM1519 545.1h2.6v2.6h-2.6zM1470.1 581.6h2.6v2.6h-2.6zM1514.2 545.3h2.6v2.6h-2.6zM1493.7 526.4h2.6v2.6h-2.6zM1489.1 497.4h2.6v2.6h-2.6zM1493.4 545.8h2.6v2.6h-2.6zM1532.9 507.6h2.6v2.6h-2.6zM1485 497.9h2.6v2.6h-2.6zM1457.6 544.4h2.6v2.6h-2.6zM1520.2 555.7h2.6v2.6h-2.6zM1435.9 501h2.6v2.6h-2.6zM1534.8 613.3h2.6v2.6h-2.6zM1472.3 442.2h2.6v2.6h-2.6zM1486.5 490.4h2.6v2.6h-2.6zM1528 527.5h2.6v2.6h-2.6zM1487.3 423.9h2.6v2.6h-2.6zM1517.5 614.3h2.6v2.6h-2.6zM1473.3 532.5h2.6v2.6h-2.6zM1455.5 496.4h2.6v2.6h-2.6zM1542.4 510.6h2.6v2.6h-2.6zM1491.3 502.8h2.6v2.6h-2.6zM1514.7 444.4h2.6v2.6h-2.6zM1500.2 493.3h2.6v2.6h-2.6zM1470.1 543.9h2.6v2.6h-2.6zM1492.8 489.4h2.6v2.6h-2.6zM1439.9 508h2.6v2.6h-2.6zM1483.8 564h2.6v2.6h-2.6zM1537.9 519.7h2.6v2.6h-2.6zM1494.4 510.3h2.6v2.6h-2.6zM1493.3 514.1h2.6v2.6h-2.6zM1545.2 519.3h2.6v2.6h-2.6zM1462.4 491.6h2.6v2.6h-2.6zM1466 530.3h2.6v2.6h-2.6zM1451.3 565.3h2.6v2.6h-2.6zM1452.8 542.1h2.6v2.6h-2.6zM1455.6 537.8h2.6v2.6h-2.6zM1534.2 487.4h2.6v2.6h-2.6zM1545.9 570.6h2.6v2.6h-2.6zM1524.2 557.4h2.6v2.6h-2.6zM1484.9 552.6h2.6v2.6h-2.6zM1522.8 499.9h2.6v2.6h-2.6zM1534.7 573.9h2.6v2.6h-2.6zM1512.6 547.3h2.6v2.6h-2.6zM1511.2 546.8h2.6v2.6h-2.6zM1547.8 558.4h2.6v2.6h-2.6zM1541 539.1h2.6v2.6h-2.6zM1468.2 426.1h2.6v2.6h-2.6zM1530.7 423.2h2.6v2.6h-2.6zM1434.5 544.9h2.6v2.6h-2.6zM1474.3 466.6h2.6v2.6h-2.6zM1512.3 549.2h2.6v2.6h-2.6zM1478.2 501.8h2.6v2.6h-2.6zM1454.2 512h2.6v2.6h-2.6zM1462.2 568.5h2.6v2.6h-2.6zM1512.1 520.5h2.6v2.6h-2.6zM1531 535.9h2.6v2.6h-2.6zM1528.1 508.5h2.6v2.6h-2.6zM1540.5 498.7h2.6v2.6h-2.6zM1487.6 540.4h2.6v2.6h-2.6zM1454.4 484.9h2.6v2.6h-2.6zM1479.2 546.8h2.6v2.6h-2.6zM1458.3 572.9h2.6v2.6h-2.6zM1477.3 541.1h2.6v2.6h-2.6zM1493.1 527.6h2.6v2.6h-2.6zM1508.6 547.3h2.6v2.6h-2.6zM1521.1 559.8h2.6v2.6h-2.6zM1519.6 509.6h2.6v2.6h-2.6zM1545.2 520.9h2.6v2.6h-2.6zM1488.1 454.7h2.6v2.6h-2.6zM1447.3 451.1h2.6v2.6h-2.6zM1474.3 519.5h2.6v2.6h-2.6zM1509.4 586.8h2.6v2.6h-2.6zM1459.5 531.6h2.6v2.6h-2.6zM1452.7 519.8h2.6v2.6h-2.6zM1450.1 543.3h2.6v2.6h-2.6zM1503.4 550.4h2.6v2.6h-2.6zM1488.7 578.5h2.6v2.6h-2.6zM1520 522.6h2.6v2.6h-2.6zM1456.5 467.4h2.6v2.6h-2.6zM1455.1 433.6h2.6v2.6h-2.6zM1527.8 544.5h2.6v2.6h-2.6zM1532.7 537.7h2.6v2.6h-2.6zM1449.9 583.5h2.6v2.6h-2.6zM1467.5 551.6h2.6v2.6h-2.6zM1445.9 554h2.6v2.6h-2.6zM1504.9 553.5h2.6v2.6h-2.6zM1530.8 536.7h2.6v2.6h-2.6zM1486.3 518.5h2.6v2.6h-2.6zM1530.2 510.7h2.6v2.6h-2.6zM1469.3 526.1h2.6v2.6h-2.6zM1436.7 478.9h2.6v2.6h-2.6zM1545 493.9h2.6v2.6h-2.6zM1504.3 519.7h2.6v2.6h-2.6zM1544.3 502.9h2.6v2.6h-2.6zM1469.5 587.7h2.6v2.6h-2.6zM1484.9 463.3h2.6v2.6h-2.6zM1526.5 511.8h2.6v2.6h-2.6zM1484 562.2h2.6v2.6h-2.6zM1485.5 479.9h2.6v2.6h-2.6zM1543.6 480.5h2.6v2.6h-2.6zM1505.8 569.3h2.6v2.6h-2.6zM1527.7 612h2.6v2.6h-2.6zM1500 576.6h2.6v2.6h-2.6zM1496.3 472.7h2.6v2.6h-2.6zM1472.9 576.2h2.6v2.6h-2.6zM1519.2 484.1h2.6v2.6h-2.6zM1491.7 597.6h2.6v2.6h-2.6zM1434.4 492.2h2.6v2.6h-2.6zM1489.6 461.9h2.6v2.6h-2.6zM1490 523.4h2.6v2.6h-2.6zM1456.3 555.7h2.6v2.6h-2.6zM1462.9 609.2h2.6v2.6h-2.6zM1536.2 509.6h2.6v2.6h-2.6zM1451.3 539.4h2.6v2.6h-2.6zM1513 496.6h2.6v2.6h-2.6zM1524.6 477.6h2.6v2.6h-2.6zM1437.3 589.3h2.6v2.6h-2.6zM1544.1 604.9h2.6v2.6h-2.6zM1542.8 435.5h2.6v2.6h-2.6zM1543.5 558.4h2.6v2.6h-2.6zM1527.7 468.1h2.6v2.6h-2.6zM1536 529.1h2.6v2.6h-2.6zM1497.7 607.8h2.6v2.6h-2.6zM1505.2 570.5h2.6v2.6h-2.6zM1526.7 468.8h2.6v2.6h-2.6zM1436.1 560.3h2.6v2.6h-2.6zM1504.3 559.2h2.6v2.6h-2.6zM1490.1 502.2h2.6v2.6h-2.6zM1517.7 534.5h2.6v2.6h-2.6zM1545.7 577.3h2.6v2.6h-2.6zM1534 549h2.6v2.6h-2.6zM1540.4 575.3h2.6v2.6h-2.6zM1464.7 482.4h2.6v2.6h-2.6zM1488.8 518.9h2.6v2.6h-2.6zM1475.2 522.3h2.6v2.6h-2.6zM1520.5 545.6h2.6v2.6h-2.6zM1445.2 555h2.6v2.6h-2.6zM1531 515.3h2.6v2.6h-2.6zM1489.9 495.7h2.6v2.6h-2.6zM1505.8 614h2.6v2.6h-2.6zM1512.7 539.9h2.6v2.6h-2.6zM1487.2 528.5h2.6v2.6h-2.6zM1546 558.4h2.6v2.6h-2.6zM1548.2 504.2h2.6v2.6h-2.6zM1466.1 546.9h2.6v2.6h-2.6zM1487.3 482.2h2.6v2.6h-2.6zM1498.2 551.2h2.6v2.6h-2.6zM1449.2 478.4h2.6v2.6h-2.6zM1524.7 491.5h2.6v2.6h-2.6zM1540.7 507.2h2.6v2.6h-2.6zM1470.3 510.5h2.6v2.6h-2.6zM1501.4 626.8h2.6v2.6h-2.6zM1472.4 518h2.6v2.6h-2.6zM1531.5 546.3h2.6v2.6h-2.6zM1436.7 538.8h2.6v2.6h-2.6zM1536.6 536.4h2.6v2.6h-2.6zM1545.1 611.1h2.6v2.6h-2.6zM1548 537.3h2.6v2.6h-2.6zM1446.2 572.9h2.6v2.6h-2.6zM1519.5 595.1h2.6v2.6h-2.6zM1498.4 494.4h2.6v2.6h-2.6zM1455.4 441.2h2.6v2.6h-2.6zM1471.9 483.6h2.6v2.6h-2.6zM1456.2 536.3h2.6v2.6h-2.6zM1447.4 532.7h2.6v2.6h-2.6zM1441.1 441h2.6v2.6h-2.6zM1547.5 503.4h2.6v2.6h-2.6zM1438.9 535.2h2.6v2.6h-2.6zM1529.5 579.5h2.6v2.6h-2.6zM1452 457h2.6v2.6h-2.6zM1436 562.3h2.6v2.6h-2.6zM1507.2 564h2.6v2.6h-2.6zM1550.3 550h2.6v2.6h-2.6zM1543.6 495.7h2.6v2.6h-2.6zM1482.4 526h2.6v2.6h-2.6zM1495.1 540.3h2.6v2.6h-2.6zM1518.3 478.5h2.6v2.6h-2.6zM1461.2 474.6h2.6v2.6h-2.6zM1495.3 494.3h2.6v2.6h-2.6zM1546.1 555h2.6v2.6h-2.6zM1518.9 558.4h2.6v2.6h-2.6zM1501.8 456.9h2.6v2.6h-2.6zM1459 549.5h2.6v2.6h-2.6zM1446 567.3h2.6v2.6h-2.6zM1491.3 535.5h2.6v2.6h-2.6zM1463.8 547.6h2.6v2.6h-2.6zM1521.8 503.6h2.6v2.6h-2.6zM1508.4 537.4h2.6v2.6h-2.6zM1453.2 402.9h2.6v2.6h-2.6zM1516.8 504h2.6v2.6h-2.6zM1520.6 531.7h2.6v2.6h-2.6zM1536.1 542.1h2.6v2.6h-2.6zM1442.1 515.2h2.6v2.6h-2.6zM1455.9 506.4h2.6v2.6h-2.6zM1488.4 552.2h2.6v2.6h-2.6zM1509.1 469.2h2.6v2.6h-2.6zM1446.7 510.8h2.6v2.6h-2.6zM1481 481.6h2.6v2.6h-2.6zM1472.4 468.7h2.6v2.6h-2.6zM1444.3 555.5h2.6v2.6h-2.6zM1521.1 535.8h2.6v2.6h-2.6zM1445.1 480.4h2.6v2.6h-2.6zM1442.2 531.2h2.6v2.6h-2.6zM1471.7 534.7h2.6v2.6h-2.6zM1542.4 526.9h2.6v2.6h-2.6zM1471.3 495.2h2.6v2.6h-2.6zM1528.3 559.3h2.6v2.6h-2.6zM1457.6 529.7h2.6v2.6h-2.6zM1466 487.7h2.6v2.6h-2.6zM1540.1 541.5h2.6v2.6h-2.6zM1454.9 565.4h2.6v2.6h-2.6zM1517 568h2.6v2.6h-2.6zM1485.4 441.7h2.6v2.6h-2.6zM1470.3 528.3h2.6v2.6h-2.6zM1475.5 498.8h2.6v2.6h-2.6zM1522.3 537.2h2.6v2.6h-2.6zM1517.7 514h2.6v2.6h-2.6zM1431.9 475.9h2.6v2.6h-2.6zM1542.8 539.4h2.6v2.6h-2.6zM1544.4 576.4h2.6v2.6h-2.6zM1516.6 563.9h2.6v2.6h-2.6zM1480.4 499.8h2.6v2.6h-2.6zM1541.5 527.4h2.6v2.6h-2.6zM1432.9 535.1h2.6v2.6h-2.6zM1440.5 521.5h2.6v2.6h-2.6zM1531.8 513.3h2.6v2.6h-2.6zM1524.9 469.9h2.6v2.6h-2.6zM1540 593.7h2.6v2.6h-2.6zM1470.6 521.8h2.6v2.6h-2.6zM1454.2 511.7h2.6v2.6h-2.6zM1482.7 544.9h2.6v2.6h-2.6zM1472.2 489.7h2.6v2.6h-2.6zM1529.3 472.7h2.6v2.6h-2.6zM1459 539.4h2.6v2.6h-2.6zM1542.5 580h2.6v2.6h-2.6zM1494.8 478.3h2.6v2.6h-2.6zM1536.1 614.8h2.6v2.6h-2.6zM1498 560.9h2.6v2.6h-2.6zM1459.8 606.6h2.6v2.6h-2.6zM1456.3 614.5h2.6v2.6h-2.6zM1462.4 577.8h2.6v2.6h-2.6zM1511.3 539h2.6v2.6h-2.6zM1500.7 485.2h2.6v2.6h-2.6zM1448.5 534.2h2.6v2.6h-2.6zM1519 524.8h2.6v2.6h-2.6zM1508.5 531.2h2.6v2.6h-2.6zM1528.3 369.5h2.6v2.6h-2.6zM1446.1 383.5h2.6v2.6h-2.6zM1484.7 386.3h2.6v2.6h-2.6zM1522.9 400.4h2.6v2.6h-2.6zM1481.7 403.2h2.6v2.6h-2.6zM1484.7 414.4h2.6v2.6h-2.6zM1522.9 417.2h2.6v2.6h-2.6zM1679.3 561.4h2.6v2.6h-2.6zM1643.2 578.5h2.6v2.6h-2.6zM1668 581.5h2.6v2.6h-2.6zM1584.2 582.2h2.6v2.6h-2.6zM1644 521h2.6v2.6h-2.6zM1598.1 555.6h2.6v2.6h-2.6zM1647.1 527.8h2.6v2.6h-2.6zM1668.9 434.1h2.6v2.6h-2.6zM1699 536h2.6v2.6h-2.6zM1697 500.2h2.6v2.6h-2.6zM1602 547.5h2.6v2.6h-2.6zM1614.3 568.8h2.6v2.6h-2.6zM1662.3 540.8h2.6v2.6h-2.6zM1645.4 555.4h2.6v2.6h-2.6zM1656.8 555h2.6v2.6h-2.6zM1651.5 553.2h2.6v2.6h-2.6zM1690.8 484.8h2.6v2.6h-2.6zM1603.8 516.3h2.6v2.6h-2.6zM1654.1 567.9h2.6v2.6h-2.6zM1696.3 559.7h2.6v2.6h-2.6zM1594.4 509.1h2.6v2.6h-2.6zM1661.1 537.5h2.6v2.6h-2.6zM1696.5 552.3h2.6v2.6h-2.6zM1643.9 533.7h2.6v2.6h-2.6zM1631.5 512.6h2.6v2.6h-2.6zM1675.5 573.7h2.6v2.6h-2.6zM1663.2 558.7h2.6v2.6h-2.6zM1628.9 579h2.6v2.6h-2.6zM1624.4 479.7h2.6v2.6h-2.6zM1597.8 529h2.6v2.6h-2.6zM1675.6 583.2h2.6v2.6h-2.6zM1615.9 559.5h2.6v2.6h-2.6zM1678.7 547.3h2.6v2.6h-2.6zM1688.4 524.3h2.6v2.6h-2.6zM1601.9 482.8h2.6v2.6h-2.6zM1621 546h2.6v2.6h-2.6zM1619.3 465.8h2.6v2.6h-2.6zM1685.7 490.5h2.6v2.6h-2.6zM1611.4 462.9h2.6v2.6h-2.6zM1633 535.3h2.6v2.6h-2.6zM1665.9 508.9h2.6v2.6h-2.6zM1685.8 551h2.6v2.6h-2.6zM1662.4 548.6h2.6v2.6h-2.6zM1671.8 559.2h2.6v2.6h-2.6zM1677.1 564.5h2.6v2.6h-2.6zM1688.1 476.1h2.6v2.6h-2.6zM1633.5 583h2.6v2.6h-2.6zM1671 515.5h2.6v2.6h-2.6zM1648.6 534.5h2.6v2.6h-2.6zM1620.9 527.3h2.6v2.6h-2.6zM1694.8 532.9h2.6v2.6h-2.6zM1668.1 534.3h2.6v2.6h-2.6zM1597.4 514h2.6v2.6h-2.6zM1672 496.6h2.6v2.6h-2.6zM1584.6 551.6h2.6v2.6h-2.6zM1619.1 548.8h2.6v2.6h-2.6zM1593.4 546.8h2.6v2.6h-2.6zM1669.3 498.7h2.6v2.6h-2.6zM1581.1 484.3h2.6v2.6h-2.6zM1680.5 536.6h2.6v2.6h-2.6zM1667.1 592.6h2.6v2.6h-2.6zM1672.4 489.5h2.6v2.6h-2.6zM1586 508h2.6v2.6h-2.6zM1680.7 513.6h2.6v2.6h-2.6zM1643.1 591.9h2.6v2.6h-2.6zM1687.1 481.4h2.6v2.6h-2.6zM1670.5 512.8h2.6v2.6h-2.6zM1671.8 501.9h2.6v2.6h-2.6zM1675.8 569.2h2.6v2.6h-2.6zM1638.3 507.4h2.6v2.6h-2.6zM1606.2 475.3h2.6v2.6h-2.6zM1686.9 526.9h2.6v2.6h-2.6zM1595.1 580.1h2.6v2.6h-2.6zM1593.8 521h2.6v2.6h-2.6zM1646.1 554.3h2.6v2.6h-2.6zM1655.6 577.9h2.6v2.6h-2.6zM1607.4 558.7h2.6v2.6h-2.6zM1694.8 616.1h2.6v2.6h-2.6zM1588.7 495.2h2.6v2.6h-2.6zM1657.2 539.2h2.6v2.6h-2.6zM1685.4 510.8h2.6v2.6h-2.6zM1664.5 545.4h2.6v2.6h-2.6zM1637.8 532.6h2.6v2.6h-2.6zM1673.5 574h2.6v2.6h-2.6zM1653.7 543.2h2.6v2.6h-2.6zM1646.9 518.6h2.6v2.6h-2.6zM1601.4 536.6h2.6v2.6h-2.6zM1669.8 507.8h2.6v2.6h-2.6zM1662.7 470.9h2.6v2.6h-2.6zM1641.5 545.9h2.6v2.6h-2.6zM1639.9 592.7h2.6v2.6h-2.6zM1665.2 539.3h2.6v2.6h-2.6zM1668.3 517.8h2.6v2.6h-2.6zM1696.9 550.2h2.6v2.6h-2.6zM1652.1 554.7h2.6v2.6h-2.6zM1627.8 529.4h2.6v2.6h-2.6zM1670.3 538.6h2.6v2.6h-2.6zM1650.5 567h2.6v2.6h-2.6zM1594.4 526.8h2.6v2.6h-2.6zM1661.5 549.1h2.6v2.6h-2.6zM1696.8 515.4h2.6v2.6h-2.6zM1613 503.9h2.6v2.6h-2.6zM1612.5 629.2h2.6v2.6h-2.6zM1611.4 548.3h2.6v2.6h-2.6zM1686.4 519.7h2.6v2.6h-2.6zM1608.9 614.8h2.6v2.6h-2.6zM1665.9 516.5h2.6v2.6h-2.6zM1621.3 619.8h2.6v2.6h-2.6zM1678.1 548h2.6v2.6h-2.6zM1611.1 610.7h2.6v2.6h-2.6zM1694 529.4h2.6v2.6h-2.6zM1644.7 567.1h2.6v2.6h-2.6zM1619.3 490.3h2.6v2.6h-2.6zM1672.3 578.4h2.6v2.6h-2.6zM1601.9 586.3h2.6v2.6h-2.6zM1698.6 511.6h2.6v2.6h-2.6zM1645.8 517.4h2.6v2.6h-2.6zM1665.6 516.5h2.6v2.6h-2.6zM1610.4 583.7h2.6v2.6h-2.6zM1630.5 569.9h2.6v2.6h-2.6zM1674.5 449h2.6v2.6h-2.6zM1679.7 504.1h2.6v2.6h-2.6zM1605.8 563.3h2.6v2.6h-2.6zM1665.5 526.1h2.6v2.6h-2.6zM1603.1 511.7h2.6v2.6h-2.6zM1655.8 498.2h2.6v2.6h-2.6zM1654.2 526.9h2.6v2.6h-2.6zM1689.5 545.2h2.6v2.6h-2.6zM1661.5 530.9h2.6v2.6h-2.6zM1607.6 541.2h2.6v2.6h-2.6zM1638.2 566.7h2.6v2.6h-2.6zM1690.9 607.7h2.6v2.6h-2.6zM1617.5 539.2h2.6v2.6h-2.6zM1636.9 539.5h2.6v2.6h-2.6zM1623.5 556.1h2.6v2.6h-2.6zM1614.8 483.6h2.6v2.6h-2.6zM1682.5 595.2h2.6v2.6h-2.6zM1619.8 449h2.6v2.6h-2.6zM1587.9 572h2.6v2.6h-2.6zM1626.5 476.9h2.6v2.6h-2.6zM1681.9 521.9h2.6v2.6h-2.6zM1593.6 503.2h2.6v2.6h-2.6zM1597.8 525.6h2.6v2.6h-2.6zM1615.9 511.1h2.6v2.6h-2.6zM1600.5 546.7h2.6v2.6h-2.6zM1682.8 492.1h2.6v2.6h-2.6zM1670.7 476.4h2.6v2.6h-2.6zM1688.2 525.4h2.6v2.6h-2.6zM1695.8 462h2.6v2.6h-2.6zM1639.6 573.3h2.6v2.6h-2.6zM1655.6 553.1h2.6v2.6h-2.6zM1613.5 562.5h2.6v2.6h-2.6zM1629.4 541.2h2.6v2.6h-2.6zM1591.3 552.9h2.6v2.6h-2.6zM1590.1 546.9h2.6v2.6h-2.6zM1611.9 527.4h2.6v2.6h-2.6zM1608.7 555.4h2.6v2.6h-2.6zM1607.8 523.1h2.6v2.6h-2.6zM1677 554.6h2.6v2.6h-2.6zM1604.6 576h2.6v2.6h-2.6zM1687.4 608h2.6v2.6h-2.6zM1619.3 524.9h2.6v2.6h-2.6zM1586.8 516.1h2.6v2.6h-2.6zM1661.9 534.8h2.6v2.6h-2.6zM1657.7 549h2.6v2.6h-2.6zM1595.1 483.8h2.6v2.6h-2.6zM1642.7 582h2.6v2.6h-2.6zM1699.8 510.9h2.6v2.6h-2.6zM1654.8 572.5h2.6v2.6h-2.6zM1699 526.4h2.6v2.6h-2.6zM1581.7 562.9h2.6v2.6h-2.6zM1616.8 507.5h2.6v2.6h-2.6zM1690.8 539h2.6v2.6h-2.6zM1581.5 571.8h2.6v2.6h-2.6zM1644.8 578.8h2.6v2.6h-2.6zM1597.1 534.8h2.6v2.6h-2.6zM1690 517.5h2.6v2.6h-2.6zM1689.9 547.9h2.6v2.6h-2.6zM1605.4 545.2h2.6v2.6h-2.6zM1590.5 576.7h2.6v2.6h-2.6zM1674.2 537.3h2.6v2.6h-2.6zM1680.1 500h2.6v2.6h-2.6zM1617.8 514.4h2.6v2.6h-2.6zM1692.2 524.8h2.6v2.6h-2.6zM1654.1 542.5h2.6v2.6h-2.6zM1650 531.4h2.6v2.6h-2.6zM1607.4 437h2.6v2.6h-2.6zM1622.1 489.7h2.6v2.6h-2.6zM1627.7 516.9h2.6v2.6h-2.6zM1589 539.5h2.6v2.6h-2.6zM1607.8 596.5h2.6v2.6h-2.6zM1662.1 593.8h2.6v2.6h-2.6zM1609.6 580.9h2.6v2.6h-2.6zM1699.5 522.4h2.6v2.6h-2.6zM1636 569.4h2.6v2.6h-2.6zM1582.2 449h2.6v2.6h-2.6zM1680.5 571.2h2.6v2.6h-2.6zM1658.2 511.4h2.6v2.6h-2.6zM1589.2 500h2.6v2.6h-2.6zM1582.6 544.1h2.6v2.6h-2.6zM1646 537.8h2.6v2.6h-2.6zM1692.2 520.3h2.6v2.6h-2.6zM1616.8 559.8h2.6v2.6h-2.6zM1646.2 546h2.6v2.6h-2.6zM1637.8 540.9h2.6v2.6h-2.6zM1629 551.7h2.6v2.6h-2.6zM1580.8 616.4h2.6v2.6h-2.6zM1698.1 538.4h2.6v2.6h-2.6zM1693.8 539.8h2.6v2.6h-2.6zM1692.7 442.6h2.6v2.6h-2.6zM1601.8 503.1h2.6v2.6h-2.6zM1605.2 560.8h2.6v2.6h-2.6zM1603 595.4h2.6v2.6h-2.6zM1621.6 525.7h2.6v2.6h-2.6zM1629.2 531.4h2.6v2.6h-2.6zM1635.3 509.5h2.6v2.6h-2.6zM1593.6 546.4h2.6v2.6h-2.6zM1677.9 544.1h2.6v2.6h-2.6zM1597.3 560h2.6v2.6h-2.6zM1606.8 515.9h2.6v2.6h-2.6zM1662.1 540.1h2.6v2.6h-2.6zM1672.2 460.4h2.6v2.6h-2.6zM1670.9 550.6h2.6v2.6h-2.6zM1581.7 451.5h2.6v2.6h-2.6zM1674.1 543.4h2.6v2.6h-2.6zM1624 508.6h2.6v2.6h-2.6zM1670.9 570.6h2.6v2.6h-2.6zM1604.2 532.5h2.6v2.6h-2.6zM1588.9 560.1h2.6v2.6h-2.6zM1610.9 574.7h2.6v2.6h-2.6zM1615.6 517.3h2.6v2.6h-2.6zM1699.2 535.2h2.6v2.6h-2.6zM1618.4 540.9h2.6v2.6h-2.6zM1664.8 461.2h2.6v2.6h-2.6zM1580.4 492.3h2.6v2.6h-2.6zM1679.2 539.5h2.6v2.6h-2.6zM1606.8 494.4h2.6v2.6h-2.6zM1614.8 567h2.6v2.6h-2.6zM1646.1 485.8h2.6v2.6h-2.6zM1671 540.8h2.6v2.6h-2.6zM1597.7 555h2.6v2.6h-2.6zM1691 510.9h2.6v2.6h-2.6zM1654.5 590.7h2.6v2.6h-2.6zM1656.2 553.6h2.6v2.6h-2.6zM1659.7 545.4h2.6v2.6h-2.6zM1636.4 563h2.6v2.6h-2.6zM1675.3 553h2.6v2.6h-2.6zM1620.5 531.2h2.6v2.6h-2.6zM1583.5 496.5h2.6v2.6h-2.6zM1595.7 579.6h2.6v2.6h-2.6zM1629 543.3h2.6v2.6h-2.6zM1649 516.7h2.6v2.6h-2.6zM1602.4 570.8h2.6v2.6h-2.6zM1662.4 537.4h2.6v2.6h-2.6zM1669.9 599.3h2.6v2.6h-2.6zM1595.3 552.8h2.6v2.6h-2.6zM1618.4 546.9h2.6v2.6h-2.6zM1628.1 559.3h2.6v2.6h-2.6zM1585.2 537.3h2.6v2.6h-2.6zM1684.8 501.2h2.6v2.6h-2.6zM1672.6 543.4h2.6v2.6h-2.6zM1694 574.3h2.6v2.6h-2.6zM1683.7 579h2.6v2.6h-2.6zM1602.3 498.8h2.6v2.6h-2.6zM1688.3 574.1h2.6v2.6h-2.6zM1647.8 584.2h2.6v2.6h-2.6zM1604.3 618.9h2.6v2.6h-2.6zM1592.4 561.2h2.6v2.6h-2.6zM1680.1 528.3h2.6v2.6h-2.6zM1663.1 588.4h2.6v2.6h-2.6zM1699.5 576.3h2.6v2.6h-2.6zM1670.4 534.1h2.6v2.6h-2.6zM1672.1 566.4h2.6v2.6h-2.6zM1595.8 456.3h2.6v2.6h-2.6zM1667.4 451.1h2.6v2.6h-2.6zM1618.3 516.9h2.6v2.6h-2.6zM1601.3 526.7h2.6v2.6h-2.6zM1655.9 525.4h2.6v2.6h-2.6zM1692.8 500.8h2.6v2.6h-2.6zM1601.1 523.8h2.6v2.6h-2.6zM1616.8 589.6h2.6v2.6h-2.6zM1588.3 616.7h2.6v2.6h-2.6zM1646.1 545.9h2.6v2.6h-2.6zM1599.8 535.1h2.6v2.6h-2.6zM1625.3 543.6h2.6v2.6h-2.6zM1675.2 526.1h2.6v2.6h-2.6zM1583.9 508.3h2.6v2.6h-2.6zM1635.8 539h2.6v2.6h-2.6zM1661.1 519.5h2.6v2.6h-2.6zM1642.7 570.2h2.6v2.6h-2.6zM1693.9 561.9h2.6v2.6h-2.6zM1697.8 559.4h2.6v2.6h-2.6zM1689.1 526.1h2.6v2.6h-2.6zM1690.3 553.6h2.6v2.6h-2.6zM1664.2 596.8h2.6v2.6h-2.6zM1684.9 491.7h2.6v2.6h-2.6zM1651.9 554.6h2.6v2.6h-2.6zM1661.1 544.6h2.6v2.6h-2.6zM1625 530.6h2.6v2.6h-2.6zM1683.6 472.2h2.6v2.6h-2.6zM1663.5 538.6h2.6v2.6h-2.6zM1608 524.1h2.6v2.6h-2.6zM1581.3 549.2h2.6v2.6h-2.6zM1637.3 522.9h2.6v2.6h-2.6zM1598.2 467h2.6v2.6h-2.6zM1680.4 569.1h2.6v2.6h-2.6zM1621.5 609.9h2.6v2.6h-2.6zM1650.1 572.5h2.6v2.6h-2.6zM1627 546.1h2.6v2.6h-2.6zM1607.2 550.4h2.6v2.6h-2.6zM1661.6 546.5h2.6v2.6h-2.6zM1640.6 531.8h2.6v2.6h-2.6zM1668.8 571.5h2.6v2.6h-2.6zM1632.6 605.7h2.6v2.6h-2.6zM1656.7 518.3h2.6v2.6h-2.6zM1581.7 600.9h2.6v2.6h-2.6zM1623 492.7h2.6v2.6h-2.6zM1639.2 514.2h2.6v2.6h-2.6zM1674.2 524.9h2.6v2.6h-2.6zM1602.4 502.2h2.6v2.6h-2.6zM1679.3 514.6h2.6v2.6h-2.6zM1690.8 585.4h2.6v2.6h-2.6zM1698.5 482.2h2.6v2.6h-2.6zM1656 490.1h2.6v2.6h-2.6zM1581.2 488.4h2.6v2.6h-2.6zM1615 496.4h2.6v2.6h-2.6zM1672.5 506.7h2.6v2.6h-2.6zM1675.6 476.3h2.6v2.6h-2.6zM1593.1 519.5h2.6v2.6h-2.6zM1697.6 523.6h2.6v2.6h-2.6zM1590.6 625.5h2.6v2.6h-2.6zM1655.2 553.8h2.6v2.6h-2.6zM1609.2 545.1h2.6v2.6h-2.6zM1605.6 510.2h2.6v2.6h-2.6zM1603.6 515.6h2.6v2.6h-2.6zM1641.1 494.5h2.6v2.6h-2.6zM1686.2 503h2.6v2.6h-2.6zM1587.8 541.6h2.6v2.6h-2.6zM1647 543.4h2.6v2.6h-2.6zM1683.8 530.2h2.6v2.6h-2.6zM1654.9 504.2h2.6v2.6h-2.6zM1667.7 551.9h2.6v2.6h-2.6zM1671.5 540.5h2.6v2.6h-2.6zM1606.3 495.3h2.6v2.6h-2.6zM1662.4 549.7h2.6v2.6h-2.6zM1690 536.1h2.6v2.6h-2.6zM1679.3 595.9h2.6v2.6h-2.6zM1646.6 571h2.6v2.6h-2.6zM1612.3 604.4h2.6v2.6h-2.6zM1625.1 434.1h2.6v2.6h-2.6zM1631.4 533.9h2.6v2.6h-2.6zM1661 583.4h2.6v2.6h-2.6zM1645 470h2.6v2.6h-2.6zM1696.1 502.4h2.6v2.6h-2.6zM1662.5 529.9h2.6v2.6h-2.6zM1661.1 527h2.6v2.6h-2.6zM1633 535.2h2.6v2.6h-2.6zM1688 525.2h2.6v2.6h-2.6zM1635.3 491.8h2.6v2.6h-2.6zM1630.5 578.8h2.6v2.6h-2.6zM1611 514.4h2.6v2.6h-2.6zM1594.4 559h2.6v2.6h-2.6zM1685.3 533.6h2.6v2.6h-2.6zM1626.2 451.8h2.6v2.6h-2.6zM1595.8 554.1h2.6v2.6h-2.6zM1613.5 512.8h2.6v2.6h-2.6zM1608.6 458.7h2.6v2.6h-2.6zM1641.1 544.4h2.6v2.6h-2.6zM1678.7 504.5h2.6v2.6h-2.6zM1584.4 557.4h2.6v2.6h-2.6zM1580.3 582.1h2.6v2.6h-2.6zM1630.9 522.5h2.6v2.6h-2.6zM1624.2 498.3h2.6v2.6h-2.6zM1588.1 474.4h2.6v2.6h-2.6zM1697.8 577.9h2.6v2.6h-2.6zM1587.3 549.6h2.6v2.6h-2.6zM1653.1 534.8h2.6v2.6h-2.6zM1652.9 560.9h2.6v2.6h-2.6zM1680 542h2.6v2.6h-2.6zM1689.3 460.4h2.6v2.6h-2.6zM1609.2 561.2h2.6v2.6h-2.6zM1686.7 500.4h2.6v2.6h-2.6zM1604.3 582.6h2.6v2.6h-2.6zM1682.6 488.1h2.6v2.6h-2.6zM1660.3 581.2h2.6v2.6h-2.6zM1663 573.8h2.6v2.6h-2.6zM1598.4 521.5h2.6v2.6h-2.6zM1609.5 582.5h2.6v2.6h-2.6zM1610.7 479.3h2.6v2.6h-2.6zM1698.8 562.4h2.6v2.6h-2.6zM1581.3 496.5h2.6v2.6h-2.6zM1641.2 514.6h2.6v2.6h-2.6zM1618 565.1h2.6v2.6h-2.6zM1645.2 518.2h2.6v2.6h-2.6zM1599.7 533.7h2.6v2.6h-2.6zM1678.4 559.2h2.6v2.6h-2.6zM1674.4 545.8h2.6v2.6h-2.6zM1650.6 457.4h2.6v2.6h-2.6zM1619.1 583.3h2.6v2.6h-2.6zM1669.5 514.6h2.6v2.6h-2.6zM1611.1 533.5h2.6v2.6h-2.6zM1587.4 480.1h2.6v2.6h-2.6zM1638.4 571.3h2.6v2.6h-2.6zM1648.9 550.2h2.6v2.6h-2.6zM1603.6 471h2.6v2.6h-2.6zM1581.9 475h2.6v2.6h-2.6zM1595.1 545.1h2.6v2.6h-2.6zM1686.5 487.6h2.6v2.6h-2.6zM1595.7 550h2.6v2.6h-2.6zM1660.3 561h2.6v2.6h-2.6zM1685 534h2.6v2.6h-2.6zM1608.3 553.9h2.6v2.6h-2.6zM1581.3 567.1h2.6v2.6h-2.6zM1636.2 510.9h2.6v2.6h-2.6zM1687.6 499h2.6v2.6h-2.6zM1631.4 472.5h2.6v2.6h-2.6zM1594.3 499h2.6v2.6h-2.6zM1617.1 459.6h2.6v2.6h-2.6zM1654.4 487.5h2.6v2.6h-2.6zM1647.1 449.1h2.6v2.6h-2.6zM1628.7 546.5h2.6v2.6h-2.6zM1591.2 611.7h2.6v2.6h-2.6zM1651.7 529.8h2.6v2.6h-2.6zM1607.8 556h2.6v2.6h-2.6zM1647.5 557.6h2.6v2.6h-2.6zM1667.5 552.6h2.6v2.6h-2.6zM1628.3 535.3h2.6v2.6h-2.6zM1638.9 592.2h2.6v2.6h-2.6zM1605.9 533.8h2.6v2.6h-2.6zM1655.1 526.5h2.6v2.6h-2.6zM1646 612.2h2.6v2.6h-2.6zM1610.4 543.6h2.6v2.6h-2.6zM1582.2 533h2.6v2.6h-2.6zM1678.9 545h2.6v2.6h-2.6zM1656.3 505.4h2.6v2.6h-2.6zM1664.3 543.4h2.6v2.6h-2.6zM1618.1 551.9h2.6v2.6h-2.6zM1657.3 591.5h2.6v2.6h-2.6zM1635.2 521.8h2.6v2.6h-2.6zM1639.9 537h2.6v2.6h-2.6zM1629.7 580.8h2.6v2.6h-2.6zM1619.1 553.8h2.6v2.6h-2.6zM1679.7 540.2h2.6v2.6h-2.6zM1600 482.5h2.6v2.6h-2.6zM1591.3 554h2.6v2.6h-2.6zM1628.5 524.4h2.6v2.6h-2.6zM1599.9 515.2h2.6v2.6h-2.6zM1649.4 539.1h2.6v2.6h-2.6zM1674.7 536.7h2.6v2.6h-2.6zM1601.2 517.3h2.6v2.6h-2.6zM1679.8 555.2h2.6v2.6h-2.6zM1583.9 511.7h2.6v2.6h-2.6zM1608.8 563.3h2.6v2.6h-2.6zM1678.8 594.1h2.6v2.6h-2.6zM1674 506h2.6v2.6h-2.6zM1689.8 534.9h2.6v2.6h-2.6zM1588.6 537.7h2.6v2.6h-2.6zM1616.5 524.9h2.6v2.6h-2.6zM1601.9 494.3h2.6v2.6h-2.6zM1635.7 502.8h2.6v2.6h-2.6zM1674.3 585.2h2.6v2.6h-2.6zM1585.9 531.7h2.6v2.6h-2.6zM1676.1 471.4h2.6v2.6h-2.6zM1589.8 588.4h2.6v2.6h-2.6zM1589.9 476.6h2.6v2.6h-2.6zM1611.9 540.9h2.6v2.6h-2.6zM1591.5 566h2.6v2.6h-2.6zM1643.4 531.8h2.6v2.6h-2.6zM1586 467.6h2.6v2.6h-2.6zM1659.4 508.1h2.6v2.6h-2.6zM1607.6 584.3h2.6v2.6h-2.6zM1683.7 542.8h2.6v2.6h-2.6zM1676.5 398.7h2.6v2.6h-2.6zM1662 403.2h2.6v2.6h-2.6zM1588.4 411.7h2.6v2.6h-2.6zM1670.5 418.9h2.6v2.6h-2.6z" fill="#404040" fill-opacity="0.5"/>
<line x1="1196.2" y1="151" x2="1344.5" y2="151" stroke="#111" stroke-width="2.4" />
<text x="1270.3" y="143.6" font-size="14" fill="#333" text-anchor="middle" >***</text>
<line x1="1196.2" y1="181.5" x2="1641.6" y2="181.5" stroke="#111" stroke-width="2.4" />
<text x="1418.9" y="173.3" font-size="14" fill="#333" text-anchor="middle" >***</text>
<line x1="1196.2" y1="211" x2="1493" y2="211" stroke="#111" stroke-width="2.4" />
<text x="1344.6" y="203.9" font-size="14" fill="#333" text-anchor="middle" >***</text>
<text x="5.00" y="57.70" font-size="67.39" fill="#231f20" textLength="43.93" lengthAdjust="spacingAndGlyphs">A</text>
<text x="378.18" y="41.77" font-size="53.24" fill="#231f20" textLength="141.57" lengthAdjust="spacingAndGlyphs">TCGA</text>
<text x="961.51" y="61.80" font-size="67.68" fill="#231f20" textLength="44.14" lengthAdjust="spacingAndGlyphs">B</text>
<text x="1299.94" y="37.87" font-size="52.68" fill="#231f20" textLength="265.04" lengthAdjust="spacingAndGlyphs">METABRIC</text>
<text x="-626.88" y="144.99" font-size="24.81" fill="#231f20" textLength="505.89" lengthAdjust="spacingAndGlyphs" transform="rotate(-90)">CREB5 expression (VST normalized counts)</text>
<text x="-632.87" y="1074.07" font-size="24.92" fill="#231f20" textLength="510.92" lengthAdjust="spacingAndGlyphs" transform="rotate(-90)">CREB5 expression (Log expression intensity)</text>
<text x="226.46" y="676.70" font-size="30.80" fill="#231f20" textLength="76.16" lengthAdjust="spacingAndGlyphs">Basal</text>
<text x="220.76" y="712.90" font-size="30.80" fill="#231f20" textLength="87.01" lengthAdjust="spacingAndGlyphs">N=194</text>
<text x="379.55" y="676.70" font-size="30.80" fill="#231f20" textLength="81.66" lengthAdjust="spacingAndGlyphs">HER2</text>
<text x="382.58" y="712.90" font-size="30.80" fill="#231f20" textLength="73.03" lengthAdjust="spacingAndGlyphs">N=87</text>
<text x="521.37" y="676.70" font-size="30.80" fill="#231f20" textLength="84.44" lengthAdjust="spacingAndGlyphs">LUMA</text>
<text x="518.60" y="712.90" font-size="30.80" fill="#231f20" textLength="89.40" lengthAdjust="spacingAndGlyphs">N=568</text>
<text x="677.14" y="676.70" font-size="30.80" fill="#231f20">LUMB</text>
<text x="674.61" y="712.90" font-size="30.80" fill="#231f20" textLength="89.03" lengthAdjust="spacingAndGlyphs">N=220</text>
<text x="1156.53" y="676.80" font-size="30.80" fill="#231f20">Basal</text>
<text x="1149.28" y="712.50" font-size="30.80" fill="#231f20" textLength="90.08" lengthAdjust="spacingAndGlyphs">N=209</text>
<text x="1310.07" y="676.80" font-size="30.80" fill="#231f20" textLength="80.92" lengthAdjust="spacingAndGlyphs">HER2</text>
<text x="1305.42" y="712.50" font-size="30.80" fill="#231f20" textLength="88.46" lengthAdjust="spacingAndGlyphs">N=224</text>
<text x="1450.97" y="676.80" font-size="30.80" fill="#231f20" textLength="84.54" lengthAdjust="spacingAndGlyphs">LUMA</text>
<text x="1448.91" y="712.50" font-size="30.80" fill="#231f20" textLength="88.82" lengthAdjust="spacingAndGlyphs">N=700</text>
<text x="1608.54" y="676.80" font-size="30.80" fill="#231f20">LUMB</text>
<text x="1605.38" y="712.50" font-size="30.80" fill="#231f20" textLength="89.81" lengthAdjust="spacingAndGlyphs">N=475</text>
<text x="-4.99" y="822.02" font-size="68.31" fill="#231f20">C</text>
<rect x="382.5" y="964.4" width="69.5" height="295.4" fill="#ed1c24" />
<rect x="487" y="1200.7" width="69.5" height="59.1" fill="#f4939e" />
<rect x="592" y="944.8" width="70" height="315" fill="#f47920" />
<rect x="698" y="1161.3" width="69" height="98.5" fill="#fbb882" />
<line x1="346.2" y1="864.4" x2="346.2" y2="1261.6" stroke="#231f20" stroke-width="3.6" />
<line x1="344.4" y1="1259.9" x2="799.4" y2="1259.9" stroke="#231f20" stroke-width="3.6" />
<line x1="333.2" y1="1260.1" x2="348" y2="1260.1" stroke="#231f20" stroke-width="3.6" />
<text x="290.78" y="1270.93" font-size="31.10" fill="#231f20" font-weight="bold">0</text>
<text x="309.76" y="1267.69" font-size="31.10" fill="#231f20" font-weight="bold">-</text>
<line x1="333.2" y1="1161.6" x2="348" y2="1161.6" stroke="#231f20" stroke-width="3.6" />
<text x="290.32" y="1172.32" font-size="31.10" fill="#231f20" font-weight="bold">5</text>
<text x="309.76" y="1169.24" font-size="31.10" fill="#231f20" font-weight="bold">-</text>
<line x1="333.2" y1="1063.2" x2="348" y2="1063.2" stroke="#231f20" stroke-width="3.6" />
<text x="273.52" y="1074.03" font-size="31.10" fill="#231f20" font-weight="bold">10</text>
<text x="309.76" y="1070.79" font-size="31.10" fill="#231f20" font-weight="bold">-</text>
<line x1="333.2" y1="964.7" x2="348" y2="964.7" stroke="#231f20" stroke-width="3.6" />
<text x="273.06" y="975.42" font-size="31.10" fill="#231f20" font-weight="bold">15</text>
<text x="309.76" y="972.34" font-size="31.10" fill="#231f20" font-weight="bold">-</text>
<line x1="333.2" y1="866.3" x2="348" y2="866.3" stroke="#231f20" stroke-width="3.6" />
<text x="273.52" y="877.13" font-size="31.10" fill="#231f20" font-weight="bold">20</text>
<text x="309.76" y="873.89" font-size="31.10" fill="#231f20" font-weight="bold">-</text>
<line x1="416.5" y1="1259" x2="416.5" y2="1274.5" stroke="#231f20" stroke-width="3.6" />
<line x1="521.8" y1="1259" x2="521.8" y2="1274.5" stroke="#231f20" stroke-width="3.6" />
<line x1="626.4" y1="1259" x2="626.4" y2="1274.5" stroke="#231f20" stroke-width="3.6" />
<line x1="732.2" y1="1259" x2="732.2" y2="1274.5" stroke="#231f20" stroke-width="3.6" />
<text x="-1346.10" y="216.60" font-size="31.00" fill="#231f20" font-weight="bold" textLength="565.77" lengthAdjust="spacingAndGlyphs" transform="rotate(-90)"><tspan font-style="italic">CREB5</tspan> amplification or overexpression</text>
<text x="-1085.96" y="252.03" font-size="31.76" fill="#231f20" font-weight="bold" textLength="45.43" lengthAdjust="spacingAndGlyphs" transform="rotate(-90)">(%)</text>
<text transform="translate(430 1303.5) rotate(-38.5)" font-size="27.5" fill="#231f20" text-anchor="end" textLength="374" lengthAdjust="spacingAndGlyphs">Basal-like BC (TCGA, n=171)</text>
<text transform="translate(534.5 1306.8) rotate(-38.5)" font-size="27.5" fill="#231f20" text-anchor="end" textLength="369" lengthAdjust="spacingAndGlyphs">All other BC (TCGA, n=810)</text>
<text transform="translate(641.5 1308) rotate(-38.5)" font-size="27.5" fill="#231f20" text-anchor="end" textLength="446" lengthAdjust="spacingAndGlyphs">Basal-like BC (METABRIC, n=320)</text>
<text transform="translate(745 1302) rotate(-38.5)" font-size="27.5" fill="#231f20" text-anchor="end" textLength="451" lengthAdjust="spacingAndGlyphs">All other BC (METABRIC, n=1660)</text>
<text x="988.77" y="834.80" font-size="67.97" fill="#231f20" textLength="47.22" lengthAdjust="spacingAndGlyphs">D</text>
<text x="1332.71" y="850.67" font-size="53.10" fill="#231f20" textLength="133.61" lengthAdjust="spacingAndGlyphs">BLBC</text>
<line x1="1072.4" y1="867.5" x2="1716.8" y2="867.5" stroke="#959595" stroke-width="2.6" />
<line x1="1716.8" y1="867.5" x2="1716.8" y2="1411.7" stroke="#888" stroke-width="2.4" />
<line x1="1072.4" y1="866.5" x2="1072.4" y2="1412.7" stroke="#111" stroke-width="2.2" />
<line x1="1071.4" y1="1411.7" x2="1717.8" y2="1411.7" stroke="#111" stroke-width="2.2" />
<line x1="1060.5" y1="1390.6" x2="1072.4" y2="1390.6" stroke="#555" stroke-width="2" />
<text x="-1413.14" y="1044.20" font-size="30.60" fill="#231f20" transform="rotate(-90)">0.0</text>
<line x1="1060.5" y1="1289.9" x2="1072.4" y2="1289.9" stroke="#555" stroke-width="2" />
<text x="-1312.21" y="1044.20" font-size="30.60" fill="#231f20" transform="rotate(-90)">0.2</text>
<line x1="1060.5" y1="1189.2" x2="1072.4" y2="1189.2" stroke="#555" stroke-width="2" />
<text x="-1211.82" y="1044.20" font-size="30.60" fill="#231f20" transform="rotate(-90)">0.4</text>
<line x1="1060.5" y1="1088.5" x2="1072.4" y2="1088.5" stroke="#555" stroke-width="2" />
<text x="-1110.97" y="1044.20" font-size="30.60" fill="#231f20" transform="rotate(-90)">0.6</text>
<line x1="1060.5" y1="987.8" x2="1072.4" y2="987.8" stroke="#555" stroke-width="2" />
<text x="-1010.27" y="1044.20" font-size="30.60" fill="#231f20" transform="rotate(-90)">0.8</text>
<line x1="1060.5" y1="887.1" x2="1072.4" y2="887.1" stroke="#555" stroke-width="2" />
<text x="-910.18" y="1044.20" font-size="30.60" fill="#231f20" transform="rotate(-90)">1.0</text>
<line x1="1095.6" y1="1411.7" x2="1095.6" y2="1424" stroke="#555" stroke-width="2" />
<text x="1086.28" y="1455.69" font-size="30.80" fill="#231f20">0</text>
<line x1="1240.3" y1="1411.7" x2="1240.3" y2="1424" stroke="#555" stroke-width="2" />
<text x="1222.32" y="1455.69" font-size="30.80" fill="#231f20">20</text>
<line x1="1385.1" y1="1411.7" x2="1385.1" y2="1424" stroke="#555" stroke-width="2" />
<text x="1367.54" y="1455.69" font-size="30.80" fill="#231f20">40</text>
<line x1="1529.8" y1="1411.7" x2="1529.8" y2="1424" stroke="#555" stroke-width="2" />
<text x="1511.82" y="1455.69" font-size="30.80" fill="#231f20">60</text>
<line x1="1674.6" y1="1411.7" x2="1674.6" y2="1424" stroke="#555" stroke-width="2" />
<text x="1656.65" y="1455.69" font-size="30.80" fill="#231f20">80</text>
<text x="1300.82" y="1502.21" font-size="28.98" fill="#231f20" textLength="186.63" lengthAdjust="spacingAndGlyphs">Time (months)</text>
<text x="-1209.25" y="996.60" font-size="28.56" fill="#231f20" textLength="137.33" lengthAdjust="spacingAndGlyphs" transform="rotate(-90)">Probability</text>
<text x="1147.73" y="1277.90" font-size="30.42" fill="#231f20" font-weight="bold" textLength="99.30" lengthAdjust="spacingAndGlyphs">CREB5</text>
<text x="1117.90" y="1313.50" font-size="29.52" fill="#231f20" font-weight="bold" textLength="157.80" lengthAdjust="spacingAndGlyphs">Expression</text>
<line x1="1097" y1="1348.8" x2="1150.7" y2="1348.8" stroke="#111" stroke-width="1.6" />
<line x1="1097" y1="1380.4" x2="1150.7" y2="1380.4" stroke="#f6b0bf" stroke-width="2.6" />
<text x="1174.94" y="1360.91" font-size="28.71" fill="#231f20">low</text>
<text x="1174.71" y="1391.14" font-size="28.88" fill="#231f20" textLength="56.45" lengthAdjust="spacingAndGlyphs">high</text>
<text x="1398.27" y="1330.14" font-size="28.88" fill="#231f20" textLength="305.49" lengthAdjust="spacingAndGlyphs">HR = 1.88 (1.07 – 3.31)</text>
<text x="1475.01" y="1363.07" font-size="27.27" fill="#231f20" textLength="228.62" lengthAdjust="spacingAndGlyphs">logrank P = 0.025</text>
<text x="1070.86" y="1524.20" font-size="19.20" fill="#231f20">Number at risk</text>
<text x="1015.10" y="1548.00" font-size="19.20" fill="#111">low</text>
<text x="1008.96" y="1571.00" font-size="19.20" fill="#e8416a">high</text>
<text x="1080.05" y="1548.00" font-size="19.20" fill="#111">112</text>
<text x="1079.38" y="1571.00" font-size="19.20" fill="#e8416a">197</text>
<text x="1224.03" y="1548.00" font-size="19.20" fill="#111">106</text>
<text x="1224.03" y="1571.00" font-size="19.20" fill="#e8416a">183</text>
<text x="1374.44" y="1548.00" font-size="19.20" fill="#111">91</text>
<text x="1368.83" y="1571.00" font-size="19.20" fill="#e8416a">129</text>
<text x="1519.29" y="1548.00" font-size="19.20" fill="#111">37</text>
<text x="1519.10" y="1571.00" font-size="19.20" fill="#e8416a">63</text>
<text x="1668.98" y="1548.00" font-size="19.20" fill="#111">1</text>
<text x="1669.18" y="1571.00" font-size="19.20" fill="#e8416a">6</text>
<path d="M1095.5 887.1H1137.3 V890.8H1142.5 V896H1168.5 V905.6H1185.8 V910H1199.6 V914.8H1256.5 V918.7H1266 V922.5H1284.8 V927.5H1293.2 V932.5H1357 V937.4H1400.3 V942.6H1455.6 V949.3H1473 V956.6H1521 V967.9H1556.7 V982H1686.5" fill="none" stroke="#111" stroke-width="1.35"/>
<path d="M1095.5 887.1H1148.3 V892.3H1162.7 V895.6H1172 V899.4H1183 V901.7H1206 V906H1219.4 V911H1225.8 V915.4H1232 V922.5H1240.6 V930.2H1255.4 V936H1267.5 V941.7H1280 V948.5H1292.5 V952H1297 V959H1316.5 V966.7H1332 V971.5H1357 V979H1374 V984H1377 V990H1392 V992.7H1410.6 V996.5H1456.6 V1004H1476 V1010.6H1519 V1015.7H1527 V1026.5H1571 V1033H1577 V1039.8H1582 V1047.6H1698.8" fill="none" stroke="#e8416a" stroke-width="1.35"/>
<path d="M1304 926v13M1298 932.5h12M1314.3 926v13M1308.3 932.5h12M1321.8 926v13M1315.8 932.5h12M1348 926v13M1342 932.5h12M1352 926v13M1346 932.5h12M1363.5 930.9v13M1357.5 937.4h12M1367.7 930.9v13M1361.7 937.4h12M1378 930.9v13M1372 937.4h12M1392.4 930.9v13M1386.4 937.4h12M1395 930.9v13M1389 937.4h12M1399 930.9v13M1393 937.4h12M1401.5 936.1v13M1395.5 942.6h12M1406.6 936.1v13M1400.6 942.6h12M1408.6 936.1v13M1402.6 942.6h12M1410.6 936.1v13M1404.6 942.6h12M1412.7 936.1v13M1406.7 942.6h12M1417.8 936.1v13M1411.8 942.6h12M1425 936.1v13M1419 942.6h12M1428 936.1v13M1422 942.6h12M1431 936.1v13M1425 942.6h12M1434 936.1v13M1428 942.6h12M1443.3 936.1v13M1437.3 942.6h12M1445.4 936.1v13M1439.4 942.6h12M1448.5 936.1v13M1442.5 942.6h12M1451.5 936.1v13M1445.5 942.6h12M1454.6 936.1v13M1448.6 942.6h12M1458.7 942.8v13M1452.7 949.3h12M1460.7 942.8v13M1454.7 949.3h12M1463.8 942.8v13M1457.8 949.3h12M1465.8 942.8v13M1459.8 949.3h12M1467.9 942.8v13M1461.9 949.3h12M1471 942.8v13M1465 949.3h12M1478 950.1v13M1472 956.6h12M1481 950.1v13M1475 956.6h12M1484 950.1v13M1478 956.6h12M1491.4 950.1v13M1485.4 956.6h12M1498.5 950.1v13M1492.5 956.6h12M1505.7 950.1v13M1499.7 956.6h12M1507.7 950.1v13M1501.7 956.6h12M1510.8 950.1v13M1504.8 956.6h12M1513.8 950.1v13M1507.8 956.6h12M1517 950.1v13M1511 956.6h12M1530 961.4v13M1524 967.9h12M1533 961.4v13M1527 967.9h12M1544.5 961.4v13M1538.5 967.9h12M1546 961.4v13M1540 967.9h12M1557.8 975.5v13M1551.8 982h12M1559.8 975.5v13M1553.8 982h12M1563 975.5v13M1557 982h12M1565 975.5v13M1559 982h12M1577.8 975.5v13M1571.8 982h12M1586.4 975.5v13M1580.4 982h12M1589.4 975.5v13M1583.4 982h12M1592.5 975.5v13M1586.5 982h12M1594.5 975.5v13M1588.5 982h12M1596.6 975.5v13M1590.6 982h12M1598.6 975.5v13M1592.6 982h12M1604.8 975.5v13M1598.8 982h12M1605.8 975.5v13M1599.8 982h12M1617 975.5v13M1611 982h12M1623 975.5v13M1617 982h12M1627.2 975.5v13M1621.2 982h12M1632.3 975.5v13M1626.3 982h12M1645.6 975.5v13M1639.6 982h12M1649.7 975.5v13M1643.7 982h12M1656.8 975.5v13M1650.8 982h12M1657.8 975.5v13M1651.8 982h12M1672.2 975.5v13M1666.2 982h12M1679.4 975.5v13M1673.4 982h12" fill="none" stroke="#111" stroke-width="1.7"/>
<path d="M1306.7 952.5v13M1300.7 959h12M1308.4 952.5v13M1302.4 959h12M1309.1 952.5v13M1303.1 959h12M1311.2 952.5v13M1305.2 959h12M1308.4 952.5v13M1302.4 959h12M1310.9 952.5v13M1304.9 959h12M1298.4 952.5v13M1292.4 959h12M1304.5 952.5v13M1298.5 959h12M1311.2 952.5v13M1305.2 959h12M1325.2 960.2v13M1319.2 966.7h12M1327.2 960.2v13M1321.2 966.7h12M1333.6 965v13M1327.6 971.5h12M1338.6 965v13M1332.6 971.5h12M1335.5 965v13M1329.5 971.5h12M1339.6 965v13M1333.6 971.5h12M1340 965v13M1334 971.5h12M1332.2 965v13M1326.2 971.5h12M1335 965v13M1329 971.5h12M1361.4 972.5v13M1355.4 979h12M1369 972.5v13M1363 979h12M1367.2 972.5v13M1361.2 979h12M1359.9 972.5v13M1353.9 979h12M1367.6 972.5v13M1361.6 979h12M1359.7 972.5v13M1353.7 979h12M1365.4 972.5v13M1359.4 979h12M1380.8 983.5v13M1374.8 990h12M1378 983.5v13M1372 990h12M1397.2 986.2v13M1391.2 992.7h12M1382.6 983.5v13M1376.6 990h12M1382.7 983.5v13M1376.7 990h12M1399.6 986.2v13M1393.6 992.7h12M1397.2 986.2v13M1391.2 992.7h12M1384.4 983.5v13M1378.4 990h12M1399.2 986.2v13M1393.2 992.7h12M1389.9 983.5v13M1383.9 990h12M1392.9 986.2v13M1386.9 992.7h12M1424.2 990v13M1418.2 996.5h12M1453.6 990v13M1447.6 996.5h12M1443.6 990v13M1437.6 996.5h12M1454.7 990v13M1448.7 996.5h12M1451.7 990v13M1445.7 996.5h12M1428 990v13M1422 996.5h12M1430.4 990v13M1424.4 996.5h12M1422.6 990v13M1416.6 996.5h12M1421.8 990v13M1415.8 996.5h12M1418.6 990v13M1412.6 996.5h12M1428.1 990v13M1422.1 996.5h12M1440.1 990v13M1434.1 996.5h12M1416.1 990v13M1410.1 996.5h12M1443.1 990v13M1437.1 996.5h12M1429.5 990v13M1423.5 996.5h12M1428.4 990v13M1422.4 996.5h12M1448.7 990v13M1442.7 996.5h12M1435.2 990v13M1429.2 996.5h12M1467.6 997.5v13M1461.6 1004h12M1471.5 997.5v13M1465.5 1004h12M1476.9 1004.1v13M1470.9 1010.6h12M1461.4 997.5v13M1455.4 1004h12M1483.4 1004.1v13M1477.4 1010.6h12M1460.5 997.5v13M1454.5 1004h12M1478 1004.1v13M1472 1010.6h12M1480.3 1004.1v13M1474.3 1010.6h12M1460.4 997.5v13M1454.4 1004h12M1513 1004.1v13M1507 1010.6h12M1507.1 1004.1v13M1501.1 1010.6h12M1510.1 1004.1v13M1504.1 1010.6h12M1502.1 1004.1v13M1496.1 1010.6h12M1502.7 1004.1v13M1496.7 1010.6h12M1521.9 1009.2v13M1515.9 1015.7h12M1525.8 1009.2v13M1519.8 1015.7h12M1537.5 1020v13M1531.5 1026.5h12M1558.7 1020v13M1552.7 1026.5h12M1565.3 1020v13M1559.3 1026.5h12M1565.8 1020v13M1559.8 1026.5h12M1543.1 1020v13M1537.1 1026.5h12M1543.5 1020v13M1537.5 1026.5h12M1549.9 1020v13M1543.9 1026.5h12M1559.5 1020v13M1553.5 1026.5h12M1578.9 1033.3v13M1572.9 1039.8h12M1584 1041.1v13M1578 1047.6h12M1584.4 1041.1v13M1578.4 1047.6h12M1609.2 1041.1v13M1603.2 1047.6h12M1587 1041.1v13M1581 1047.6h12M1611.5 1041.1v13M1605.5 1047.6h12M1588.5 1041.1v13M1582.5 1047.6h12M1595.2 1041.1v13M1589.2 1047.6h12M1602.5 1041.1v13M1596.5 1047.6h12M1610.8 1041.1v13M1604.8 1047.6h12M1595.2 1041.1v13M1589.2 1047.6h12M1611 1041.1v13M1605 1047.6h12M1600.7 1041.1v13M1594.7 1047.6h12M1594.4 1041.1v13M1588.4 1047.6h12M1594.6 1041.1v13M1588.6 1047.6h12M1590.8 1041.1v13M1584.8 1047.6h12M1588.1 1041.1v13M1582.1 1047.6h12M1590 1041.1v13M1584 1047.6h12M1604.6 1041.1v13M1598.6 1047.6h12M1628 1041.1v13M1622 1047.6h12M1620.5 1041.1v13M1614.5 1047.6h12M1619.4 1041.1v13M1613.4 1047.6h12M1627.9 1041.1v13M1621.9 1047.6h12M1649.1 1041.1v13M1643.1 1047.6h12M1646.7 1041.1v13M1640.7 1047.6h12M1643.5 1041.1v13M1637.5 1047.6h12M1650.3 1041.1v13M1644.3 1047.6h12M1654.7 1041.1v13M1648.7 1047.6h12M1647.7 1041.1v13M1641.7 1047.6h12M1647 1041.1v13M1641 1047.6h12M1640.1 1041.1v13M1634.1 1047.6h12M1656.4 1041.1v13M1650.4 1047.6h12M1666.3 1041.1v13M1660.3 1047.6h12M1670.9 1041.1v13M1664.9 1047.6h12M1674.4 1041.1v13M1668.4 1047.6h12M1667.3 1041.1v13M1661.3 1047.6h12M1673.3 1041.1v13M1667.3 1047.6h12M1693.4 1041.1v13M1687.4 1047.6h12M1689.6 1041.1v13M1683.6 1047.6h12M1691.5 1041.1v13M1685.5 1047.6h12M1683.3 1041.1v13M1677.3 1047.6h12M1687.2 1041.1v13M1681.2 1047.6h12M1683.8 1041.1v13M1677.8 1047.6h12" fill="none" stroke="#e8416a" stroke-width="1.6" stroke-opacity="0.85"/>
<text x="18.08" y="1737.70" font-size="67.39" fill="#231f20" textLength="42.71" lengthAdjust="spacingAndGlyphs">E</text>
<text x="372.28" y="1693.76" font-size="53.66" fill="#231f20" textLength="174.69" lengthAdjust="spacingAndGlyphs">BCBMs</text>
<line x1="352.7" y1="1890.4" x2="352.7" y2="1937.9" stroke="#111" stroke-width="2.6" />
<line x1="352.7" y1="2027.3" x2="352.7" y2="2105.2" stroke="#111" stroke-width="2.6" />
<line x1="331.3" y1="1890.4" x2="373.7" y2="1890.4" stroke="#111" stroke-width="2.6" />
<line x1="332" y1="2105.2" x2="373.7" y2="2105.2" stroke="#111" stroke-width="2.6" />
<rect x="313.7" y="1937.9" width="78.3" height="89.4" fill="#ef3e3a" stroke="#111" stroke-width="2.6"/>
<line x1="313.7" y1="1977.3" x2="392" y2="1977.3" stroke="#111" stroke-width="2.6" />
<line x1="473.6" y1="1928.8" x2="473.6" y2="1965.4" stroke="#111" stroke-width="2.6" />
<line x1="473.6" y1="2166.3" x2="473.6" y2="2295.8" stroke="#111" stroke-width="2.6" />
<line x1="452.5" y1="1928.8" x2="494.8" y2="1928.8" stroke="#111" stroke-width="2.6" />
<line x1="452.5" y1="2295.8" x2="494.6" y2="2295.8" stroke="#111" stroke-width="2.6" />
<rect x="434.8" y="1965.4" width="78" height="200.9" fill="#4b5ea9" stroke="#111" stroke-width="2.6"/>
<line x1="434.8" y1="2063.8" x2="512.8" y2="2063.8" stroke="#111" stroke-width="2.6" />
<line x1="593.8" y1="1986.4" x2="593.8" y2="2111" stroke="#111" stroke-width="2.6" />
<line x1="593.8" y1="2195.6" x2="593.8" y2="2334" stroke="#111" stroke-width="2.6" />
<line x1="573.7" y1="1986.4" x2="616.4" y2="1986.4" stroke="#111" stroke-width="2.6" />
<line x1="574" y1="2334" x2="615.8" y2="2334" stroke="#111" stroke-width="2.6" />
<rect x="555.7" y="2111" width="78.3" height="84.6" fill="#a33a97" stroke="#111" stroke-width="2.6"/>
<line x1="555.7" y1="2120.3" x2="634" y2="2120.3" stroke="#111" stroke-width="2.6" />
<line x1="714.7" y1="1919.3" x2="714.7" y2="1952.1" stroke="#111" stroke-width="2.6" />
<line x1="714.7" y1="2115.8" x2="714.7" y2="2161.5" stroke="#111" stroke-width="2.6" />
<line x1="695.8" y1="1919.3" x2="735.4" y2="1919.3" stroke="#111" stroke-width="2.6" />
<line x1="685" y1="2161.5" x2="735.7" y2="2161.5" stroke="#111" stroke-width="2.6" />
<rect x="676" y="1952.1" width="78.4" height="163.7" fill="#f49521" stroke="#111" stroke-width="2.6"/>
<line x1="676" y1="2048.6" x2="754.4" y2="2048.6" stroke="#111" stroke-width="2.6" />
<path d="M359.5 1795.5V1769H485.7V1795.5M359.5 1868.9V1841.3H600.2V1868M359.6 1922.5V1895.6H714.7V1919.3" fill="none" stroke="#111" stroke-width="3"/>
<g fill="#0a0a0a"><circle cx="362.3" cy="1890.8" r="10.2"/><circle cx="342.9" cy="1908" r="10.2"/><circle cx="382.3" cy="1926.3" r="10.2"/><circle cx="323.1" cy="1934.6" r="10.2"/><circle cx="342.9" cy="1942.7" r="10.2"/><circle cx="362.5" cy="1946.9" r="10.2"/><circle cx="323.1" cy="1957.1" r="10.2"/><circle cx="342.5" cy="1966.3" r="10.2"/><circle cx="323.1" cy="1987.9" r="10.2"/><circle cx="342.5" cy="1999.4" r="10.2"/><circle cx="362.5" cy="1993.7" r="10.2"/><circle cx="382.3" cy="2001.9" r="10.2"/><circle cx="352.1" cy="2037.3" r="10.2"/><circle cx="342.9" cy="2083" r="10.2"/><circle cx="362.5" cy="2095.6" r="10.2"/><circle cx="342.9" cy="2106.2" r="10.2"/><circle cx="473.8" cy="1928.8" r="10.2"/><circle cx="444.2" cy="1963.8" r="10.2"/><circle cx="503.5" cy="1958" r="10.2"/><circle cx="444.2" cy="2019.6" r="10.2"/><circle cx="503.5" cy="2010.4" r="10.2"/><circle cx="473.8" cy="2063.8" r="10.2"/><circle cx="473.8" cy="2104.6" r="10.2"/><circle cx="503" cy="2150" r="10.2"/><circle cx="444.2" cy="2167.8" r="10.2"/><circle cx="473.4" cy="2212" r="10.2"/><circle cx="473.4" cy="2295.8" r="10.2"/><circle cx="594.3" cy="1986.4" r="10.2"/><circle cx="564.6" cy="2106.5" r="10.2"/><circle cx="584.2" cy="2120.4" r="10.2"/><circle cx="603.4" cy="2118.4" r="10.2"/><circle cx="623.6" cy="2123.4" r="10.2"/><circle cx="584.2" cy="2184" r="10.2"/><circle cx="603.9" cy="2200.6" r="10.2"/><circle cx="593.8" cy="2333.7" r="10.2"/><circle cx="685.5" cy="1919.9" r="10.2"/><circle cx="744.4" cy="1930.7" r="10.2"/><circle cx="714.7" cy="1971" r="10.2"/><circle cx="714.7" cy="2026.6" r="10.2"/><circle cx="685.5" cy="2048.6" r="10.2"/><circle cx="744.4" cy="2050.6" r="10.2"/><circle cx="714.7" cy="2080.1" r="10.2"/><circle cx="685.2" cy="2161.5" r="10.2"/><circle cx="744.5" cy="2154.5" r="10.2"/></g>
<line x1="272.6" y1="1810.2" x2="272.6" y2="2339.5" stroke="#111" stroke-width="5" />
<line x1="249.6" y1="2337" x2="795.5" y2="2337" stroke="#111" stroke-width="5" />
<line x1="250.6" y1="2337" x2="273" y2="2337" stroke="#111" stroke-width="5" />
<text x="219.13" y="2351.02" font-size="41.50" fill="#0a0a0a" font-weight="bold">0</text>
<line x1="250.6" y1="2162.2" x2="273" y2="2162.2" stroke="#111" stroke-width="5" />
<text x="219.13" y="2176.42" font-size="41.50" fill="#0a0a0a" font-weight="bold">2</text>
<line x1="250.6" y1="1987.4" x2="273" y2="1987.4" stroke="#111" stroke-width="5" />
<text x="217.68" y="2001.42" font-size="41.50" fill="#0a0a0a" font-weight="bold">4</text>
<line x1="250.6" y1="1812.6" x2="273" y2="1812.6" stroke="#111" stroke-width="5" />
<text x="218.92" y="1826.62" font-size="41.50" fill="#0a0a0a" font-weight="bold">6</text>
<line x1="352.5" y1="2337" x2="352.5" y2="2359" stroke="#111" stroke-width="5" />
<line x1="473.2" y1="2337" x2="473.2" y2="2359" stroke="#111" stroke-width="5" />
<line x1="593.6" y1="2337" x2="593.6" y2="2359" stroke="#111" stroke-width="5" />
<line x1="714.5" y1="2337" x2="714.5" y2="2359" stroke="#111" stroke-width="5" />
<text transform="translate(361 2393) rotate(-45)" font-size="40.5" fill="#0a0a0a" text-anchor="end" font-weight="bold">BASAL</text>
<text transform="translate(481.7 2393) rotate(-45)" font-size="40.5" fill="#0a0a0a" text-anchor="end" font-weight="bold">LUMA</text>
<text transform="translate(602.1 2393) rotate(-45)" font-size="40.5" fill="#0a0a0a" text-anchor="end" font-weight="bold">LUMB</text>
<text transform="translate(723 2393) rotate(-45)" font-size="40.5" fill="#0a0a0a" text-anchor="end" font-weight="bold">HER2+</text>
<text x="-2328.79" y="197.36" font-size="44.49" fill="#0a0a0a" font-weight="bold" textLength="508.22" lengthAdjust="spacingAndGlyphs" transform="rotate(-90)">CREB5 expression (TPM)</text>
<text x="410.67" y="1760.21" font-size="48.39" fill="#ed1c24" font-family="DejaVu Sans" font-weight="bold" textLength="24.41" lengthAdjust="spacingAndGlyphs">*</text>
<text x="445.20" y="1832.90" font-size="49.46" fill="#ed1c24" font-family="DejaVu Sans" font-weight="bold" textLength="70.68" lengthAdjust="spacingAndGlyphs">***</text>
<text x="521.7" y="1872" font-size="32" fill="#231f20" textLength="30.3" lengthAdjust="spacingAndGlyphs" >ns</text>
<text x="1012.16" y="1729.90" font-size="67.83" fill="#231f20" textLength="39.27" lengthAdjust="spacingAndGlyphs">F</text>
<rect x="1071.7" y="1864" width="13" height="200.6" fill="#ed1c24" />
<rect x="1087.5" y="1877.1" width="13" height="187.5" fill="#ed1c24" />
<rect x="1103.3" y="1970.8" width="13" height="93.8" fill="#ed1c24" />
<rect x="1119.2" y="1988.3" width="13" height="76.3" fill="#ed1c24" />
<rect x="1135" y="1991" width="13" height="73.6" fill="#ed1c24" />
<rect x="1150.8" y="1993" width="13" height="71.6" fill="#ed1c24" />
<rect x="1166.6" y="2028" width="13" height="36.6" fill="#ed1c24" />
<rect x="1182.4" y="2028" width="13" height="36.6" fill="#ed1c24" />
<rect x="1198.3" y="2053" width="13" height="11.6" fill="#ed1c24" />
<rect x="1214.1" y="2064.6" width="13" height="24.1" fill="#ed1c24" />
<rect x="1229.9" y="2064.6" width="13" height="26.4" fill="#ed1c24" />
<rect x="1245.7" y="2064.6" width="13" height="26.4" fill="#ed1c24" />
<rect x="1261.5" y="2064.6" width="13" height="30.8" fill="#ed1c24" />
<rect x="1277.4" y="2064.6" width="13" height="32.4" fill="#ed1c24" />
<rect x="1293.2" y="2064.6" width="13" height="45.8" fill="#ed1c24" />
<rect x="1309" y="2064.6" width="13" height="82.4" fill="#ed1c24" />
<rect x="1349.5" y="1953.1" width="13" height="111.5" fill="#5560ab" />
<rect x="1365.3" y="2044.4" width="13" height="20.2" fill="#5560ab" />
<rect x="1381.1" y="2064.6" width="13" height="19.8" fill="#5560ab" />
<rect x="1397" y="2064.6" width="13" height="35.6" fill="#5560ab" />
<rect x="1412.8" y="2064.6" width="13" height="38.2" fill="#5560ab" />
<rect x="1428.6" y="2064.6" width="13" height="58.8" fill="#5560ab" />
<rect x="1444.4" y="2064.6" width="13" height="71.8" fill="#5560ab" />
<rect x="1460.2" y="2064.6" width="13" height="80.4" fill="#5560ab" />
<rect x="1476.1" y="2064.6" width="13" height="124.8" fill="#5560ab" />
<rect x="1491.9" y="2064.6" width="13" height="201.1" fill="#5560ab" />
<rect x="1507.7" y="2064.6" width="13" height="219.5" fill="#5560ab" />
<rect x="1548.5" y="2064.6" width="13" height="35.4" fill="#a15ba6" />
<rect x="1564.3" y="2064.6" width="13" height="62.7" fill="#a15ba6" />
<rect x="1580.1" y="2064.6" width="13" height="71.8" fill="#a15ba6" />
<rect x="1596" y="2064.6" width="13" height="74.4" fill="#a15ba6" />
<rect x="1611.8" y="2064.6" width="13" height="83.7" fill="#a15ba6" />
<rect x="1627.6" y="2064.6" width="13" height="107" fill="#a15ba6" />
<rect x="1643.4" y="2064.6" width="13" height="110.1" fill="#a15ba6" />
<rect x="1659.2" y="2064.6" width="13" height="252.8" fill="#a15ba6" />
<rect x="1701.2" y="1937" width="13" height="127.6" fill="#f7941d" />
<rect x="1717" y="1946.6" width="13" height="118" fill="#f7941d" />
<rect x="1732.8" y="1987.8" width="13" height="76.8" fill="#f7941d" />
<rect x="1748.7" y="2026" width="13" height="38.6" fill="#f7941d" />
<rect x="1764.5" y="2041.4" width="13" height="23.2" fill="#f7941d" />
<rect x="1780.3" y="2051.3" width="13" height="13.3" fill="#f7941d" />
<rect x="1796.1" y="2064.6" width="13" height="14.6" fill="#f7941d" />
<rect x="1811.9" y="2064.6" width="13" height="24" fill="#f7941d" />
<rect x="1827.8" y="2064.6" width="13" height="86.2" fill="#f7941d" />
<line x1="1064.5" y1="1801.2" x2="1064.5" y2="2328" stroke="#111" stroke-width="5" />
<line x1="1062" y1="2064.6" x2="1846.3" y2="2064.6" stroke="#111" stroke-width="5" />
<line x1="1062" y1="2325.6" x2="1848.4" y2="2325.6" stroke="#111" stroke-width="5" />
<line x1="1042.3" y1="1803.6" x2="1065" y2="1803.6" stroke="#111" stroke-width="5" />
<text x="969.82" y="1818.61" font-size="40.60" fill="#0a0a0a" font-weight="bold">100</text>
<line x1="1042.3" y1="1934.1" x2="1065" y2="1934.1" stroke="#111" stroke-width="5" />
<text x="992.36" y="1949.11" font-size="40.60" fill="#0a0a0a" font-weight="bold">50</text>
<line x1="1042.3" y1="2064.6" x2="1065" y2="2064.6" stroke="#111" stroke-width="5" />
<text x="1014.89" y="2079.61" font-size="40.60" fill="#0a0a0a" font-weight="bold">0</text>
<line x1="1042.3" y1="2195.1" x2="1065" y2="2195.1" stroke="#111" stroke-width="5" />
<text x="978.76" y="2210.11" font-size="40.60" fill="#0a0a0a" font-weight="bold">-50</text>
<line x1="1042.3" y1="2325.6" x2="1065" y2="2325.6" stroke="#111" stroke-width="5" />
<text x="956.22" y="2340.61" font-size="40.60" fill="#0a0a0a" font-weight="bold">-100</text>
<text x="-2410.04" y="932.29" font-size="43.85" fill="#0a0a0a" font-weight="bold" textLength="691.10" lengthAdjust="spacingAndGlyphs" transform="rotate(-90)">Change in CREB5 expression (%)</text>
<line x1="1699.5" y1="1771.8" x2="1754.8" y2="1771.8" stroke="#ed1c24" stroke-width="8.6" />
<text x="1785.01" y="1779.90" font-size="24.90" fill="#231f20" textLength="65.33" lengthAdjust="spacingAndGlyphs">Basal</text>
<line x1="1699.5" y1="1810.4" x2="1754.8" y2="1810.4" stroke="#5560ab" stroke-width="8.6" />
<text x="1785.09" y="1818.50" font-size="24.90" fill="#231f20" textLength="69.90" lengthAdjust="spacingAndGlyphs">LUMA</text>
<line x1="1699.5" y1="1849.4" x2="1754.8" y2="1849.4" stroke="#a15ba6" stroke-width="8.6" />
<text x="1785.08" y="1857.50" font-size="24.90" fill="#231f20" textLength="70.28" lengthAdjust="spacingAndGlyphs">LUMB</text>
<line x1="1699.5" y1="1888" x2="1754.8" y2="1888" stroke="#f7941d" stroke-width="8.6" />
<text x="1785.05" y="1896.10" font-size="24.90" fill="#231f20" textLength="83.14" lengthAdjust="spacingAndGlyphs">HER2+</text>
</svg></body></html>
